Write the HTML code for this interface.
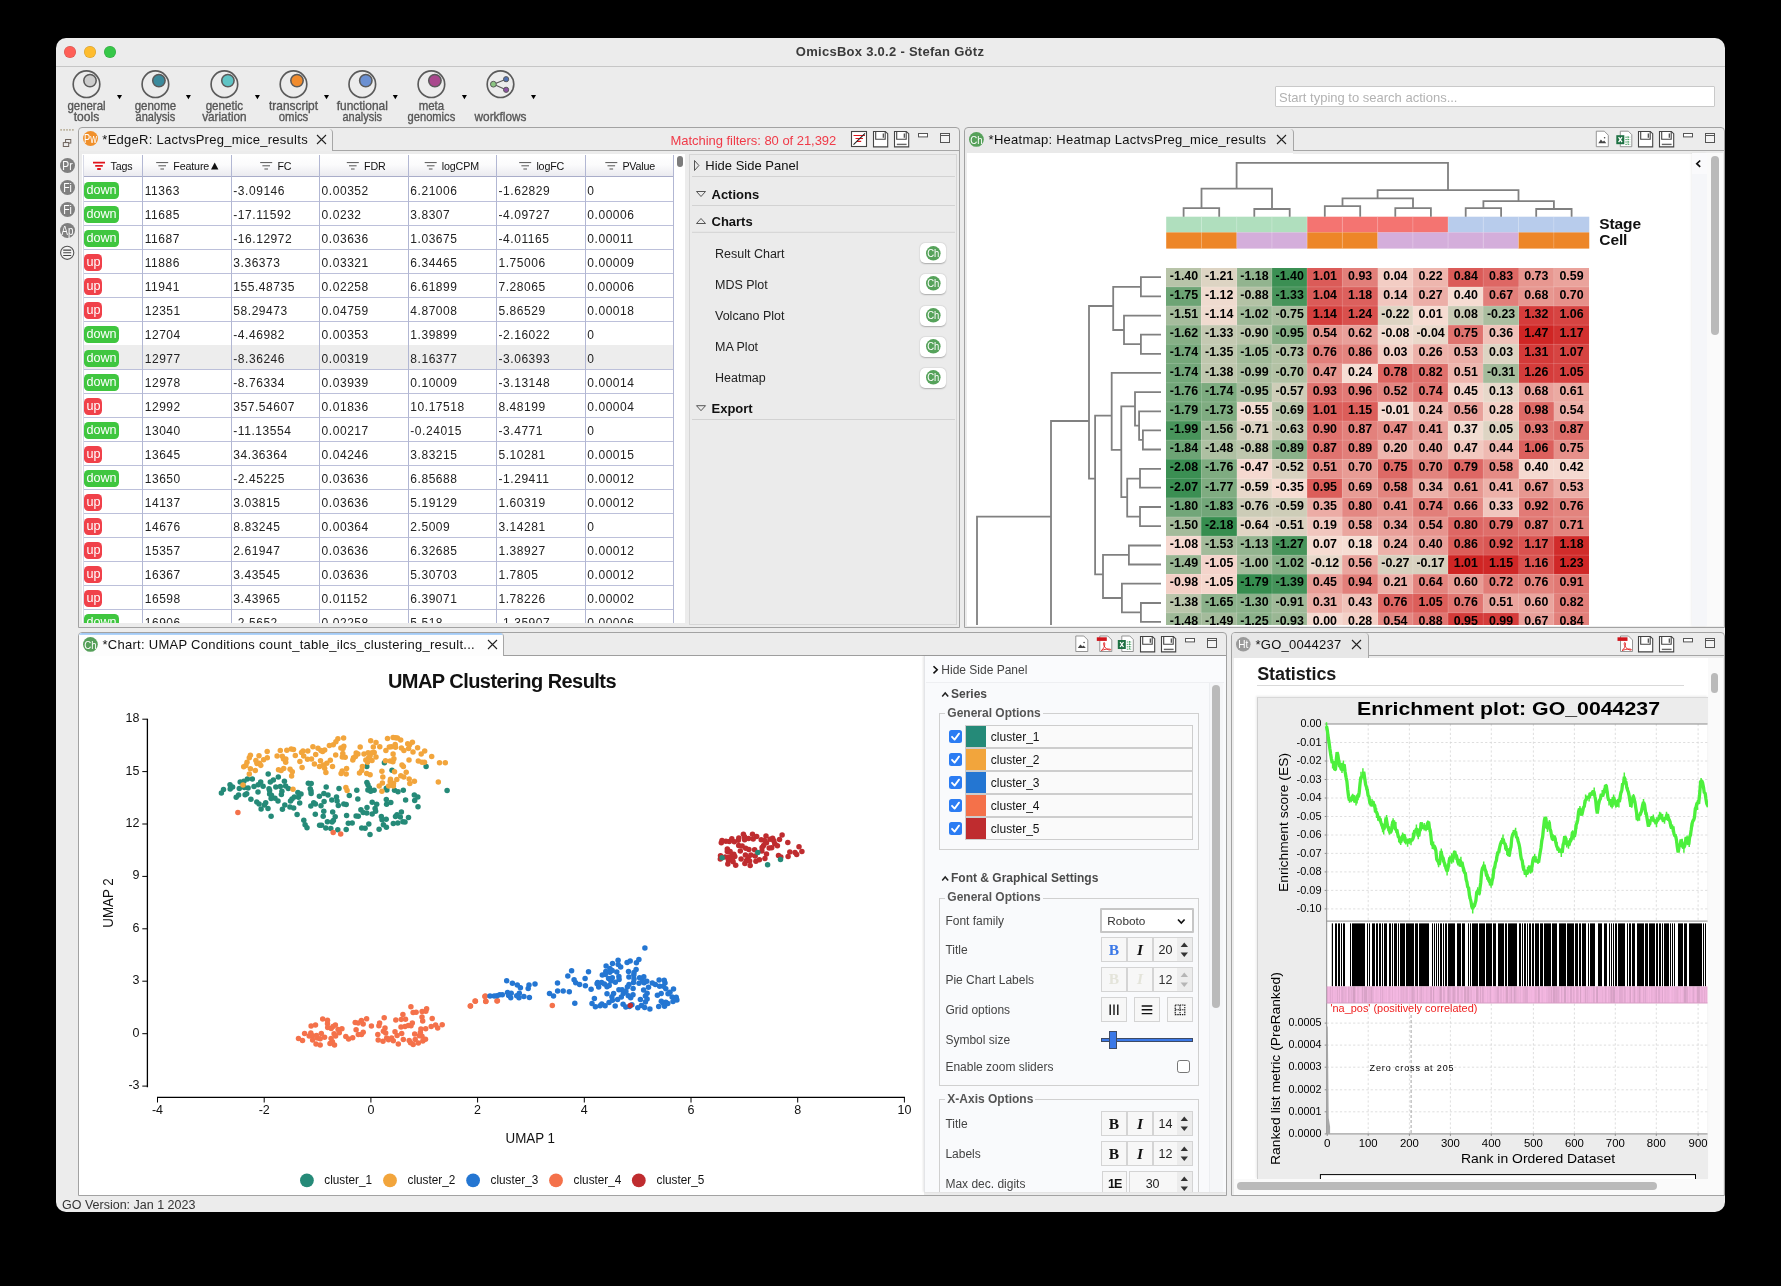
<!DOCTYPE html>
<html><head><meta charset="utf-8"><title>OmicsBox</title><style>
*{box-sizing:border-box;margin:0;padding:0}
html,body{width:1781px;height:1286px;background:#000;overflow:hidden}
body{position:relative;font-family:"Liberation Sans",sans-serif;font-size:13px;color:#111}
.a{position:absolute}
.t{position:absolute;white-space:nowrap;line-height:1}
svg{position:absolute;overflow:visible}
#win{left:56px;top:38px;width:1669px;height:1173.6px;background:#ececec;border-radius:10px;overflow:hidden}
.pnl{position:absolute;border:1px solid #a2a2a2;border-radius:4px 4px 0 0;background:#ececec}
.tabtxt{position:absolute;white-space:nowrap;font-size:13px;line-height:16px;color:#111;letter-spacing:0.27px}
.cell{position:absolute;font-size:12px;line-height:14px;color:#222;white-space:nowrap;letter-spacing:0.55px}
.hdr{position:absolute;letter-spacing:-0.15px;font-size:10.7px;line-height:14px;color:#111;white-space:nowrap}
.tag{position:absolute;height:17px;border-radius:4.5px;color:#fff;font-size:12.6px;line-height:17.4px;padding-left:2.4px;letter-spacing:-0.1px}
.hm{position:absolute;font-weight:bold;font-size:12.4px;line-height:16.6px;text-align:center;color:#000;width:35.6px;height:19.5px;letter-spacing:0}
.lbl{position:absolute;font-size:12px;line-height:14px;color:#444;white-space:nowrap}
.bl{position:absolute;font-size:12px;line-height:14px;color:#4a4a4a;font-weight:bold;white-space:nowrap}
.fs{position:absolute;border:1px solid #d0d0d0}
.btn{position:absolute;border:1px solid #d4d4d4;background:#f7f7f7}
.dj{position:absolute;white-space:nowrap;line-height:1;color:#000}
</style></head><body><div id="root" style="position:absolute;left:0;top:0;width:1781px;height:1286px;will-change:transform">
<div id="win" class="a"></div>
<div class="a" style="left:56px;top:66px;width:1669px;height:1px;background:#c6c6c6"></div>
<div class="a" style="left:63.8px;top:46px;width:12px;height:12px;border-radius:50%;background:#fe5f57;box-shadow:inset 0 0 0 0.5px rgba(0,0,0,.18)"></div>
<div class="a" style="left:83.8px;top:46px;width:12px;height:12px;border-radius:50%;background:#febc2e;box-shadow:inset 0 0 0 0.5px rgba(0,0,0,.18)"></div>
<div class="a" style="left:104.0px;top:46px;width:12px;height:12px;border-radius:50%;background:#36c748;box-shadow:inset 0 0 0 0.5px rgba(0,0,0,.18)"></div>
<div class="t" style="left:690px;width:400px;text-align:center;top:45px;font-size:13px;font-weight:bold;color:#3b3b3b;line-height:14px;letter-spacing:0.28px">OmicsBox 3.0.2 - Stefan Götz</div>
<svg class="a" style="left:0;top:0" width="1781" height="140"><circle cx="86.5" cy="84.2" r="13.3" fill="none" stroke="#5a5a5a" stroke-width="1.65"/><circle cx="90.0" cy="80.6" r="6.2" fill="#cccccc" stroke="#5a5a5a" stroke-width="1.55"/><path d="M117.0 95 h5 l-2.5 4.2 z" fill="#000"/><text x="86.5" y="109.9" text-anchor="middle" font-size="13.1" fill="#555" stroke="#555" stroke-width="0.35" textLength="38.2" lengthAdjust="spacingAndGlyphs">general</text><text x="86.5" y="121.3" text-anchor="middle" font-size="13.1" fill="#555" stroke="#555" stroke-width="0.35" textLength="25.5" lengthAdjust="spacingAndGlyphs">tools</text><circle cx="155.4" cy="84.2" r="13.3" fill="none" stroke="#5a5a5a" stroke-width="1.65"/><circle cx="158.9" cy="80.6" r="6.2" fill="#3b8a9c" stroke="#5a5a5a" stroke-width="1.55"/><path d="M185.9 95 h5 l-2.5 4.2 z" fill="#000"/><text x="155.4" y="109.9" text-anchor="middle" font-size="13.1" fill="#555" stroke="#555" stroke-width="0.35" textLength="41.5" lengthAdjust="spacingAndGlyphs">genome</text><text x="155.4" y="121.3" text-anchor="middle" font-size="13.1" fill="#555" stroke="#555" stroke-width="0.35" textLength="39.6" lengthAdjust="spacingAndGlyphs">analysis</text><circle cx="224.4" cy="84.2" r="13.3" fill="none" stroke="#5a5a5a" stroke-width="1.65"/><circle cx="227.9" cy="80.6" r="6.2" fill="#5fc4c5" stroke="#5a5a5a" stroke-width="1.55"/><path d="M254.9 95 h5 l-2.5 4.2 z" fill="#000"/><text x="224.4" y="109.9" text-anchor="middle" font-size="13.1" fill="#555" stroke="#555" stroke-width="0.35" textLength="37.5" lengthAdjust="spacingAndGlyphs">genetic</text><text x="224.4" y="121.3" text-anchor="middle" font-size="13.1" fill="#555" stroke="#555" stroke-width="0.35" textLength="44.5" lengthAdjust="spacingAndGlyphs">variation</text><circle cx="293.5" cy="84.2" r="13.3" fill="none" stroke="#5a5a5a" stroke-width="1.65"/><circle cx="297.0" cy="80.6" r="6.2" fill="#f08b2d" stroke="#5a5a5a" stroke-width="1.55"/><path d="M324.0 95 h5 l-2.5 4.2 z" fill="#000"/><text x="293.5" y="109.9" text-anchor="middle" font-size="13.1" fill="#555" stroke="#555" stroke-width="0.35" textLength="49.0" lengthAdjust="spacingAndGlyphs">transcript</text><text x="293.5" y="121.3" text-anchor="middle" font-size="13.1" fill="#555" stroke="#555" stroke-width="0.35" textLength="29.5" lengthAdjust="spacingAndGlyphs">omics</text><circle cx="362.3" cy="84.2" r="13.3" fill="none" stroke="#5a5a5a" stroke-width="1.65"/><circle cx="365.8" cy="80.6" r="6.2" fill="#6b90d2" stroke="#5a5a5a" stroke-width="1.55"/><path d="M392.8 95 h5 l-2.5 4.2 z" fill="#000"/><text x="362.3" y="109.9" text-anchor="middle" font-size="13.1" fill="#555" stroke="#555" stroke-width="0.35" textLength="51.0" lengthAdjust="spacingAndGlyphs">functional</text><text x="362.3" y="121.3" text-anchor="middle" font-size="13.1" fill="#555" stroke="#555" stroke-width="0.35" textLength="39.6" lengthAdjust="spacingAndGlyphs">analysis</text><circle cx="431.4" cy="84.2" r="13.3" fill="none" stroke="#5a5a5a" stroke-width="1.65"/><circle cx="434.9" cy="80.6" r="6.2" fill="#a9488d" stroke="#5a5a5a" stroke-width="1.55"/><path d="M461.9 95 h5 l-2.5 4.2 z" fill="#000"/><text x="431.4" y="109.9" text-anchor="middle" font-size="13.1" fill="#555" stroke="#555" stroke-width="0.35" textLength="25.4" lengthAdjust="spacingAndGlyphs">meta</text><text x="431.4" y="121.3" text-anchor="middle" font-size="13.1" fill="#555" stroke="#555" stroke-width="0.35" textLength="47.7" lengthAdjust="spacingAndGlyphs">genomics</text><circle cx="500.5" cy="84.2" r="13.3" fill="none" stroke="#5a5a5a" stroke-width="1.65"/><path d="M493.5 84.2 L506.0 79.2 M493.5 84.2 L506.0 89.8" stroke="#595959" stroke-width="1.2"/><circle cx="493.4" cy="84.2" r="2.9" fill="#8cc682" stroke="#595959" stroke-width="1"/><circle cx="506.1" cy="79.2" r="2.6" fill="#5172b3" stroke="#595959" stroke-width="1"/><circle cx="506.1" cy="89.8" r="2.6" fill="#8d52a3" stroke="#595959" stroke-width="1"/><path d="M531.0 95 h5 l-2.5 4.2 z" fill="#000"/><text x="500.5" y="121.3" text-anchor="middle" font-size="13.1" fill="#555" stroke="#555" stroke-width="0.35" textLength="51.9" lengthAdjust="spacingAndGlyphs">workflows</text></svg>
<div class="a" style="left:1275px;top:86px;width:1440px;"></div>
<div class="a" style="left:1275px;top:86px;width:440px;height:21px;background:#fff;border:1px solid #c9c9c9;border-radius:1px"></div>
<div class="t" style="left:1279px;top:91px;font-size:13px;color:#b2b2b2;line-height:14px">Start typing to search actions...</div>
<svg style="left:0;top:0" width="100" height="140"><rect x="60.4" y="129.2" width="1.4" height="1.4" fill="#a29474"/><rect x="63.4" y="129.2" width="1.4" height="1.4" fill="#a29474"/><rect x="66.3" y="129.2" width="1.4" height="1.4" fill="#a29474"/><rect x="69.2" y="129.2" width="1.4" height="1.4" fill="#a29474"/><rect x="72.2" y="129.2" width="1.4" height="1.4" fill="#a29474"/></svg>
<svg class="a" style="left:0;top:0" width="100" height="300"><rect x="65.6" y="139.5" width="5.2" height="3.6" fill="#ececec" stroke="#675c55" stroke-width="0.95"/><rect x="63.3" y="142.6" width="5.4" height="3.9" fill="#ececec" stroke="#675c55" stroke-width="0.95"/><circle cx="67.2" cy="252.8" r="6.6" fill="#f4f4f4" stroke="#555" stroke-width="1.1"/><path d="M63.2 250.1h8M63.2 252.8h8M63.2 255.5h8" stroke="#444" stroke-width="1.1"/></svg>
<svg style="left:59.7px;top:157.5px" width="15.0" height="15.0"><circle cx="7.5" cy="7.5" r="7.5" fill="#7f7f7f"/><text x="7.5" y="11.8" text-anchor="middle" font-size="12.0" fill="#fff" textLength="10.3" lengthAdjust="spacingAndGlyphs">Pr</text></svg>
<svg style="left:59.7px;top:179.6px" width="15.0" height="15.0"><circle cx="7.5" cy="7.5" r="7.5" fill="#7f7f7f"/><text x="7.5" y="11.8" text-anchor="middle" font-size="12.0" fill="#fff" textLength="8.7" lengthAdjust="spacingAndGlyphs">Fi</text></svg>
<svg style="left:59.7px;top:201.5px" width="15.0" height="15.0"><circle cx="7.5" cy="7.5" r="7.5" fill="#7f7f7f"/><text x="7.5" y="11.8" text-anchor="middle" font-size="12.0" fill="#fff" textLength="8.7" lengthAdjust="spacingAndGlyphs">Fi</text></svg>
<svg style="left:59.7px;top:223.4px" width="15.0" height="15.0"><circle cx="7.5" cy="7.5" r="7.5" fill="#7f7f7f"/><text x="7.5" y="11.8" text-anchor="middle" font-size="12.0" fill="#fff" textLength="11.8" lengthAdjust="spacingAndGlyphs">Ap</text></svg>
<div class="t" style="left:62px;top:1198px;font-size:12.5px;color:#333;line-height:14px">GO Version: Jan 1 2023</div>
<div class="pnl" style="left:78px;top:127px;width:882px;height:500.5px"></div>
<div class="a" style="left:79px;top:150px;width:880px;height:1px;background:#a6a6a6"></div>
<div class="a" style="left:79px;top:128.5px;width:254px;height:22.5px;background:#eeeeee;border-right:1px solid #a6a6a6;border-radius:3px 4px 0 0"></div>
<svg style="left:82.6px;top:131.3px" width="15.0" height="15.0"><circle cx="7.5" cy="7.5" r="7.5" fill="#f0902b"/><text x="7.5" y="11.8" text-anchor="middle" font-size="12.0" fill="#fff" textLength="12.8" lengthAdjust="spacingAndGlyphs">Pw</text></svg>
<div class="tabtxt" style="left:102.3px;top:131.5px">*EdgeR: LactvsPreg_mice_results</div>
<svg style="left:316px;top:134px" width="11" height="11"><path d="M1 1l9 9M10 1l-9 9" stroke="#222" stroke-width="1.1"/></svg>
<div class="tabtxt" style="left:670.5px;top:132.5px;color:#f03a48;letter-spacing:-0.04px">Matching filters: 80 of 21,392</div>
<svg style="left:0;top:0" width="1781" height="160"><rect x="851.5" y="131.5" width="15" height="15" fill="#fff" stroke="#444" stroke-width="1.1"/><path d="M853.5 135.5h11.5M855.5 138.5h7.5M857 141.4h4.2" stroke="#e0141c" stroke-width="1.1"/><path d="M853.5 144.6l11.5 -11.2" stroke="#222" stroke-width="1.1"/><path d="M873.5 131.5 h11.8 l2.4 2.2 v13.2 h-14.2 z" fill="#fff" stroke="#444" stroke-width="1.1"/><path d="M875.7 131.7 v7.6 h9.5 v-7.6" fill="none" stroke="#444" stroke-width="1.1"/><path d="M883.3 133.6 v4.2" stroke="#444" stroke-width="1.2"/><path d="M894.5 131.5 h11.8 l2.4 2.2 v13.2 h-14.2 z" fill="#fff" stroke="#444" stroke-width="1.1"/><path d="M896.7 131.7 v7.6 h9.5 v-7.6" fill="none" stroke="#444" stroke-width="1.1"/><path d="M904.3 133.6 v4.2" stroke="#444" stroke-width="1.2"/><path d="M896.8 144.4 h9.8" stroke="#666" stroke-width="1.4"/><rect x="918.5" y="133.5" width="9" height="3.4" fill="#fff" stroke="#555" stroke-width="1"/><rect x="940.5" y="133.5" width="9" height="9" fill="#f4f4f4" stroke="#555" stroke-width="1"/><path d="M940.5 135.5 h9" stroke="#555" stroke-width="1"/></svg>
<div class="a" style="left:82px;top:154px;width:603px;height:469px;background:#fff;overflow:hidden" id="tblwrap">
<div class="a" style="left:1.0px;top:1px;width:590.7px;height:21.5px;background:linear-gradient(#ffffff 0%,#fbfbfc 45%,#e9e9ee 100%)"></div>
<div class="a" style="left:1.0px;top:21.6px;width:590.7px;height:1.6px;background:#a9adc9"></div>
<div class="a" style="left:1.0px;top:47.0px;width:590.7px;height:1px;background:#bcc0da"></div>
<div class="tag" style="left:2.2px;top:28.4px;width:34.8px;background:#3fc63f">down</div>
<div class="cell" style="left:62.7px;top:29.8px">11363</div>
<div class="cell" style="left:151.3px;top:29.8px">-3.09146</div>
<div class="cell" style="left:239.6px;top:29.8px">0.00352</div>
<div class="cell" style="left:328.3px;top:29.8px">6.21006</div>
<div class="cell" style="left:416.5px;top:29.8px">-1.62829</div>
<div class="cell" style="left:505.3px;top:29.8px">0</div>
<div class="a" style="left:1.0px;top:71.0px;width:590.7px;height:1px;background:#bcc0da"></div>
<div class="tag" style="left:2.2px;top:52.4px;width:34.8px;background:#3fc63f">down</div>
<div class="cell" style="left:62.7px;top:53.8px">11685</div>
<div class="cell" style="left:151.3px;top:53.8px">-17.11592</div>
<div class="cell" style="left:239.6px;top:53.8px">0.0232</div>
<div class="cell" style="left:328.3px;top:53.8px">3.8307</div>
<div class="cell" style="left:416.5px;top:53.8px">-4.09727</div>
<div class="cell" style="left:505.3px;top:53.8px">0.00006</div>
<div class="a" style="left:1.0px;top:95.0px;width:590.7px;height:1px;background:#bcc0da"></div>
<div class="tag" style="left:2.2px;top:76.4px;width:34.8px;background:#3fc63f">down</div>
<div class="cell" style="left:62.7px;top:77.8px">11687</div>
<div class="cell" style="left:151.3px;top:77.8px">-16.12972</div>
<div class="cell" style="left:239.6px;top:77.8px">0.03636</div>
<div class="cell" style="left:328.3px;top:77.8px">1.03675</div>
<div class="cell" style="left:416.5px;top:77.8px">-4.01165</div>
<div class="cell" style="left:505.3px;top:77.8px">0.00011</div>
<div class="a" style="left:1.0px;top:119.0px;width:590.7px;height:1px;background:#bcc0da"></div>
<div class="tag" style="left:2.2px;top:100.4px;width:17.8px;background:#f0414a">up</div>
<div class="cell" style="left:62.7px;top:101.8px">11886</div>
<div class="cell" style="left:151.3px;top:101.8px">3.36373</div>
<div class="cell" style="left:239.6px;top:101.8px">0.03321</div>
<div class="cell" style="left:328.3px;top:101.8px">6.34465</div>
<div class="cell" style="left:416.5px;top:101.8px">1.75006</div>
<div class="cell" style="left:505.3px;top:101.8px">0.00009</div>
<div class="a" style="left:1.0px;top:143.0px;width:590.7px;height:1px;background:#bcc0da"></div>
<div class="tag" style="left:2.2px;top:124.4px;width:17.8px;background:#f0414a">up</div>
<div class="cell" style="left:62.7px;top:125.8px">11941</div>
<div class="cell" style="left:151.3px;top:125.8px">155.48735</div>
<div class="cell" style="left:239.6px;top:125.8px">0.02258</div>
<div class="cell" style="left:328.3px;top:125.8px">6.61899</div>
<div class="cell" style="left:416.5px;top:125.8px">7.28065</div>
<div class="cell" style="left:505.3px;top:125.8px">0.00006</div>
<div class="a" style="left:1.0px;top:167.0px;width:590.7px;height:1px;background:#bcc0da"></div>
<div class="tag" style="left:2.2px;top:148.4px;width:17.8px;background:#f0414a">up</div>
<div class="cell" style="left:62.7px;top:149.8px">12351</div>
<div class="cell" style="left:151.3px;top:149.8px">58.29473</div>
<div class="cell" style="left:239.6px;top:149.8px">0.04759</div>
<div class="cell" style="left:328.3px;top:149.8px">4.87008</div>
<div class="cell" style="left:416.5px;top:149.8px">5.86529</div>
<div class="cell" style="left:505.3px;top:149.8px">0.00018</div>
<div class="a" style="left:1.0px;top:191.0px;width:590.7px;height:1px;background:#bcc0da"></div>
<div class="tag" style="left:2.2px;top:172.4px;width:34.8px;background:#3fc63f">down</div>
<div class="cell" style="left:62.7px;top:173.8px">12704</div>
<div class="cell" style="left:151.3px;top:173.8px">-4.46982</div>
<div class="cell" style="left:239.6px;top:173.8px">0.00353</div>
<div class="cell" style="left:328.3px;top:173.8px">1.39899</div>
<div class="cell" style="left:416.5px;top:173.8px">-2.16022</div>
<div class="cell" style="left:505.3px;top:173.8px">0</div>
<div class="a" style="left:1.0px;top:191.0px;width:590.7px;height:24px;background:#ededed"></div>
<div class="a" style="left:1.0px;top:215.0px;width:590.7px;height:1px;background:#bcc0da"></div>
<div class="tag" style="left:2.2px;top:196.4px;width:34.8px;background:#3fc63f">down</div>
<div class="cell" style="left:62.7px;top:197.8px">12977</div>
<div class="cell" style="left:151.3px;top:197.8px">-8.36246</div>
<div class="cell" style="left:239.6px;top:197.8px">0.00319</div>
<div class="cell" style="left:328.3px;top:197.8px">8.16377</div>
<div class="cell" style="left:416.5px;top:197.8px">-3.06393</div>
<div class="cell" style="left:505.3px;top:197.8px">0</div>
<div class="a" style="left:1.0px;top:239.0px;width:590.7px;height:1px;background:#bcc0da"></div>
<div class="tag" style="left:2.2px;top:220.4px;width:34.8px;background:#3fc63f">down</div>
<div class="cell" style="left:62.7px;top:221.8px">12978</div>
<div class="cell" style="left:151.3px;top:221.8px">-8.76334</div>
<div class="cell" style="left:239.6px;top:221.8px">0.03939</div>
<div class="cell" style="left:328.3px;top:221.8px">0.10009</div>
<div class="cell" style="left:416.5px;top:221.8px">-3.13148</div>
<div class="cell" style="left:505.3px;top:221.8px">0.00014</div>
<div class="a" style="left:1.0px;top:263.0px;width:590.7px;height:1px;background:#bcc0da"></div>
<div class="tag" style="left:2.2px;top:244.4px;width:17.8px;background:#f0414a">up</div>
<div class="cell" style="left:62.7px;top:245.8px">12992</div>
<div class="cell" style="left:151.3px;top:245.8px">357.54607</div>
<div class="cell" style="left:239.6px;top:245.8px">0.01836</div>
<div class="cell" style="left:328.3px;top:245.8px">10.17518</div>
<div class="cell" style="left:416.5px;top:245.8px">8.48199</div>
<div class="cell" style="left:505.3px;top:245.8px">0.00004</div>
<div class="a" style="left:1.0px;top:287.0px;width:590.7px;height:1px;background:#bcc0da"></div>
<div class="tag" style="left:2.2px;top:268.4px;width:34.8px;background:#3fc63f">down</div>
<div class="cell" style="left:62.7px;top:269.8px">13040</div>
<div class="cell" style="left:151.3px;top:269.8px">-11.13554</div>
<div class="cell" style="left:239.6px;top:269.8px">0.00217</div>
<div class="cell" style="left:328.3px;top:269.8px">-0.24015</div>
<div class="cell" style="left:416.5px;top:269.8px">-3.4771</div>
<div class="cell" style="left:505.3px;top:269.8px">0</div>
<div class="a" style="left:1.0px;top:311.0px;width:590.7px;height:1px;background:#bcc0da"></div>
<div class="tag" style="left:2.2px;top:292.4px;width:17.8px;background:#f0414a">up</div>
<div class="cell" style="left:62.7px;top:293.8px">13645</div>
<div class="cell" style="left:151.3px;top:293.8px">34.36364</div>
<div class="cell" style="left:239.6px;top:293.8px">0.04246</div>
<div class="cell" style="left:328.3px;top:293.8px">3.83215</div>
<div class="cell" style="left:416.5px;top:293.8px">5.10281</div>
<div class="cell" style="left:505.3px;top:293.8px">0.00015</div>
<div class="a" style="left:1.0px;top:335.0px;width:590.7px;height:1px;background:#bcc0da"></div>
<div class="tag" style="left:2.2px;top:316.4px;width:34.8px;background:#3fc63f">down</div>
<div class="cell" style="left:62.7px;top:317.8px">13650</div>
<div class="cell" style="left:151.3px;top:317.8px">-2.45225</div>
<div class="cell" style="left:239.6px;top:317.8px">0.03636</div>
<div class="cell" style="left:328.3px;top:317.8px">6.85688</div>
<div class="cell" style="left:416.5px;top:317.8px">-1.29411</div>
<div class="cell" style="left:505.3px;top:317.8px">0.00012</div>
<div class="a" style="left:1.0px;top:359.0px;width:590.7px;height:1px;background:#bcc0da"></div>
<div class="tag" style="left:2.2px;top:340.4px;width:17.8px;background:#f0414a">up</div>
<div class="cell" style="left:62.7px;top:341.8px">14137</div>
<div class="cell" style="left:151.3px;top:341.8px">3.03815</div>
<div class="cell" style="left:239.6px;top:341.8px">0.03636</div>
<div class="cell" style="left:328.3px;top:341.8px">5.19129</div>
<div class="cell" style="left:416.5px;top:341.8px">1.60319</div>
<div class="cell" style="left:505.3px;top:341.8px">0.00012</div>
<div class="a" style="left:1.0px;top:383.0px;width:590.7px;height:1px;background:#bcc0da"></div>
<div class="tag" style="left:2.2px;top:364.4px;width:17.8px;background:#f0414a">up</div>
<div class="cell" style="left:62.7px;top:365.8px">14676</div>
<div class="cell" style="left:151.3px;top:365.8px">8.83245</div>
<div class="cell" style="left:239.6px;top:365.8px">0.00364</div>
<div class="cell" style="left:328.3px;top:365.8px">2.5009</div>
<div class="cell" style="left:416.5px;top:365.8px">3.14281</div>
<div class="cell" style="left:505.3px;top:365.8px">0</div>
<div class="a" style="left:1.0px;top:407.0px;width:590.7px;height:1px;background:#bcc0da"></div>
<div class="tag" style="left:2.2px;top:388.4px;width:17.8px;background:#f0414a">up</div>
<div class="cell" style="left:62.7px;top:389.8px">15357</div>
<div class="cell" style="left:151.3px;top:389.8px">2.61947</div>
<div class="cell" style="left:239.6px;top:389.8px">0.03636</div>
<div class="cell" style="left:328.3px;top:389.8px">6.32685</div>
<div class="cell" style="left:416.5px;top:389.8px">1.38927</div>
<div class="cell" style="left:505.3px;top:389.8px">0.00012</div>
<div class="a" style="left:1.0px;top:431.0px;width:590.7px;height:1px;background:#bcc0da"></div>
<div class="tag" style="left:2.2px;top:412.4px;width:17.8px;background:#f0414a">up</div>
<div class="cell" style="left:62.7px;top:413.8px">16367</div>
<div class="cell" style="left:151.3px;top:413.8px">3.43545</div>
<div class="cell" style="left:239.6px;top:413.8px">0.03636</div>
<div class="cell" style="left:328.3px;top:413.8px">5.30703</div>
<div class="cell" style="left:416.5px;top:413.8px">1.7805</div>
<div class="cell" style="left:505.3px;top:413.8px">0.00012</div>
<div class="a" style="left:1.0px;top:455.0px;width:590.7px;height:1px;background:#bcc0da"></div>
<div class="tag" style="left:2.2px;top:436.4px;width:17.8px;background:#f0414a">up</div>
<div class="cell" style="left:62.7px;top:437.8px">16598</div>
<div class="cell" style="left:151.3px;top:437.8px">3.43965</div>
<div class="cell" style="left:239.6px;top:437.8px">0.01152</div>
<div class="cell" style="left:328.3px;top:437.8px">6.39071</div>
<div class="cell" style="left:416.5px;top:437.8px">1.78226</div>
<div class="cell" style="left:505.3px;top:437.8px">0.00002</div>
<div class="a" style="left:1.0px;top:479.0px;width:590.7px;height:1px;background:#bcc0da"></div>
<div class="tag" style="left:2.2px;top:460.4px;width:34.8px;background:#3fc63f">down</div>
<div class="cell" style="left:62.7px;top:461.8px">16906</div>
<div class="cell" style="left:151.3px;top:461.8px">-2.5652</div>
<div class="cell" style="left:239.6px;top:461.8px">0.02258</div>
<div class="cell" style="left:328.3px;top:461.8px">5.518</div>
<div class="cell" style="left:416.5px;top:461.8px">-1.35907</div>
<div class="cell" style="left:505.3px;top:461.8px">0.00006</div>
<div class="a" style="left:0.5px;top:1px;width:1px;height:480px;background:#d8dae6"></div>
<div class="a" style="left:59.9px;top:1px;width:1px;height:480px;background:#b2b7d3"></div>
<div class="a" style="left:148.5px;top:1px;width:1px;height:480px;background:#b2b7d3"></div>
<div class="a" style="left:236.8px;top:1px;width:1px;height:480px;background:#b2b7d3"></div>
<div class="a" style="left:325.5px;top:1px;width:1px;height:480px;background:#b2b7d3"></div>
<div class="a" style="left:413.7px;top:1px;width:1px;height:480px;background:#b2b7d3"></div>
<div class="a" style="left:502.5px;top:1px;width:1px;height:480px;background:#b2b7d3"></div>
<div class="a" style="left:591.2px;top:1px;width:1px;height:480px;background:#b2b7d3"></div>
<div class="hdr" style="left:28.6px;top:5px">Tags</div>
<div class="hdr" style="left:91.3px;top:5px">Feature</div>
<div class="hdr" style="left:195.4px;top:5px">FC</div>
<div class="hdr" style="left:282.0px;top:5px">FDR</div>
<div class="hdr" style="left:359.8px;top:5px">logCPM</div>
<div class="hdr" style="left:454.4px;top:5px">logFC</div>
<div class="hdr" style="left:540.4px;top:5px">PValue</div>
<svg style="left:0;top:0" width="610" height="30"><path d="M11.0 8.6h12M13.2 11.8h7.6M15.2 15h3.6" stroke="#e0141c" stroke-width="1.8"/><path d="M74.2 8.6h12M76.4 11.8h7.6M78.4 15h3.6" stroke="#555" stroke-width="1"/><path d="M178.2 8.6h12M180.4 11.8h7.6M182.4 15h3.6" stroke="#555" stroke-width="1"/><path d="M264.8 8.6h12M267.0 11.8h7.6M269.0 15h3.6" stroke="#555" stroke-width="1"/><path d="M342.7 8.6h12M344.9 11.8h7.6M346.9 15h3.6" stroke="#555" stroke-width="1"/><path d="M437.2 8.6h12M439.4 11.8h7.6M441.4 15h3.6" stroke="#555" stroke-width="1"/><path d="M523.3 8.6h12M525.5 11.8h7.6M527.5 15h3.6" stroke="#555" stroke-width="1"/><path d="M129.0 15.6 l3.7 -7.2 l3.7 7.2 z" fill="#111"/></svg>
<div class="a" style="left:595.3px;top:2px;width:5.6px;height:11px;border-radius:3px;background:#7c7c7c"></div>
</div>
<div class="a" style="left:689px;top:154px;width:268px;height:471px;border:1px solid #d6d6d6;background:#ebebeb"></div>
<svg style="left:0;top:0" width="1000" height="640"><path d="M694.5 160.5v10l4.4 -5z" fill="none" stroke="#444" stroke-width="0.9"/><path d="M692 176.5h263" stroke="#d2d2d2" stroke-width="1"/><path d="M692 205.5h263" stroke="#d2d2d2" stroke-width="1"/><path d="M692 232.3h263" stroke="#d2d2d2" stroke-width="1"/><path d="M692 419.5h263" stroke="#d2d2d2" stroke-width="1"/><path d="M696.5 191.5h9l-4.5 5z" fill="none" stroke="#444" stroke-width="0.9"/><path d="M696.5 223.5h9l-4.5 -5z" fill="none" stroke="#444" stroke-width="0.9"/><path d="M696.5 405.7h9l-4.5 5z" fill="none" stroke="#444" stroke-width="0.9"/></svg>
<div class="t" style="left:705.3px;top:159px;font-size:13px;line-height:14px;color:#111">Hide Side Panel</div>
<div class="t" style="left:711.5px;top:188.1px;font-size:13px;font-weight:bold;line-height:14px;color:#111">Actions</div>
<div class="t" style="left:711.5px;top:215.0px;font-size:13px;font-weight:bold;line-height:14px;color:#111">Charts</div>
<div class="t" style="left:711.5px;top:402.2px;font-size:13px;font-weight:bold;line-height:14px;color:#111">Export</div>
<div class="t" style="left:715px;top:247.1px;font-size:12.5px;line-height:14px;color:#222">Result Chart</div>
<div class="a" style="left:920px;top:243.4px;width:26px;height:20px;border-radius:5px;background:#fff;box-shadow:0 0.5px 1.5px rgba(0,0,0,.28)"></div>
<svg style="left:925.6px;top:245.5px" width="14.6" height="14.6"><circle cx="7.3" cy="7.3" r="7.3" fill="#55a25a"/><text x="7.3" y="11.4" text-anchor="middle" font-size="11.6" fill="#fff" textLength="12.1" lengthAdjust="spacingAndGlyphs">Ch</text></svg>
<div class="t" style="left:715px;top:278.0px;font-size:12.5px;line-height:14px;color:#222">MDS Plot</div>
<div class="a" style="left:920px;top:274.3px;width:26px;height:20px;border-radius:5px;background:#fff;box-shadow:0 0.5px 1.5px rgba(0,0,0,.28)"></div>
<svg style="left:925.6px;top:276.4px" width="14.6" height="14.6"><circle cx="7.3" cy="7.3" r="7.3" fill="#55a25a"/><text x="7.3" y="11.4" text-anchor="middle" font-size="11.6" fill="#fff" textLength="12.1" lengthAdjust="spacingAndGlyphs">Ch</text></svg>
<div class="t" style="left:715px;top:309.2px;font-size:12.5px;line-height:14px;color:#222">Volcano Plot</div>
<div class="a" style="left:920px;top:305.5px;width:26px;height:20px;border-radius:5px;background:#fff;box-shadow:0 0.5px 1.5px rgba(0,0,0,.28)"></div>
<svg style="left:925.6px;top:307.6px" width="14.6" height="14.6"><circle cx="7.3" cy="7.3" r="7.3" fill="#55a25a"/><text x="7.3" y="11.4" text-anchor="middle" font-size="11.6" fill="#fff" textLength="12.1" lengthAdjust="spacingAndGlyphs">Ch</text></svg>
<div class="t" style="left:715px;top:340.3px;font-size:12.5px;line-height:14px;color:#222">MA Plot</div>
<div class="a" style="left:920px;top:336.6px;width:26px;height:20px;border-radius:5px;background:#fff;box-shadow:0 0.5px 1.5px rgba(0,0,0,.28)"></div>
<svg style="left:925.6px;top:338.7px" width="14.6" height="14.6"><circle cx="7.3" cy="7.3" r="7.3" fill="#55a25a"/><text x="7.3" y="11.4" text-anchor="middle" font-size="11.6" fill="#fff" textLength="12.1" lengthAdjust="spacingAndGlyphs">Ch</text></svg>
<div class="t" style="left:715px;top:371.2px;font-size:12.5px;line-height:14px;color:#222">Heatmap</div>
<div class="a" style="left:920px;top:367.5px;width:26px;height:20px;border-radius:5px;background:#fff;box-shadow:0 0.5px 1.5px rgba(0,0,0,.28)"></div>
<svg style="left:925.6px;top:369.6px" width="14.6" height="14.6"><circle cx="7.3" cy="7.3" r="7.3" fill="#55a25a"/><text x="7.3" y="11.4" text-anchor="middle" font-size="11.6" fill="#fff" textLength="12.1" lengthAdjust="spacingAndGlyphs">Ch</text></svg>
<div class="pnl" style="left:964px;top:127px;width:761px;height:500.5px"></div>
<div class="a" style="left:1293px;top:150px;width:431px;height:1px;background:#a6a6a6"></div>
<div class="a" style="left:965px;top:128.5px;width:329px;height:24px;background:#e9e9e9;border-right:1px solid #a6a6a6;border-radius:3px 4px 0 0"></div>
<div class="a" style="left:967px;top:152.5px;width:756px;height:473.5px;background:#fff"></div>
<div class="a" style="left:1293px;top:151px;width:430px;height:3px;background:#ececec"></div>
<svg style="left:968.6px;top:131.9px" width="14.8" height="14.8"><circle cx="7.4" cy="7.4" r="7.4" fill="#56a05a"/><text x="7.4" y="11.6" text-anchor="middle" font-size="11.8" fill="#fff" textLength="12.3" lengthAdjust="spacingAndGlyphs">Ch</text></svg>
<div class="tabtxt" style="left:988.6px;top:131.5px">*Heatmap: Heatmap LactvsPreg_mice_results</div>
<svg style="left:1276px;top:134px" width="11" height="11"><path d="M1 1l9 9M10 1l-9 9" stroke="#222" stroke-width="1.1"/></svg>
<svg style="left:0;top:0" width="1781" height="160"><path d="M1596.3 131.2 h8 l4 4 v11.5 h-12 z" fill="#fff" stroke="#8a8a8a" stroke-width="0.9"/><path d="M1598.3 143.2 l2.6 -3.6 l2 2.2 l1.2 -1.2 l2.2 2.6 z" fill="#444"/><circle cx="1604.6" cy="137.7" r="0.8" fill="#444"/><path d="M1620.3 131.2 h8 l3.5 3.5 v12 h-11.5 z" fill="#fff" stroke="#8a8a8a" stroke-width="0.9"/><path d="M1625.3 137.2 h5 M1625.3 139.6 h5 M1625.3 142.0 h5 M1625.3 144.4 h5 M1628.0 136.2 v8" stroke="#3c9a5a" stroke-width="0.9" stroke-dasharray="1.6 0.8"/><rect x="1616.3" y="135.2" width="8" height="9" fill="#1f7244"/><path d="M1618.6 137.2 l3.4 5 M1622.0 137.2 l-3.4 5" stroke="#fff" stroke-width="1.3"/><path d="M1638.5 131.5 h11.8 l2.4 2.2 v13.2 h-14.2 z" fill="#fff" stroke="#444" stroke-width="1.1"/><path d="M1640.7 131.7 v7.6 h9.5 v-7.6" fill="none" stroke="#444" stroke-width="1.1"/><path d="M1648.3 133.6 v4.2" stroke="#444" stroke-width="1.2"/><path d="M1659.5 131.5 h11.8 l2.4 2.2 v13.2 h-14.2 z" fill="#fff" stroke="#444" stroke-width="1.1"/><path d="M1661.7 131.7 v7.6 h9.5 v-7.6" fill="none" stroke="#444" stroke-width="1.1"/><path d="M1669.3 133.6 v4.2" stroke="#444" stroke-width="1.2"/><path d="M1661.8 144.4 h9.8" stroke="#666" stroke-width="1.4"/><rect x="1683.5" y="133.5" width="9" height="3.4" fill="#fff" stroke="#555" stroke-width="1"/><rect x="1705.5" y="133.5" width="9" height="9" fill="#f4f4f4" stroke="#555" stroke-width="1"/><path d="M1705.5 135.5 h9" stroke="#555" stroke-width="1"/></svg>
<div class="a" style="left:1692px;top:153px;width:15px;height:473px;background:#f5f6f9;box-shadow:-1px 0 2px rgba(0,0,0,.06)"></div>
<div class="a" style="left:1692px;top:153px;width:15px;height:21px;background:#fafafc"></div>
<svg style="left:1694px;top:159px" width="10" height="10"><path d="M6.2 1.5L2.8 4.7L6.2 7.9" fill="none" stroke="#111" stroke-width="1.7"/></svg>
<div class="a" style="left:1707px;top:153px;width:16px;height:473px;background:#fafafa"></div>
<div class="a" style="left:1711.3px;top:156px;width:7.3px;height:179px;border-radius:4px;background:#bababa"></div>
<div class="a" style="left:967px;top:153px;width:725px;height:472px;overflow:hidden">
<div class="hm" style="left:199.20px;top:114.70px;background:#b8c4a9">-1.40</div>
<div class="hm" style="left:234.43px;top:114.70px;background:#ddd4c3">-1.21</div>
<div class="hm" style="left:269.66px;top:114.70px;background:#92b48f">-1.18</div>
<div class="hm" style="left:304.89px;top:114.70px;background:#3b8f53">-1.40</div>
<div class="hm" style="left:340.12px;top:114.70px;background:#db5b58">1.01</div>
<div class="hm" style="left:375.35px;top:114.70px;background:#e27f7a">0.93</div>
<div class="hm" style="left:410.58px;top:114.70px;background:#f3cdc4">0.04</div>
<div class="hm" style="left:445.81px;top:114.70px;background:#eeb6ae">0.22</div>
<div class="hm" style="left:481.04px;top:114.70px;background:#db5b58">0.84</div>
<div class="hm" style="left:516.27px;top:114.70px;background:#de6764">0.83</div>
<div class="hm" style="left:551.50px;top:114.70px;background:#e79790">0.73</div>
<div class="hm" style="left:586.73px;top:114.70px;background:#eaa39c">0.59</div>
<div class="hm" style="left:199.20px;top:133.87px;background:#6da475">-1.75</div>
<div class="hm" style="left:234.43px;top:133.87px;background:#efdbcf">-1.12</div>
<div class="hm" style="left:269.66px;top:133.87px;background:#b3c2a5">-0.88</div>
<div class="hm" style="left:304.89px;top:133.87px;background:#48945b">-1.33</div>
<div class="hm" style="left:340.12px;top:133.87px;background:#db5b58">1.04</div>
<div class="hm" style="left:375.35px;top:133.87px;background:#dc605d">1.18</div>
<div class="hm" style="left:410.58px;top:133.87px;background:#f1c6be">0.14</div>
<div class="hm" style="left:445.81px;top:133.87px;background:#ecaea7">0.27</div>
<div class="hm" style="left:481.04px;top:133.87px;background:#f6dcd2">0.40</div>
<div class="hm" style="left:516.27px;top:133.87px;background:#e27f7a">0.67</div>
<div class="hm" style="left:551.50px;top:133.87px;background:#e79790">0.68</div>
<div class="hm" style="left:586.73px;top:133.87px;background:#e6908a">0.70</div>
<div class="hm" style="left:199.20px;top:153.04px;background:#a6bc9d">-1.51</div>
<div class="hm" style="left:234.43px;top:153.04px;background:#efdbcf">-1.14</div>
<div class="hm" style="left:269.66px;top:153.04px;background:#9fb998">-1.02</div>
<div class="hm" style="left:304.89px;top:153.04px;background:#abbea0">-0.75</div>
<div class="hm" style="left:340.12px;top:153.04px;background:#d53f3d">1.14</div>
<div class="hm" style="left:375.35px;top:153.04px;background:#d9504d">1.24</div>
<div class="hm" style="left:410.58px;top:153.04px;background:#ddd4c3">-0.22</div>
<div class="hm" style="left:445.81px;top:153.04px;background:#f6dcd2">0.01</div>
<div class="hm" style="left:481.04px;top:153.04px;background:#c9cbb5">0.08</div>
<div class="hm" style="left:516.27px;top:153.04px;background:#abbea0">-0.23</div>
<div class="hm" style="left:551.50px;top:153.04px;background:#d53c3b">1.32</div>
<div class="hm" style="left:586.73px;top:153.04px;background:#d64442">1.06</div>
<div class="hm" style="left:199.20px;top:172.21px;background:#86af86">-1.62</div>
<div class="hm" style="left:234.43px;top:172.21px;background:#c4c9b2">-1.33</div>
<div class="hm" style="left:269.66px;top:172.21px;background:#b8c4a9">-0.90</div>
<div class="hm" style="left:304.89px;top:172.21px;background:#86af86">-0.95</div>
<div class="hm" style="left:340.12px;top:172.21px;background:#e79790">0.54</div>
<div class="hm" style="left:375.35px;top:172.21px;background:#e9a09a">0.62</div>
<div class="hm" style="left:410.58px;top:172.21px;background:#f1dcd1">-0.08</div>
<div class="hm" style="left:445.81px;top:172.21px;background:#ead9cb">-0.04</div>
<div class="hm" style="left:481.04px;top:172.21px;background:#e0736f">0.75</div>
<div class="hm" style="left:516.27px;top:172.21px;background:#f0c2b9">0.36</div>
<div class="hm" style="left:551.50px;top:172.21px;background:#d02524">1.47</div>
<div class="hm" style="left:586.73px;top:172.21px;background:#d23130">1.17</div>
<div class="hm" style="left:199.20px;top:191.38px;background:#75a77a">-1.74</div>
<div class="hm" style="left:234.43px;top:191.38px;background:#bfc7ae">-1.35</div>
<div class="hm" style="left:269.66px;top:191.38px;background:#a1ba99">-1.05</div>
<div class="hm" style="left:304.89px;top:191.38px;background:#b3c2a5">-0.73</div>
<div class="hm" style="left:340.12px;top:191.38px;background:#e27f7a">0.76</div>
<div class="hm" style="left:375.35px;top:191.38px;background:#e3847e">0.86</div>
<div class="hm" style="left:410.58px;top:191.38px;background:#f3d0c6">0.03</div>
<div class="hm" style="left:445.81px;top:191.38px;background:#edb1a9">0.26</div>
<div class="hm" style="left:481.04px;top:191.38px;background:#ecaea7">0.53</div>
<div class="hm" style="left:516.27px;top:191.38px;background:#ddd4c3">0.03</div>
<div class="hm" style="left:551.50px;top:191.38px;background:#d43a39">1.31</div>
<div class="hm" style="left:586.73px;top:191.38px;background:#d64442">1.07</div>
<div class="hm" style="left:199.20px;top:210.55px;background:#72a679">-1.74</div>
<div class="hm" style="left:234.43px;top:210.55px;background:#bfc7ae">-1.38</div>
<div class="hm" style="left:269.66px;top:210.55px;background:#a9bd9f">-0.99</div>
<div class="hm" style="left:304.89px;top:210.55px;background:#b3c2a5">-0.70</div>
<div class="hm" style="left:340.12px;top:210.55px;background:#e79790">0.47</div>
<div class="hm" style="left:375.35px;top:210.55px;background:#f6ded4">0.24</div>
<div class="hm" style="left:410.58px;top:210.55px;background:#dd6561">0.78</div>
<div class="hm" style="left:445.81px;top:210.55px;background:#e0716d">0.82</div>
<div class="hm" style="left:481.04px;top:210.55px;background:#eeb6ae">0.51</div>
<div class="hm" style="left:516.27px;top:210.55px;background:#a4bb9b">-0.31</div>
<div class="hm" style="left:551.50px;top:210.55px;background:#d53c3b">1.26</div>
<div class="hm" style="left:586.73px;top:210.55px;background:#d64140">1.05</div>
<div class="hm" style="left:199.20px;top:229.72px;background:#72a679">-1.76</div>
<div class="hm" style="left:234.43px;top:229.72px;background:#7cab7f">-1.74</div>
<div class="hm" style="left:269.66px;top:229.72px;background:#a6bc9d">-0.95</div>
<div class="hm" style="left:304.89px;top:229.72px;background:#cecdb8">-0.57</div>
<div class="hm" style="left:340.12px;top:229.72px;background:#e0736f">0.93</div>
<div class="hm" style="left:375.35px;top:229.72px;background:#e27a76">0.96</div>
<div class="hm" style="left:410.58px;top:229.72px;background:#e48681">0.52</div>
<div class="hm" style="left:445.81px;top:229.72px;background:#e17571">0.74</div>
<div class="hm" style="left:481.04px;top:229.72px;background:#f4d4cb">0.45</div>
<div class="hm" style="left:516.27px;top:229.72px;background:#e7d8ca">0.13</div>
<div class="hm" style="left:551.50px;top:229.72px;background:#e9a09a">0.68</div>
<div class="hm" style="left:586.73px;top:229.72px;background:#ebaaa2">0.61</div>
<div class="hm" style="left:199.20px;top:248.89px;background:#6da475">-1.79</div>
<div class="hm" style="left:234.43px;top:248.89px;background:#7fac81">-1.73</div>
<div class="hm" style="left:269.66px;top:248.89px;background:#f1dcd1">-0.55</div>
<div class="hm" style="left:304.89px;top:248.89px;background:#bac5ab">-0.69</div>
<div class="hm" style="left:340.12px;top:248.89px;background:#dc5e5a">1.01</div>
<div class="hm" style="left:375.35px;top:248.89px;background:#dc5e5a">1.15</div>
<div class="hm" style="left:410.58px;top:248.89px;background:#f5d9d0">-0.01</div>
<div class="hm" style="left:445.81px;top:248.89px;background:#efbab2">0.24</div>
<div class="hm" style="left:481.04px;top:248.89px;background:#e9a09a">0.56</div>
<div class="hm" style="left:516.27px;top:248.89px;background:#f3d0c6">0.28</div>
<div class="hm" style="left:551.50px;top:248.89px;background:#de6a66">0.98</div>
<div class="hm" style="left:586.73px;top:248.89px;background:#ecaea7">0.54</div>
<div class="hm" style="left:199.20px;top:268.06px;background:#48945b">-1.99</div>
<div class="hm" style="left:234.43px;top:268.06px;background:#9fb998">-1.56</div>
<div class="hm" style="left:269.66px;top:268.06px;background:#dbd2c1">-0.71</div>
<div class="hm" style="left:304.89px;top:268.06px;background:#c4c9b2">-0.63</div>
<div class="hm" style="left:340.12px;top:268.06px;background:#e0736f">0.90</div>
<div class="hm" style="left:375.35px;top:268.06px;background:#e3817c">0.87</div>
<div class="hm" style="left:410.58px;top:268.06px;background:#e58b85">0.47</div>
<div class="hm" style="left:445.81px;top:268.06px;background:#e9a09a">0.41</div>
<div class="hm" style="left:481.04px;top:268.06px;background:#f1dcd1">0.37</div>
<div class="hm" style="left:516.27px;top:268.06px;background:#ddd4c3">0.05</div>
<div class="hm" style="left:551.50px;top:268.06px;background:#e17873">0.93</div>
<div class="hm" style="left:586.73px;top:268.06px;background:#df6e6a">0.87</div>
<div class="hm" style="left:199.20px;top:287.23px;background:#6da475">-1.84</div>
<div class="hm" style="left:234.43px;top:287.23px;background:#aec0a2">-1.48</div>
<div class="hm" style="left:269.66px;top:287.23px;background:#bfc7ae">-0.88</div>
<div class="hm" style="left:304.89px;top:287.23px;background:#8bb18a">-0.89</div>
<div class="hm" style="left:340.12px;top:287.23px;background:#e0736f">0.87</div>
<div class="hm" style="left:375.35px;top:287.23px;background:#e27f7a">0.89</div>
<div class="hm" style="left:410.58px;top:287.23px;background:#eeb6ae">0.20</div>
<div class="hm" style="left:445.81px;top:287.23px;background:#eba7a0">0.40</div>
<div class="hm" style="left:481.04px;top:287.23px;background:#f2c9c0">0.47</div>
<div class="hm" style="left:516.27px;top:287.23px;background:#efbab2">0.44</div>
<div class="hm" style="left:551.50px;top:287.23px;background:#dc605d">1.06</div>
<div class="hm" style="left:586.73px;top:287.23px;background:#e6908a">0.75</div>
<div class="hm" style="left:199.20px;top:306.40px;background:#3b8f53">-2.08</div>
<div class="hm" style="left:234.43px;top:306.40px;background:#7fac81">-1.76</div>
<div class="hm" style="left:269.66px;top:306.40px;background:#f5d9d0">-0.47</div>
<div class="hm" style="left:304.89px;top:306.40px;background:#d8d1bf">-0.52</div>
<div class="hm" style="left:340.12px;top:306.40px;background:#e6908a">0.51</div>
<div class="hm" style="left:375.35px;top:306.40px;background:#e89c95">0.70</div>
<div class="hm" style="left:410.58px;top:306.40px;background:#de6a66">0.75</div>
<div class="hm" style="left:445.81px;top:306.40px;background:#e3847e">0.70</div>
<div class="hm" style="left:481.04px;top:306.40px;background:#de6764">0.79</div>
<div class="hm" style="left:516.27px;top:306.40px;background:#e58b85">0.58</div>
<div class="hm" style="left:551.50px;top:306.40px;background:#f5d9d0">0.40</div>
<div class="hm" style="left:586.73px;top:306.40px;background:#f5d9d0">0.42</div>
<div class="hm" style="left:199.20px;top:325.57px;background:#3b8f53">-2.07</div>
<div class="hm" style="left:234.43px;top:325.57px;background:#7fac81">-1.77</div>
<div class="hm" style="left:269.66px;top:325.57px;background:#e7d8ca">-0.59</div>
<div class="hm" style="left:304.89px;top:325.57px;background:#f6dcd2">-0.35</div>
<div class="hm" style="left:340.12px;top:325.57px;background:#dc5e5a">0.95</div>
<div class="hm" style="left:375.35px;top:325.57px;background:#e89c95">0.69</div>
<div class="hm" style="left:410.58px;top:325.57px;background:#e3847e">0.58</div>
<div class="hm" style="left:445.81px;top:325.57px;background:#edb1a9">0.34</div>
<div class="hm" style="left:481.04px;top:325.57px;background:#e79790">0.61</div>
<div class="hm" style="left:516.27px;top:325.57px;background:#edb1a9">0.41</div>
<div class="hm" style="left:551.50px;top:325.57px;background:#e79790">0.67</div>
<div class="hm" style="left:586.73px;top:325.57px;background:#ecaca5">0.53</div>
<div class="hm" style="left:199.20px;top:344.74px;background:#72a679">-1.80</div>
<div class="hm" style="left:234.43px;top:344.74px;background:#72a679">-1.83</div>
<div class="hm" style="left:269.66px;top:344.74px;background:#ccccb7">-0.76</div>
<div class="hm" style="left:304.89px;top:344.74px;background:#cecdb8">-0.59</div>
<div class="hm" style="left:340.12px;top:344.74px;background:#ecaca5">0.35</div>
<div class="hm" style="left:375.35px;top:344.74px;background:#e48883">0.80</div>
<div class="hm" style="left:410.58px;top:344.74px;background:#e79790">0.41</div>
<div class="hm" style="left:445.81px;top:344.74px;background:#e27f7a">0.74</div>
<div class="hm" style="left:481.04px;top:344.74px;background:#e58b85">0.66</div>
<div class="hm" style="left:516.27px;top:344.74px;background:#f1c6be">0.33</div>
<div class="hm" style="left:551.50px;top:344.74px;background:#e27a76">0.92</div>
<div class="hm" style="left:586.73px;top:344.74px;background:#e3847e">0.76</div>
<div class="hm" style="left:199.20px;top:363.91px;background:#a4bb9b">-1.50</div>
<div class="hm" style="left:234.43px;top:363.91px;background:#368d4f">-2.18</div>
<div class="hm" style="left:269.66px;top:363.91px;background:#e0d5c4">-0.64</div>
<div class="hm" style="left:304.89px;top:363.91px;background:#dbd2c1">-0.51</div>
<div class="hm" style="left:340.12px;top:363.91px;background:#f1c6be">0.19</div>
<div class="hm" style="left:375.35px;top:363.91px;background:#eaa59e">0.58</div>
<div class="hm" style="left:410.58px;top:363.91px;background:#e9a09a">0.34</div>
<div class="hm" style="left:445.81px;top:363.91px;background:#e7948e">0.54</div>
<div class="hm" style="left:481.04px;top:363.91px;background:#de6764">0.80</div>
<div class="hm" style="left:516.27px;top:363.91px;background:#df6e6a">0.79</div>
<div class="hm" style="left:551.50px;top:363.91px;background:#e17873">0.87</div>
<div class="hm" style="left:586.73px;top:363.91px;background:#e3847e">0.71</div>
<div class="hm" style="left:199.20px;top:383.08px;background:#f5d9d0">-1.08</div>
<div class="hm" style="left:234.43px;top:383.08px;background:#a4bb9b">-1.53</div>
<div class="hm" style="left:269.66px;top:383.08px;background:#95b591">-1.13</div>
<div class="hm" style="left:304.89px;top:383.08px;background:#48945b">-1.27</div>
<div class="hm" style="left:340.12px;top:383.08px;background:#f6dcd2">0.07</div>
<div class="hm" style="left:375.35px;top:383.08px;background:#f6ded4">0.18</div>
<div class="hm" style="left:410.58px;top:383.08px;background:#edb1a9">0.24</div>
<div class="hm" style="left:445.81px;top:383.08px;background:#e9a09a">0.40</div>
<div class="hm" style="left:481.04px;top:383.08px;background:#dc5e5a">0.86</div>
<div class="hm" style="left:516.27px;top:383.08px;background:#da5754">0.92</div>
<div class="hm" style="left:551.50px;top:383.08px;background:#d9524f">1.17</div>
<div class="hm" style="left:586.73px;top:383.08px;background:#d12c2b">1.18</div>
<div class="hm" style="left:199.20px;top:402.25px;background:#9ab794">-1.49</div>
<div class="hm" style="left:234.43px;top:402.25px;background:#f4d4cb">-1.05</div>
<div class="hm" style="left:269.66px;top:402.25px;background:#a6bc9d">-1.00</div>
<div class="hm" style="left:304.89px;top:402.25px;background:#86af86">-1.02</div>
<div class="hm" style="left:340.12px;top:402.25px;background:#e7d8ca">-0.12</div>
<div class="hm" style="left:375.35px;top:402.25px;background:#eaa59e">0.56</div>
<div class="hm" style="left:410.58px;top:402.25px;background:#d8d1bf">-0.27</div>
<div class="hm" style="left:445.81px;top:402.25px;background:#d8d1bf">-0.17</div>
<div class="hm" style="left:481.04px;top:402.25px;background:#d02524">1.01</div>
<div class="hm" style="left:516.27px;top:402.25px;background:#d02727">1.15</div>
<div class="hm" style="left:551.50px;top:402.25px;background:#d9524f">1.16</div>
<div class="hm" style="left:586.73px;top:402.25px;background:#d02727">1.23</div>
<div class="hm" style="left:199.20px;top:421.42px;background:#f3d0c6">-0.98</div>
<div class="hm" style="left:234.43px;top:421.42px;background:#f5d7cd">-1.05</div>
<div class="hm" style="left:269.66px;top:421.42px;background:#368d4f">-1.79</div>
<div class="hm" style="left:304.89px;top:421.42px;background:#45935a">-1.39</div>
<div class="hm" style="left:340.12px;top:421.42px;background:#e99e97">0.45</div>
<div class="hm" style="left:375.35px;top:421.42px;background:#e27f7a">0.94</div>
<div class="hm" style="left:410.58px;top:421.42px;background:#edb1a9">0.21</div>
<div class="hm" style="left:445.81px;top:421.42px;background:#e3847e">0.64</div>
<div class="hm" style="left:481.04px;top:421.42px;background:#e89c95">0.60</div>
<div class="hm" style="left:516.27px;top:421.42px;background:#e27d78">0.72</div>
<div class="hm" style="left:551.50px;top:421.42px;background:#e3847e">0.76</div>
<div class="hm" style="left:586.73px;top:421.42px;background:#e17873">0.91</div>
<div class="hm" style="left:199.20px;top:440.59px;background:#bac5ab">-1.38</div>
<div class="hm" style="left:234.43px;top:440.59px;background:#8bb18a">-1.65</div>
<div class="hm" style="left:269.66px;top:440.59px;background:#8bb18a">-1.30</div>
<div class="hm" style="left:304.89px;top:440.59px;background:#9fb998">-0.91</div>
<div class="hm" style="left:340.12px;top:440.59px;background:#edb1a9">0.31</div>
<div class="hm" style="left:375.35px;top:440.59px;background:#f0c2b9">0.43</div>
<div class="hm" style="left:410.58px;top:440.59px;background:#de6764">0.76</div>
<div class="hm" style="left:445.81px;top:440.59px;background:#dc5e5a">1.05</div>
<div class="hm" style="left:481.04px;top:440.59px;background:#e17571">0.76</div>
<div class="hm" style="left:516.27px;top:440.59px;background:#eaa59e">0.51</div>
<div class="hm" style="left:551.50px;top:440.59px;background:#eaa59e">0.60</div>
<div class="hm" style="left:586.73px;top:440.59px;background:#e27f7a">0.82</div>
<div class="hm" style="left:199.20px;top:459.76px;background:#9fb998">-1.48</div>
<div class="hm" style="left:234.43px;top:459.76px;background:#a4bb9b">-1.49</div>
<div class="hm" style="left:269.66px;top:459.76px;background:#8bb18a">-1.25</div>
<div class="hm" style="left:304.89px;top:459.76px;background:#9ab794">-0.93</div>
<div class="hm" style="left:340.12px;top:459.76px;background:#f5d9d0">0.00</div>
<div class="hm" style="left:375.35px;top:459.76px;background:#f3d0c6">0.28</div>
<div class="hm" style="left:410.58px;top:459.76px;background:#e48883">0.54</div>
<div class="hm" style="left:445.81px;top:459.76px;background:#e17571">0.88</div>
<div class="hm" style="left:481.04px;top:459.76px;background:#d43a39">0.95</div>
<div class="hm" style="left:516.27px;top:459.76px;background:#d53c3b">0.99</div>
<div class="hm" style="left:551.50px;top:459.76px;background:#e9a09a">0.67</div>
<div class="hm" style="left:586.73px;top:459.76px;background:#e27f7a">0.84</div>
<svg style="left:0;top:0" width="725" height="480"><path d="M234.43 114.7V480" stroke="rgba(255,255,255,.22)" stroke-width="0.8"/><path d="M269.66 114.7V480" stroke="rgba(255,255,255,.22)" stroke-width="0.8"/><path d="M304.89 114.7V480" stroke="rgba(255,255,255,.22)" stroke-width="0.8"/><path d="M340.12 114.7V480" stroke="rgba(255,255,255,.22)" stroke-width="0.8"/><path d="M375.35 114.7V480" stroke="rgba(255,255,255,.22)" stroke-width="0.8"/><path d="M410.58 114.7V480" stroke="rgba(255,255,255,.22)" stroke-width="0.8"/><path d="M445.81 114.7V480" stroke="rgba(255,255,255,.22)" stroke-width="0.8"/><path d="M481.04 114.7V480" stroke="rgba(255,255,255,.22)" stroke-width="0.8"/><path d="M516.27 114.7V480" stroke="rgba(255,255,255,.22)" stroke-width="0.8"/><path d="M551.50 114.7V480" stroke="rgba(255,255,255,.22)" stroke-width="0.8"/><path d="M586.73 114.7V480" stroke="rgba(255,255,255,.22)" stroke-width="0.8"/><path d="M199.20 133.87H621.96" stroke="rgba(255,255,255,.22)" stroke-width="0.8"/><path d="M199.20 153.04H621.96" stroke="rgba(255,255,255,.22)" stroke-width="0.8"/><path d="M199.20 172.21H621.96" stroke="rgba(255,255,255,.22)" stroke-width="0.8"/><path d="M199.20 191.38H621.96" stroke="rgba(255,255,255,.22)" stroke-width="0.8"/><path d="M199.20 210.55H621.96" stroke="rgba(255,255,255,.22)" stroke-width="0.8"/><path d="M199.20 229.72H621.96" stroke="rgba(255,255,255,.22)" stroke-width="0.8"/><path d="M199.20 248.89H621.96" stroke="rgba(255,255,255,.22)" stroke-width="0.8"/><path d="M199.20 268.06H621.96" stroke="rgba(255,255,255,.22)" stroke-width="0.8"/><path d="M199.20 287.23H621.96" stroke="rgba(255,255,255,.22)" stroke-width="0.8"/><path d="M199.20 306.40H621.96" stroke="rgba(255,255,255,.22)" stroke-width="0.8"/><path d="M199.20 325.57H621.96" stroke="rgba(255,255,255,.22)" stroke-width="0.8"/><path d="M199.20 344.74H621.96" stroke="rgba(255,255,255,.22)" stroke-width="0.8"/><path d="M199.20 363.91H621.96" stroke="rgba(255,255,255,.22)" stroke-width="0.8"/><path d="M199.20 383.08H621.96" stroke="rgba(255,255,255,.22)" stroke-width="0.8"/><path d="M199.20 402.25H621.96" stroke="rgba(255,255,255,.22)" stroke-width="0.8"/><path d="M199.20 421.42H621.96" stroke="rgba(255,255,255,.22)" stroke-width="0.8"/><path d="M199.20 440.59H621.96" stroke="rgba(255,255,255,.22)" stroke-width="0.8"/><path d="M199.20 459.76H621.96" stroke="rgba(255,255,255,.22)" stroke-width="0.8"/><rect x="199.20" y="63.7" width="35.53" height="15.8" fill="#b0dfbe"/><rect x="199.20" y="79.4" width="35.53" height="16.2" fill="#ed8628"/><rect x="234.43" y="63.7" width="35.53" height="15.8" fill="#b0dfbe"/><rect x="234.43" y="79.4" width="35.53" height="16.2" fill="#ed8628"/><rect x="269.66" y="63.7" width="35.53" height="15.8" fill="#b0dfbe"/><rect x="269.66" y="79.4" width="35.53" height="16.2" fill="#d4aedb"/><rect x="304.89" y="63.7" width="35.53" height="15.8" fill="#b0dfbe"/><rect x="304.89" y="79.4" width="35.53" height="16.2" fill="#d4aedb"/><rect x="340.12" y="63.7" width="35.53" height="15.8" fill="#f47471"/><rect x="340.12" y="79.4" width="35.53" height="16.2" fill="#ed8628"/><rect x="375.35" y="63.7" width="35.53" height="15.8" fill="#f47471"/><rect x="375.35" y="79.4" width="35.53" height="16.2" fill="#ed8628"/><rect x="410.58" y="63.7" width="35.53" height="15.8" fill="#f47471"/><rect x="410.58" y="79.4" width="35.53" height="16.2" fill="#d4aedb"/><rect x="445.81" y="63.7" width="35.53" height="15.8" fill="#f47471"/><rect x="445.81" y="79.4" width="35.53" height="16.2" fill="#d4aedb"/><rect x="481.04" y="63.7" width="35.53" height="15.8" fill="#b8ccec"/><rect x="481.04" y="79.4" width="35.53" height="16.2" fill="#d4aedb"/><rect x="516.27" y="63.7" width="35.53" height="15.8" fill="#b8ccec"/><rect x="516.27" y="79.4" width="35.53" height="16.2" fill="#d4aedb"/><rect x="551.50" y="63.7" width="35.53" height="15.8" fill="#b8ccec"/><rect x="551.50" y="79.4" width="35.53" height="16.2" fill="#ed8628"/><rect x="586.73" y="63.7" width="35.53" height="15.8" fill="#b8ccec"/><rect x="586.73" y="79.4" width="35.53" height="16.2" fill="#ed8628"/><path d="M234.43 63.7V95.6" stroke="rgba(255,255,255,.3)" stroke-width="0.8"/><path d="M269.66 63.7V95.6" stroke="rgba(255,255,255,.3)" stroke-width="0.8"/><path d="M304.89 63.7V95.6" stroke="rgba(255,255,255,.3)" stroke-width="0.8"/><path d="M340.12 63.7V95.6" stroke="rgba(255,255,255,.3)" stroke-width="0.8"/><path d="M375.35 63.7V95.6" stroke="rgba(255,255,255,.3)" stroke-width="0.8"/><path d="M410.58 63.7V95.6" stroke="rgba(255,255,255,.3)" stroke-width="0.8"/><path d="M445.81 63.7V95.6" stroke="rgba(255,255,255,.3)" stroke-width="0.8"/><path d="M481.04 63.7V95.6" stroke="rgba(255,255,255,.3)" stroke-width="0.8"/><path d="M516.27 63.7V95.6" stroke="rgba(255,255,255,.3)" stroke-width="0.8"/><path d="M551.50 63.7V95.6" stroke="rgba(255,255,255,.3)" stroke-width="0.8"/><path d="M586.73 63.7V95.6" stroke="rgba(255,255,255,.3)" stroke-width="0.8"/><path d="M216.6 63.7V55.1H252.2V63.7" fill="none" stroke="#808080" stroke-width="1.8" stroke-linejoin="miter"/><path d="M287.3 63.7V56.0H322.7V63.7" fill="none" stroke="#808080" stroke-width="1.8" stroke-linejoin="miter"/><path d="M234.5 55.1V35.7H305.0V56.0" fill="none" stroke="#808080" stroke-width="1.8" stroke-linejoin="miter"/><path d="M357.8 63.7V53.1H393.2V63.7" fill="none" stroke="#808080" stroke-width="1.8" stroke-linejoin="miter"/><path d="M428.3 63.7V55.1H463.9V63.7" fill="none" stroke="#808080" stroke-width="1.8" stroke-linejoin="miter"/><path d="M375.5 53.1V45.3H446.0V55.1" fill="none" stroke="#808080" stroke-width="1.8" stroke-linejoin="miter"/><path d="M498.7 63.7V55.1H534.1V63.7" fill="none" stroke="#808080" stroke-width="1.8" stroke-linejoin="miter"/><path d="M569.2 63.7V56.0H604.6V63.7" fill="none" stroke="#808080" stroke-width="1.8" stroke-linejoin="miter"/><path d="M516.4 55.1V48.1H586.9V56.0" fill="none" stroke="#808080" stroke-width="1.8" stroke-linejoin="miter"/><path d="M410.6 45.3V37.1H551.5V48.1" fill="none" stroke="#808080" stroke-width="1.8" stroke-linejoin="miter"/><path d="M269.6 35.7V9.9H481.0V37.1" fill="none" stroke="#808080" stroke-width="1.8" stroke-linejoin="miter"/><path d="M194.0 124.2H173.9V143.4H194.0" fill="none" stroke="#808080" stroke-width="1.8" stroke-linejoin="miter"/><path d="M194.0 181.6H173.9V200.9H194.0" fill="none" stroke="#808080" stroke-width="1.8" stroke-linejoin="miter"/><path d="M194.0 162.7H157.0V191.2H173.9" fill="none" stroke="#808080" stroke-width="1.8" stroke-linejoin="miter"/><path d="M173.9 133.8H146.2V177.0H157.0" fill="none" stroke="#808080" stroke-width="1.8" stroke-linejoin="miter"/><path d="M194.0 277.3H175.9V296.5H194.0" fill="none" stroke="#808080" stroke-width="1.8" stroke-linejoin="miter"/><path d="M194.0 258.3H172.1V286.9H175.9" fill="none" stroke="#808080" stroke-width="1.8" stroke-linejoin="miter"/><path d="M194.0 239.1H168.0V272.6H172.1" fill="none" stroke="#808080" stroke-width="1.8" stroke-linejoin="miter"/><path d="M194.0 315.8H173.0V334.7H194.0" fill="none" stroke="#808080" stroke-width="1.8" stroke-linejoin="miter"/><path d="M194.0 354.0H173.0V373.2H194.0" fill="none" stroke="#808080" stroke-width="1.8" stroke-linejoin="miter"/><path d="M173.0 325.7H160.2V363.6H173.0" fill="none" stroke="#808080" stroke-width="1.8" stroke-linejoin="miter"/><path d="M168.0 253.4H154.3V344.1H160.2" fill="none" stroke="#808080" stroke-width="1.8" stroke-linejoin="miter"/><path d="M194.0 219.8H144.7V296.8H154.3" fill="none" stroke="#808080" stroke-width="1.8" stroke-linejoin="miter"/><path d="M194.0 392.5H161.9V411.5H194.0" fill="none" stroke="#808080" stroke-width="1.8" stroke-linejoin="miter"/><path d="M194.0 450.0H173.9V468.9H194.0" fill="none" stroke="#808080" stroke-width="1.8" stroke-linejoin="miter"/><path d="M194.0 430.7H154.9V459.3H173.9" fill="none" stroke="#808080" stroke-width="1.8" stroke-linejoin="miter"/><path d="M161.9 401.8H136.0V445.0H154.9" fill="none" stroke="#808080" stroke-width="1.8" stroke-linejoin="miter"/><path d="M144.7 262.7H128.1V421.4H136.0" fill="none" stroke="#808080" stroke-width="1.8" stroke-linejoin="miter"/><path d="M146.2 153.0H122.0V325.7H128.1" fill="none" stroke="#808080" stroke-width="1.8" stroke-linejoin="miter"/><path d="M122.0 268.0H84.0V481.2" fill="none" stroke="#808080" stroke-width="1.8" stroke-linejoin="miter"/><path d="M84.0 363.6H10.0V481.2" fill="none" stroke="#808080" stroke-width="1.8" stroke-linejoin="miter"/></svg>
<div class="t" style="left:632.3px;top:63.0px;font-size:15.5px;font-weight:bold;line-height:16px;color:#111;letter-spacing:-0.1px">Stage</div>
<div class="t" style="left:632.3px;top:78.5px;font-size:15.5px;font-weight:bold;line-height:16px;color:#111;letter-spacing:-0.1px">Cell</div>
</div>
<div class="pnl" style="left:78px;top:632px;width:1149px;height:564px"></div>
<div class="a" style="left:79px;top:655px;width:1147px;height:1px;background:#9e9e9e"></div>
<div class="a" style="left:79px;top:656px;width:845px;height:539px;background:#fff"></div>
<div class="a" style="left:79px;top:633px;width:425px;height:23px;background:#fdfdfd;border-right:1px solid #a6a6a6;border-radius:3px 4px 0 0;overflow:hidden"><div class="a" style="left:0;top:0;width:100%;height:2.3px;background:linear-gradient(#9cc6f5,#b4d6fa)"></div></div>
<svg style="left:82.8px;top:636.6px" width="14.8" height="14.8"><circle cx="7.4" cy="7.4" r="7.4" fill="#56a05a"/><text x="7.4" y="11.6" text-anchor="middle" font-size="11.8" fill="#fff" textLength="12.3" lengthAdjust="spacingAndGlyphs">Ch</text></svg>
<div class="tabtxt" style="left:102.5px;top:636.5px">*Chart: UMAP Conditions count_table_ilcs_clustering_result...</div>
<svg style="left:487px;top:639px" width="11" height="11"><path d="M1 1l9 9M10 1l-9 9" stroke="#222" stroke-width="1.1"/></svg>
<svg style="left:0;top:0" width="1781" height="700"><path d="M1075.8 636.0 h8 l4 4 v11.5 h-12 z" fill="#fff" stroke="#8a8a8a" stroke-width="0.9"/><path d="M1077.8 648.0 l2.6 -3.6 l2 2.2 l1.2 -1.2 l2.2 2.6 z" fill="#444"/><circle cx="1084.1" cy="642.5" r="0.8" fill="#444"/><path d="M1099.8 636.0 h8 l4 4 v11.5 h-12 z" fill="#fff" stroke="#8a8a8a" stroke-width="0.9"/><rect x="1096.8" y="637.3" width="10" height="3.6" fill="#d0141c"/><path d="M1101.3 650.5 c2 -1 4 -5 3.4 -7.4 c-0.6 -1.6 -1.8 0 -0.8 2.4 c1.2 2.6 3.6 4.6 6.4 4.6 c1.6 -0.6 -1 -1.4 -3.6 -1 c-2.2 0.4 -4.4 1 -5.4 1.4 z" fill="none" stroke="#e02020" stroke-width="0.9"/><path d="M1121.8 636.0 h8 l3.5 3.5 v12 h-11.5 z" fill="#fff" stroke="#8a8a8a" stroke-width="0.9"/><path d="M1126.8 642.0 h5 M1126.8 644.4 h5 M1126.8 646.8 h5 M1126.8 649.2 h5 M1129.5 641.0 v8" stroke="#3c9a5a" stroke-width="0.9" stroke-dasharray="1.6 0.8"/><rect x="1117.8" y="640.0" width="8" height="9" fill="#1f7244"/><path d="M1120.1 642.0 l3.4 5 M1123.5 642.0 l-3.4 5" stroke="#fff" stroke-width="1.3"/><path d="M1140.5 636.5 h11.8 l2.4 2.2 v13.2 h-14.2 z" fill="#fff" stroke="#444" stroke-width="1.1"/><path d="M1142.7 636.7 v7.6 h9.5 v-7.6" fill="none" stroke="#444" stroke-width="1.1"/><path d="M1150.3 638.6 v4.2" stroke="#444" stroke-width="1.2"/><path d="M1161.5 636.5 h11.8 l2.4 2.2 v13.2 h-14.2 z" fill="#fff" stroke="#444" stroke-width="1.1"/><path d="M1163.7 636.7 v7.6 h9.5 v-7.6" fill="none" stroke="#444" stroke-width="1.1"/><path d="M1171.3 638.6 v4.2" stroke="#444" stroke-width="1.2"/><path d="M1163.8 649.4 h9.8" stroke="#666" stroke-width="1.4"/><rect x="1185.5" y="638.5" width="9" height="3.4" fill="#fff" stroke="#555" stroke-width="1"/><rect x="1207.5" y="638.5" width="9" height="9" fill="#f4f4f4" stroke="#555" stroke-width="1"/><path d="M1207.5 640.5 h9" stroke="#555" stroke-width="1"/></svg>
<div class="t" style="left:202px;width:600px;text-align:center;top:669.5px;font-size:20px;font-weight:bold;line-height:22px;color:#111;letter-spacing:-0.55px">UMAP Clustering Results</div>
<svg style="left:0;top:0" width="960" height="1200"><path d="M147.4 718.7V1087.3" stroke="#000" stroke-width="1.3"/><path d="M142.3 719.2H147.4" stroke="#000" stroke-width="1"/><text x="139.5" y="722.2" text-anchor="end" font-size="12.5" fill="#111">18</text><path d="M142.3 771.6H147.4" stroke="#000" stroke-width="1"/><text x="139.5" y="774.6" text-anchor="end" font-size="12.5" fill="#111">15</text><path d="M142.3 824.0H147.4" stroke="#000" stroke-width="1"/><text x="139.5" y="827.0" text-anchor="end" font-size="12.5" fill="#111">12</text><path d="M142.3 876.4H147.4" stroke="#000" stroke-width="1"/><text x="139.5" y="879.4" text-anchor="end" font-size="12.5" fill="#111">9</text><path d="M142.3 928.8H147.4" stroke="#000" stroke-width="1"/><text x="139.5" y="931.8" text-anchor="end" font-size="12.5" fill="#111">6</text><path d="M142.3 981.2H147.4" stroke="#000" stroke-width="1"/><text x="139.5" y="984.2" text-anchor="end" font-size="12.5" fill="#111">3</text><path d="M142.3 1033.7H147.4" stroke="#000" stroke-width="1"/><text x="139.5" y="1036.7" text-anchor="end" font-size="12.5" fill="#111">0</text><path d="M142.3 1086.1H147.4" stroke="#000" stroke-width="1"/><text x="139.5" y="1089.1" text-anchor="end" font-size="12.5" fill="#111">-3</text><path d="M157 1097.3H904.9" stroke="#000" stroke-width="1.3"/><path d="M157.5 1097.3V1102.5" stroke="#000" stroke-width="1"/><text x="157.5" y="1113.8" text-anchor="middle" font-size="12.5" fill="#111">-4</text><path d="M264.2 1097.3V1102.5" stroke="#000" stroke-width="1"/><text x="264.2" y="1113.8" text-anchor="middle" font-size="12.5" fill="#111">-2</text><path d="M370.9 1097.3V1102.5" stroke="#000" stroke-width="1"/><text x="370.9" y="1113.8" text-anchor="middle" font-size="12.5" fill="#111">0</text><path d="M477.6 1097.3V1102.5" stroke="#000" stroke-width="1"/><text x="477.6" y="1113.8" text-anchor="middle" font-size="12.5" fill="#111">2</text><path d="M584.3 1097.3V1102.5" stroke="#000" stroke-width="1"/><text x="584.3" y="1113.8" text-anchor="middle" font-size="12.5" fill="#111">4</text><path d="M691.0 1097.3V1102.5" stroke="#000" stroke-width="1"/><text x="691.0" y="1113.8" text-anchor="middle" font-size="12.5" fill="#111">6</text><path d="M797.7 1097.3V1102.5" stroke="#000" stroke-width="1"/><text x="797.7" y="1113.8" text-anchor="middle" font-size="12.5" fill="#111">8</text><path d="M904.4 1097.3V1102.5" stroke="#000" stroke-width="1"/><text x="904.4" y="1113.8" text-anchor="middle" font-size="12.5" fill="#111">10</text><text x="530.3" y="1143" text-anchor="middle" font-size="14" fill="#111" textLength="49.5" lengthAdjust="spacingAndGlyphs">UMAP 1</text><text transform="translate(113.2,903) rotate(-90)" text-anchor="middle" font-size="14" fill="#111" textLength="49.5" lengthAdjust="spacingAndGlyphs">UMAP 2</text><circle cx="284.4" cy="781.3" r="2.75" fill="#258a78"/><circle cx="328.0" cy="795.1" r="2.75" fill="#258a78"/><circle cx="305.1" cy="824.8" r="2.75" fill="#258a78"/><circle cx="243.2" cy="785.9" r="2.75" fill="#258a78"/><circle cx="336.5" cy="797.1" r="2.75" fill="#258a78"/><circle cx="394.5" cy="790.2" r="2.75" fill="#258a78"/><circle cx="247.4" cy="779.1" r="2.75" fill="#258a78"/><circle cx="349.3" cy="795.5" r="2.75" fill="#258a78"/><circle cx="230.0" cy="784.8" r="2.75" fill="#258a78"/><circle cx="357.8" cy="799.1" r="2.75" fill="#258a78"/><circle cx="282.4" cy="809.3" r="2.75" fill="#258a78"/><circle cx="311.0" cy="790.9" r="2.75" fill="#258a78"/><circle cx="381.3" cy="816.6" r="2.75" fill="#258a78"/><circle cx="268.0" cy="808.5" r="2.75" fill="#258a78"/><circle cx="325.8" cy="827.9" r="2.75" fill="#258a78"/><circle cx="367.9" cy="790.1" r="2.75" fill="#258a78"/><circle cx="303.8" cy="820.3" r="2.75" fill="#258a78"/><circle cx="375.1" cy="808.5" r="2.75" fill="#258a78"/><circle cx="398.0" cy="791.8" r="2.75" fill="#258a78"/><circle cx="360.9" cy="809.8" r="2.75" fill="#258a78"/><circle cx="337.1" cy="800.9" r="2.75" fill="#258a78"/><circle cx="315.3" cy="814.3" r="2.75" fill="#258a78"/><circle cx="386.9" cy="789.9" r="2.75" fill="#258a78"/><circle cx="297.1" cy="814.6" r="2.75" fill="#258a78"/><circle cx="252.3" cy="779.1" r="2.75" fill="#258a78"/><circle cx="244.3" cy="787.5" r="2.75" fill="#258a78"/><circle cx="330.8" cy="828.5" r="2.75" fill="#258a78"/><circle cx="386.4" cy="827.2" r="2.75" fill="#258a78"/><circle cx="275.0" cy="798.3" r="2.75" fill="#258a78"/><circle cx="254.0" cy="786.5" r="2.75" fill="#258a78"/><circle cx="265.7" cy="802.8" r="2.75" fill="#258a78"/><circle cx="339.0" cy="788.5" r="2.75" fill="#258a78"/><circle cx="293.7" cy="808.0" r="2.75" fill="#258a78"/><circle cx="323.8" cy="811.3" r="2.75" fill="#258a78"/><circle cx="402.9" cy="821.8" r="2.75" fill="#258a78"/><circle cx="397.8" cy="822.9" r="2.75" fill="#258a78"/><circle cx="298.5" cy="797.2" r="2.75" fill="#258a78"/><circle cx="260.7" cy="782.0" r="2.75" fill="#258a78"/><circle cx="238.6" cy="795.0" r="2.75" fill="#258a78"/><circle cx="269.6" cy="793.9" r="2.75" fill="#258a78"/><circle cx="313.7" cy="802.7" r="2.75" fill="#258a78"/><circle cx="288.3" cy="788.6" r="2.75" fill="#258a78"/><circle cx="395.5" cy="816.4" r="2.75" fill="#258a78"/><circle cx="271.5" cy="795.2" r="2.75" fill="#258a78"/><circle cx="327.4" cy="821.7" r="2.75" fill="#258a78"/><circle cx="285.6" cy="785.9" r="2.75" fill="#258a78"/><circle cx="393.3" cy="823.5" r="2.75" fill="#258a78"/><circle cx="386.2" cy="819.2" r="2.75" fill="#258a78"/><circle cx="264.4" cy="804.9" r="2.75" fill="#258a78"/><circle cx="223.5" cy="789.5" r="2.75" fill="#258a78"/><circle cx="271.1" cy="816.2" r="2.75" fill="#258a78"/><circle cx="414.7" cy="800.4" r="2.75" fill="#258a78"/><circle cx="414.3" cy="795.0" r="2.75" fill="#258a78"/><circle cx="263.1" cy="786.2" r="2.75" fill="#258a78"/><circle cx="258.2" cy="784.7" r="2.75" fill="#258a78"/><circle cx="346.2" cy="829.5" r="2.75" fill="#258a78"/><circle cx="390.8" cy="802.4" r="2.75" fill="#258a78"/><circle cx="352.2" cy="823.1" r="2.75" fill="#258a78"/><circle cx="405.0" cy="821.9" r="2.75" fill="#258a78"/><circle cx="372.2" cy="802.3" r="2.75" fill="#258a78"/><circle cx="417.8" cy="797.0" r="2.75" fill="#258a78"/><circle cx="366.9" cy="782.5" r="2.75" fill="#258a78"/><circle cx="243.9" cy="781.3" r="2.75" fill="#258a78"/><circle cx="289.9" cy="806.9" r="2.75" fill="#258a78"/><circle cx="307.0" cy="827.7" r="2.75" fill="#258a78"/><circle cx="269.6" cy="790.4" r="2.75" fill="#258a78"/><circle cx="271.1" cy="798.5" r="2.75" fill="#258a78"/><circle cx="290.5" cy="801.1" r="2.75" fill="#258a78"/><circle cx="337.8" cy="829.8" r="2.75" fill="#258a78"/><circle cx="321.0" cy="805.8" r="2.75" fill="#258a78"/><circle cx="308.3" cy="783.3" r="2.75" fill="#258a78"/><circle cx="367.0" cy="807.4" r="2.75" fill="#258a78"/><circle cx="284.8" cy="804.9" r="2.75" fill="#258a78"/><circle cx="332.1" cy="822.1" r="2.75" fill="#258a78"/><circle cx="376.7" cy="804.2" r="2.75" fill="#258a78"/><circle cx="333.4" cy="820.5" r="2.75" fill="#258a78"/><circle cx="405.6" cy="800.1" r="2.75" fill="#258a78"/><circle cx="343.8" cy="804.1" r="2.75" fill="#258a78"/><circle cx="323.2" cy="816.2" r="2.75" fill="#258a78"/><circle cx="310.8" cy="805.9" r="2.75" fill="#258a78"/><circle cx="361.7" cy="828.0" r="2.75" fill="#258a78"/><circle cx="232.6" cy="787.0" r="2.75" fill="#258a78"/><circle cx="379.1" cy="829.3" r="2.75" fill="#258a78"/><circle cx="299.7" cy="802.9" r="2.75" fill="#258a78"/><circle cx="250.9" cy="799.3" r="2.75" fill="#258a78"/><circle cx="323.9" cy="793.4" r="2.75" fill="#258a78"/><circle cx="258.0" cy="792.1" r="2.75" fill="#258a78"/><circle cx="331.8" cy="799.9" r="2.75" fill="#258a78"/><circle cx="221.4" cy="792.9" r="2.75" fill="#258a78"/><circle cx="346.2" cy="804.5" r="2.75" fill="#258a78"/><circle cx="239.3" cy="788.6" r="2.75" fill="#258a78"/><circle cx="273.4" cy="779.9" r="2.75" fill="#258a78"/><circle cx="386.3" cy="788.2" r="2.75" fill="#258a78"/><circle cx="335.2" cy="816.7" r="2.75" fill="#258a78"/><circle cx="348.3" cy="823.2" r="2.75" fill="#258a78"/><circle cx="311.1" cy="793.4" r="2.75" fill="#258a78"/><circle cx="326.2" cy="786.9" r="2.75" fill="#258a78"/><circle cx="240.2" cy="781.9" r="2.75" fill="#258a78"/><circle cx="281.9" cy="791.2" r="2.75" fill="#258a78"/><circle cx="374.1" cy="790.2" r="2.75" fill="#258a78"/><circle cx="256.7" cy="802.1" r="2.75" fill="#258a78"/><circle cx="386.3" cy="799.4" r="2.75" fill="#258a78"/><circle cx="319.6" cy="825.3" r="2.75" fill="#258a78"/><circle cx="363.2" cy="812.5" r="2.75" fill="#258a78"/><circle cx="301.0" cy="793.9" r="2.75" fill="#258a78"/><circle cx="270.3" cy="782.1" r="2.75" fill="#258a78"/><circle cx="397.0" cy="814.7" r="2.75" fill="#258a78"/><circle cx="275.8" cy="787.1" r="2.75" fill="#258a78"/><circle cx="278.0" cy="801.1" r="2.75" fill="#258a78"/><circle cx="418.0" cy="806.8" r="2.75" fill="#258a78"/><circle cx="281.4" cy="794.5" r="2.75" fill="#258a78"/><circle cx="315.4" cy="803.9" r="2.75" fill="#258a78"/><circle cx="259.1" cy="804.1" r="2.75" fill="#258a78"/><circle cx="236.2" cy="797.3" r="2.75" fill="#258a78"/><circle cx="280.3" cy="786.5" r="2.75" fill="#258a78"/><circle cx="338.3" cy="805.6" r="2.75" fill="#258a78"/><circle cx="372.2" cy="813.9" r="2.75" fill="#258a78"/><circle cx="365.1" cy="828.2" r="2.75" fill="#258a78"/><circle cx="297.9" cy="792.6" r="2.75" fill="#258a78"/><circle cx="366.8" cy="813.0" r="2.75" fill="#258a78"/><circle cx="401.4" cy="812.0" r="2.75" fill="#258a78"/><circle cx="368.8" cy="823.9" r="2.75" fill="#258a78"/><circle cx="321.6" cy="825.3" r="2.75" fill="#258a78"/><circle cx="383.4" cy="824.8" r="2.75" fill="#258a78"/><circle cx="358.3" cy="816.2" r="2.75" fill="#258a78"/><circle cx="245.1" cy="794.8" r="2.75" fill="#258a78"/><circle cx="332.7" cy="812.0" r="2.75" fill="#258a78"/><circle cx="346.6" cy="815.4" r="2.75" fill="#258a78"/><circle cx="382.0" cy="819.7" r="2.75" fill="#258a78"/><circle cx="369.4" cy="787.8" r="2.75" fill="#258a78"/><circle cx="367.9" cy="784.8" r="2.75" fill="#258a78"/><circle cx="370.0" cy="834.4" r="2.75" fill="#258a78"/><circle cx="319.4" cy="796.2" r="2.75" fill="#258a78"/><circle cx="375.6" cy="811.3" r="2.75" fill="#258a78"/><circle cx="248.1" cy="787.9" r="2.75" fill="#258a78"/><circle cx="370.7" cy="791.2" r="2.75" fill="#258a78"/><circle cx="230.2" cy="788.9" r="2.75" fill="#258a78"/><circle cx="356.1" cy="816.1" r="2.75" fill="#258a78"/><circle cx="356.8" cy="790.3" r="2.75" fill="#258a78"/><circle cx="324.1" cy="801.5" r="2.75" fill="#258a78"/><circle cx="310.2" cy="788.8" r="2.75" fill="#258a78"/><circle cx="261.1" cy="809.0" r="2.75" fill="#258a78"/><circle cx="386.6" cy="804.3" r="2.75" fill="#258a78"/><circle cx="400.3" cy="816.9" r="2.75" fill="#258a78"/><circle cx="246.7" cy="793.7" r="2.75" fill="#258a78"/><circle cx="408.5" cy="817.5" r="2.75" fill="#258a78"/><circle cx="403.3" cy="790.2" r="2.75" fill="#258a78"/><circle cx="294.3" cy="796.9" r="2.75" fill="#258a78"/><circle cx="292.0" cy="799.1" r="2.75" fill="#258a78"/><circle cx="269.0" cy="788.7" r="2.75" fill="#258a78"/><circle cx="366.8" cy="766.5" r="2.75" fill="#258a78"/><circle cx="384.4" cy="762.7" r="2.75" fill="#258a78"/><circle cx="392.0" cy="770.3" r="2.75" fill="#258a78"/><circle cx="426.1" cy="766.5" r="2.75" fill="#258a78"/><circle cx="447.1" cy="790.5" r="2.75" fill="#258a78"/><circle cx="311.2" cy="783.4" r="2.75" fill="#258a78"/><circle cx="278.3" cy="777.1" r="2.75" fill="#258a78"/><circle cx="268.2" cy="774.1" r="2.75" fill="#258a78"/><circle cx="343.8" cy="746.3" r="2.75" fill="#f2a53c"/><circle cx="387.5" cy="738.4" r="2.75" fill="#f2a53c"/><circle cx="390.2" cy="761.0" r="2.75" fill="#f2a53c"/><circle cx="394.5" cy="771.8" r="2.75" fill="#f2a53c"/><circle cx="335.7" cy="754.9" r="2.75" fill="#f2a53c"/><circle cx="374.2" cy="752.5" r="2.75" fill="#f2a53c"/><circle cx="353.5" cy="757.8" r="2.75" fill="#f2a53c"/><circle cx="340.9" cy="748.0" r="2.75" fill="#f2a53c"/><circle cx="286.8" cy="750.2" r="2.75" fill="#f2a53c"/><circle cx="393.9" cy="758.8" r="2.75" fill="#f2a53c"/><circle cx="323.4" cy="765.1" r="2.75" fill="#f2a53c"/><circle cx="315.7" cy="754.6" r="2.75" fill="#f2a53c"/><circle cx="342.2" cy="771.0" r="2.75" fill="#f2a53c"/><circle cx="417.6" cy="747.8" r="2.75" fill="#f2a53c"/><circle cx="293.5" cy="749.6" r="2.75" fill="#f2a53c"/><circle cx="320.5" cy="760.7" r="2.75" fill="#f2a53c"/><circle cx="424.5" cy="762.2" r="2.75" fill="#f2a53c"/><circle cx="409.8" cy="783.6" r="2.75" fill="#f2a53c"/><circle cx="346.2" cy="773.9" r="2.75" fill="#f2a53c"/><circle cx="332.5" cy="766.6" r="2.75" fill="#f2a53c"/><circle cx="372.0" cy="752.7" r="2.75" fill="#f2a53c"/><circle cx="370.1" cy="774.8" r="2.75" fill="#f2a53c"/><circle cx="346.6" cy="768.4" r="2.75" fill="#f2a53c"/><circle cx="318.0" cy="748.2" r="2.75" fill="#f2a53c"/><circle cx="299.9" cy="761.5" r="2.75" fill="#f2a53c"/><circle cx="422.0" cy="762.3" r="2.75" fill="#f2a53c"/><circle cx="341.1" cy="773.5" r="2.75" fill="#f2a53c"/><circle cx="324.7" cy="750.1" r="2.75" fill="#f2a53c"/><circle cx="307.5" cy="759.3" r="2.75" fill="#f2a53c"/><circle cx="379.8" cy="746.8" r="2.75" fill="#f2a53c"/><circle cx="403.8" cy="777.1" r="2.75" fill="#f2a53c"/><circle cx="408.6" cy="748.6" r="2.75" fill="#f2a53c"/><circle cx="283.5" cy="759.1" r="2.75" fill="#f2a53c"/><circle cx="267.3" cy="757.7" r="2.75" fill="#f2a53c"/><circle cx="249.3" cy="757.7" r="2.75" fill="#f2a53c"/><circle cx="393.1" cy="737.5" r="2.75" fill="#f2a53c"/><circle cx="376.0" cy="756.9" r="2.75" fill="#f2a53c"/><circle cx="295.3" cy="755.4" r="2.75" fill="#f2a53c"/><circle cx="409.0" cy="759.9" r="2.75" fill="#f2a53c"/><circle cx="247.0" cy="762.2" r="2.75" fill="#f2a53c"/><circle cx="277.1" cy="756.1" r="2.75" fill="#f2a53c"/><circle cx="397.4" cy="737.9" r="2.75" fill="#f2a53c"/><circle cx="393.4" cy="786.1" r="2.75" fill="#f2a53c"/><circle cx="307.8" cy="750.9" r="2.75" fill="#f2a53c"/><circle cx="291.6" cy="775.9" r="2.75" fill="#f2a53c"/><circle cx="303.0" cy="751.1" r="2.75" fill="#f2a53c"/><circle cx="285.7" cy="762.3" r="2.75" fill="#f2a53c"/><circle cx="326.8" cy="763.3" r="2.75" fill="#f2a53c"/><circle cx="409.2" cy="779.0" r="2.75" fill="#f2a53c"/><circle cx="364.0" cy="754.0" r="2.75" fill="#f2a53c"/><circle cx="303.7" cy="756.0" r="2.75" fill="#f2a53c"/><circle cx="400.7" cy="740.1" r="2.75" fill="#f2a53c"/><circle cx="243.7" cy="766.7" r="2.75" fill="#f2a53c"/><circle cx="256.9" cy="763.6" r="2.75" fill="#f2a53c"/><circle cx="385.5" cy="760.7" r="2.75" fill="#f2a53c"/><circle cx="285.8" cy="759.0" r="2.75" fill="#f2a53c"/><circle cx="366.7" cy="773.5" r="2.75" fill="#f2a53c"/><circle cx="393.5" cy="783.2" r="2.75" fill="#f2a53c"/><circle cx="376.0" cy="742.5" r="2.75" fill="#f2a53c"/><circle cx="413.0" cy="752.1" r="2.75" fill="#f2a53c"/><circle cx="355.5" cy="756.6" r="2.75" fill="#f2a53c"/><circle cx="391.4" cy="746.8" r="2.75" fill="#f2a53c"/><circle cx="357.9" cy="754.0" r="2.75" fill="#f2a53c"/><circle cx="343.0" cy="748.6" r="2.75" fill="#f2a53c"/><circle cx="406.2" cy="772.3" r="2.75" fill="#f2a53c"/><circle cx="431.7" cy="756.5" r="2.75" fill="#f2a53c"/><circle cx="418.3" cy="760.9" r="2.75" fill="#f2a53c"/><circle cx="361.7" cy="770.4" r="2.75" fill="#f2a53c"/><circle cx="282.3" cy="756.3" r="2.75" fill="#f2a53c"/><circle cx="290.1" cy="769.3" r="2.75" fill="#f2a53c"/><circle cx="373.3" cy="747.1" r="2.75" fill="#f2a53c"/><circle cx="403.4" cy="766.4" r="2.75" fill="#f2a53c"/><circle cx="319.5" cy="766.5" r="2.75" fill="#f2a53c"/><circle cx="370.7" cy="740.8" r="2.75" fill="#f2a53c"/><circle cx="322.6" cy="751.6" r="2.75" fill="#f2a53c"/><circle cx="302.1" cy="767.4" r="2.75" fill="#f2a53c"/><circle cx="311.5" cy="759.0" r="2.75" fill="#f2a53c"/><circle cx="312.9" cy="746.7" r="2.75" fill="#f2a53c"/><circle cx="389.3" cy="747.1" r="2.75" fill="#f2a53c"/><circle cx="333.3" cy="744.8" r="2.75" fill="#f2a53c"/><circle cx="255.3" cy="770.6" r="2.75" fill="#f2a53c"/><circle cx="314.4" cy="764.0" r="2.75" fill="#f2a53c"/><circle cx="267.2" cy="751.6" r="2.75" fill="#f2a53c"/><circle cx="345.9" cy="787.6" r="2.75" fill="#f2a53c"/><circle cx="259.5" cy="763.2" r="2.75" fill="#f2a53c"/><circle cx="337.9" cy="738.7" r="2.75" fill="#f2a53c"/><circle cx="409.6" cy="744.7" r="2.75" fill="#f2a53c"/><circle cx="401.4" cy="748.1" r="2.75" fill="#f2a53c"/><circle cx="345.2" cy="757.2" r="2.75" fill="#f2a53c"/><circle cx="388.7" cy="786.0" r="2.75" fill="#f2a53c"/><circle cx="395.5" cy="737.8" r="2.75" fill="#f2a53c"/><circle cx="412.4" cy="742.3" r="2.75" fill="#f2a53c"/><circle cx="362.4" cy="766.5" r="2.75" fill="#f2a53c"/><circle cx="368.1" cy="752.8" r="2.75" fill="#f2a53c"/><circle cx="324.7" cy="768.3" r="2.75" fill="#f2a53c"/><circle cx="325.9" cy="772.6" r="2.75" fill="#f2a53c"/><circle cx="330.3" cy="760.2" r="2.75" fill="#f2a53c"/><circle cx="396.8" cy="779.4" r="2.75" fill="#f2a53c"/><circle cx="335.9" cy="741.7" r="2.75" fill="#f2a53c"/><circle cx="263.6" cy="759.8" r="2.75" fill="#f2a53c"/><circle cx="255.9" cy="760.5" r="2.75" fill="#f2a53c"/><circle cx="343.6" cy="737.9" r="2.75" fill="#f2a53c"/><circle cx="390.5" cy="779.3" r="2.75" fill="#f2a53c"/><circle cx="342.3" cy="756.9" r="2.75" fill="#f2a53c"/><circle cx="390.2" cy="781.4" r="2.75" fill="#f2a53c"/><circle cx="250.4" cy="755.3" r="2.75" fill="#f2a53c"/><circle cx="395.2" cy="744.6" r="2.75" fill="#f2a53c"/><circle cx="424.7" cy="751.1" r="2.75" fill="#f2a53c"/><circle cx="407.7" cy="743.7" r="2.75" fill="#f2a53c"/><circle cx="280.3" cy="750.4" r="2.75" fill="#f2a53c"/><circle cx="342.8" cy="753.6" r="2.75" fill="#f2a53c"/><circle cx="379.2" cy="785.9" r="2.75" fill="#f2a53c"/><circle cx="260.8" cy="765.4" r="2.75" fill="#f2a53c"/><circle cx="370.1" cy="755.8" r="2.75" fill="#f2a53c"/><circle cx="368.7" cy="757.8" r="2.75" fill="#f2a53c"/><circle cx="403.9" cy="750.5" r="2.75" fill="#f2a53c"/><circle cx="329.4" cy="745.6" r="2.75" fill="#f2a53c"/><circle cx="359.5" cy="772.9" r="2.75" fill="#f2a53c"/><circle cx="365.8" cy="759.9" r="2.75" fill="#f2a53c"/><circle cx="259.0" cy="755.7" r="2.75" fill="#f2a53c"/><circle cx="283.7" cy="768.4" r="2.75" fill="#f2a53c"/><circle cx="360.2" cy="747.1" r="2.75" fill="#f2a53c"/><circle cx="367.5" cy="762.3" r="2.75" fill="#f2a53c"/><circle cx="320.9" cy="750.5" r="2.75" fill="#f2a53c"/><circle cx="372.0" cy="760.6" r="2.75" fill="#f2a53c"/><circle cx="245.9" cy="765.5" r="2.75" fill="#f2a53c"/><circle cx="278.5" cy="769.8" r="2.75" fill="#f2a53c"/><circle cx="301.5" cy="752.5" r="2.75" fill="#f2a53c"/><circle cx="400.8" cy="775.8" r="2.75" fill="#f2a53c"/><circle cx="392.9" cy="761.8" r="2.75" fill="#f2a53c"/><circle cx="382.4" cy="783.1" r="2.75" fill="#f2a53c"/><circle cx="385.9" cy="750.6" r="2.75" fill="#f2a53c"/><circle cx="352.8" cy="760.1" r="2.75" fill="#f2a53c"/><circle cx="402.0" cy="765.0" r="2.75" fill="#f2a53c"/><circle cx="292.3" cy="771.7" r="2.75" fill="#f2a53c"/><circle cx="291.2" cy="748.9" r="2.75" fill="#f2a53c"/><circle cx="393.1" cy="754.0" r="2.75" fill="#f2a53c"/><circle cx="421.2" cy="754.1" r="2.75" fill="#f2a53c"/><circle cx="356.2" cy="752.9" r="2.75" fill="#f2a53c"/><circle cx="281.1" cy="770.6" r="2.75" fill="#f2a53c"/><circle cx="381.9" cy="771.2" r="2.75" fill="#f2a53c"/><circle cx="382.8" cy="777.0" r="2.75" fill="#f2a53c"/><circle cx="250.4" cy="768.8" r="2.75" fill="#f2a53c"/><circle cx="414.4" cy="781.2" r="2.75" fill="#f2a53c"/><circle cx="395.5" cy="747.2" r="2.75" fill="#f2a53c"/><circle cx="439.5" cy="762.7" r="2.75" fill="#f2a53c"/><circle cx="445.3" cy="762.7" r="2.75" fill="#f2a53c"/><circle cx="438.3" cy="781.9" r="2.75" fill="#f2a53c"/><circle cx="381.9" cy="791.2" r="2.75" fill="#f2a53c"/><circle cx="347.1" cy="790.5" r="2.75" fill="#f2a53c"/><circle cx="293.0" cy="789.2" r="2.75" fill="#f2a53c"/><circle cx="243.0" cy="784.9" r="2.75" fill="#f2a53c"/><circle cx="249.3" cy="774.1" r="2.75" fill="#f2a53c"/><circle cx="237.9" cy="812.5" r="2.75" fill="#f4714a"/><circle cx="333.2" cy="832.4" r="2.75" fill="#f4714a"/><circle cx="340.7" cy="833.9" r="2.75" fill="#f4714a"/><circle cx="311.1" cy="1026.1" r="2.75" fill="#f4714a"/><circle cx="309.2" cy="1036.1" r="2.75" fill="#f4714a"/><circle cx="339.3" cy="1032.7" r="2.75" fill="#f4714a"/><circle cx="317.3" cy="1038.0" r="2.75" fill="#f4714a"/><circle cx="312.6" cy="1035.7" r="2.75" fill="#f4714a"/><circle cx="322.7" cy="1019.0" r="2.75" fill="#f4714a"/><circle cx="334.5" cy="1045.0" r="2.75" fill="#f4714a"/><circle cx="320.2" cy="1038.8" r="2.75" fill="#f4714a"/><circle cx="312.6" cy="1040.0" r="2.75" fill="#f4714a"/><circle cx="331.2" cy="1028.6" r="2.75" fill="#f4714a"/><circle cx="298.5" cy="1038.5" r="2.75" fill="#f4714a"/><circle cx="331.1" cy="1038.5" r="2.75" fill="#f4714a"/><circle cx="327.5" cy="1023.8" r="2.75" fill="#f4714a"/><circle cx="315.5" cy="1025.1" r="2.75" fill="#f4714a"/><circle cx="341.9" cy="1028.7" r="2.75" fill="#f4714a"/><circle cx="334.1" cy="1033.7" r="2.75" fill="#f4714a"/><circle cx="302.5" cy="1040.4" r="2.75" fill="#f4714a"/><circle cx="345.8" cy="1036.5" r="2.75" fill="#f4714a"/><circle cx="333.0" cy="1026.5" r="2.75" fill="#f4714a"/><circle cx="304.6" cy="1033.4" r="2.75" fill="#f4714a"/><circle cx="327.7" cy="1027.5" r="2.75" fill="#f4714a"/><circle cx="324.6" cy="1037.2" r="2.75" fill="#f4714a"/><circle cx="332.4" cy="1041.7" r="2.75" fill="#f4714a"/><circle cx="310.8" cy="1033.1" r="2.75" fill="#f4714a"/><circle cx="335.6" cy="1036.0" r="2.75" fill="#f4714a"/><circle cx="327.5" cy="1020.2" r="2.75" fill="#f4714a"/><circle cx="330.0" cy="1043.4" r="2.75" fill="#f4714a"/><circle cx="335.4" cy="1024.9" r="2.75" fill="#f4714a"/><circle cx="320.2" cy="1044.9" r="2.75" fill="#f4714a"/><circle cx="321.3" cy="1033.5" r="2.75" fill="#f4714a"/><circle cx="338.1" cy="1029.4" r="2.75" fill="#f4714a"/><circle cx="316.0" cy="1044.0" r="2.75" fill="#f4714a"/><circle cx="316.5" cy="1035.5" r="2.75" fill="#f4714a"/><circle cx="358.2" cy="1023.1" r="2.75" fill="#f4714a"/><circle cx="352.7" cy="1037.8" r="2.75" fill="#f4714a"/><circle cx="383.4" cy="1031.2" r="2.75" fill="#f4714a"/><circle cx="348.6" cy="1038.9" r="2.75" fill="#f4714a"/><circle cx="377.8" cy="1034.5" r="2.75" fill="#f4714a"/><circle cx="363.2" cy="1032.2" r="2.75" fill="#f4714a"/><circle cx="358.3" cy="1034.6" r="2.75" fill="#f4714a"/><circle cx="378.2" cy="1040.1" r="2.75" fill="#f4714a"/><circle cx="363.2" cy="1024.0" r="2.75" fill="#f4714a"/><circle cx="366.6" cy="1018.8" r="2.75" fill="#f4714a"/><circle cx="378.9" cy="1025.8" r="2.75" fill="#f4714a"/><circle cx="379.6" cy="1023.1" r="2.75" fill="#f4714a"/><circle cx="361.4" cy="1020.6" r="2.75" fill="#f4714a"/><circle cx="355.2" cy="1022.4" r="2.75" fill="#f4714a"/><circle cx="356.1" cy="1029.7" r="2.75" fill="#f4714a"/><circle cx="361.5" cy="1034.6" r="2.75" fill="#f4714a"/><circle cx="371.4" cy="1026.1" r="2.75" fill="#f4714a"/><circle cx="383.0" cy="1041.3" r="2.75" fill="#f4714a"/><circle cx="386.7" cy="1037.9" r="2.75" fill="#f4714a"/><circle cx="391.6" cy="1038.1" r="2.75" fill="#f4714a"/><circle cx="422.1" cy="1011.5" r="2.75" fill="#f4714a"/><circle cx="397.1" cy="1035.5" r="2.75" fill="#f4714a"/><circle cx="393.3" cy="1040.8" r="2.75" fill="#f4714a"/><circle cx="419.3" cy="1035.8" r="2.75" fill="#f4714a"/><circle cx="422.8" cy="1040.9" r="2.75" fill="#f4714a"/><circle cx="395.0" cy="1031.7" r="2.75" fill="#f4714a"/><circle cx="414.7" cy="1034.0" r="2.75" fill="#f4714a"/><circle cx="409.2" cy="1040.4" r="2.75" fill="#f4714a"/><circle cx="416.1" cy="1012.2" r="2.75" fill="#f4714a"/><circle cx="410.9" cy="1006.7" r="2.75" fill="#f4714a"/><circle cx="412.3" cy="1022.9" r="2.75" fill="#f4714a"/><circle cx="415.2" cy="1039.5" r="2.75" fill="#f4714a"/><circle cx="411.0" cy="1025.8" r="2.75" fill="#f4714a"/><circle cx="405.5" cy="1019.2" r="2.75" fill="#f4714a"/><circle cx="420.9" cy="1029.1" r="2.75" fill="#f4714a"/><circle cx="385.0" cy="1027.9" r="2.75" fill="#f4714a"/><circle cx="425.7" cy="1028.7" r="2.75" fill="#f4714a"/><circle cx="403.3" cy="1039.4" r="2.75" fill="#f4714a"/><circle cx="395.8" cy="1020.0" r="2.75" fill="#f4714a"/><circle cx="408.3" cy="1025.4" r="2.75" fill="#f4714a"/><circle cx="432.2" cy="1018.5" r="2.75" fill="#f4714a"/><circle cx="413.1" cy="1012.5" r="2.75" fill="#f4714a"/><circle cx="413.2" cy="1044.6" r="2.75" fill="#f4714a"/><circle cx="422.0" cy="1036.3" r="2.75" fill="#f4714a"/><circle cx="402.9" cy="1014.6" r="2.75" fill="#f4714a"/><circle cx="401.0" cy="1026.9" r="2.75" fill="#f4714a"/><circle cx="385.7" cy="1033.1" r="2.75" fill="#f4714a"/><circle cx="435.6" cy="1025.0" r="2.75" fill="#f4714a"/><circle cx="437.7" cy="1027.9" r="2.75" fill="#f4714a"/><circle cx="422.7" cy="1021.0" r="2.75" fill="#f4714a"/><circle cx="422.0" cy="1017.0" r="2.75" fill="#f4714a"/><circle cx="401.2" cy="1019.4" r="2.75" fill="#f4714a"/><circle cx="431.2" cy="1026.4" r="2.75" fill="#f4714a"/><circle cx="384.2" cy="1017.8" r="2.75" fill="#f4714a"/><circle cx="418.3" cy="1042.9" r="2.75" fill="#f4714a"/><circle cx="388.5" cy="1039.8" r="2.75" fill="#f4714a"/><circle cx="425.8" cy="1011.2" r="2.75" fill="#f4714a"/><circle cx="426.6" cy="1008.7" r="2.75" fill="#f4714a"/><circle cx="425.5" cy="1039.2" r="2.75" fill="#f4714a"/><circle cx="420.4" cy="1032.5" r="2.75" fill="#f4714a"/><circle cx="410.5" cy="1042.7" r="2.75" fill="#f4714a"/><circle cx="398.3" cy="1044.1" r="2.75" fill="#f4714a"/><circle cx="401.7" cy="1033.4" r="2.75" fill="#f4714a"/><circle cx="405.0" cy="1026.4" r="2.75" fill="#f4714a"/><circle cx="470.5" cy="1006.0" r="2.75" fill="#f4714a"/><circle cx="475.4" cy="1001.2" r="2.75" fill="#f4714a"/><circle cx="485.3" cy="996.1" r="2.75" fill="#f4714a"/><circle cx="485.8" cy="1001.2" r="2.75" fill="#f4714a"/><circle cx="497.4" cy="1000.7" r="2.75" fill="#f4714a"/><circle cx="442.2" cy="1024.7" r="2.75" fill="#f4714a"/><circle cx="470.3" cy="1005.9" r="2.75" fill="#f4714a"/><circle cx="475.1" cy="1001.1" r="2.75" fill="#f4714a"/><circle cx="484.9" cy="996.4" r="2.75" fill="#f4714a"/><circle cx="485.8" cy="1001.4" r="2.75" fill="#f4714a"/><circle cx="497.0" cy="1000.9" r="2.75" fill="#f4714a"/><circle cx="552.3" cy="1005.6" r="2.75" fill="#f4714a"/><circle cx="511.2" cy="993.2" r="2.75" fill="#2476d2"/><circle cx="497.0" cy="995.7" r="2.75" fill="#2476d2"/><circle cx="507.5" cy="992.5" r="2.75" fill="#2476d2"/><circle cx="520.4" cy="987.8" r="2.75" fill="#2476d2"/><circle cx="508.6" cy="995.5" r="2.75" fill="#2476d2"/><circle cx="517.3" cy="985.1" r="2.75" fill="#2476d2"/><circle cx="523.9" cy="996.4" r="2.75" fill="#2476d2"/><circle cx="510.7" cy="997.7" r="2.75" fill="#2476d2"/><circle cx="519.0" cy="997.8" r="2.75" fill="#2476d2"/><circle cx="529.0" cy="984.9" r="2.75" fill="#2476d2"/><circle cx="529.4" cy="997.6" r="2.75" fill="#2476d2"/><circle cx="506.7" cy="980.7" r="2.75" fill="#2476d2"/><circle cx="516.7" cy="995.7" r="2.75" fill="#2476d2"/><circle cx="499.7" cy="994.8" r="2.75" fill="#2476d2"/><circle cx="535.0" cy="983.9" r="2.75" fill="#2476d2"/><circle cx="519.3" cy="993.2" r="2.75" fill="#2476d2"/><circle cx="512.4" cy="983.3" r="2.75" fill="#2476d2"/><circle cx="502.3" cy="994.8" r="2.75" fill="#2476d2"/><circle cx="528.2" cy="988.6" r="2.75" fill="#2476d2"/><circle cx="494.2" cy="995.9" r="2.75" fill="#2476d2"/><circle cx="585.1" cy="978.6" r="2.75" fill="#2476d2"/><circle cx="574.8" cy="1003.2" r="2.75" fill="#2476d2"/><circle cx="591.1" cy="989.3" r="2.75" fill="#2476d2"/><circle cx="569.3" cy="991.8" r="2.75" fill="#2476d2"/><circle cx="553.5" cy="996.0" r="2.75" fill="#2476d2"/><circle cx="563.2" cy="990.9" r="2.75" fill="#2476d2"/><circle cx="597.1" cy="983.8" r="2.75" fill="#2476d2"/><circle cx="549.5" cy="993.4" r="2.75" fill="#2476d2"/><circle cx="575.7" cy="982.8" r="2.75" fill="#2476d2"/><circle cx="571.6" cy="970.7" r="2.75" fill="#2476d2"/><circle cx="574.1" cy="979.7" r="2.75" fill="#2476d2"/><circle cx="585.4" cy="985.8" r="2.75" fill="#2476d2"/><circle cx="594.4" cy="998.4" r="2.75" fill="#2476d2"/><circle cx="557.6" cy="990.9" r="2.75" fill="#2476d2"/><circle cx="579.6" cy="984.5" r="2.75" fill="#2476d2"/><circle cx="567.8" cy="975.9" r="2.75" fill="#2476d2"/><circle cx="595.4" cy="1006.7" r="2.75" fill="#2476d2"/><circle cx="557.5" cy="983.0" r="2.75" fill="#2476d2"/><circle cx="592.0" cy="1003.5" r="2.75" fill="#2476d2"/><circle cx="588.5" cy="971.7" r="2.75" fill="#2476d2"/><circle cx="661.2" cy="993.4" r="2.75" fill="#2476d2"/><circle cx="649.9" cy="1009.0" r="2.75" fill="#2476d2"/><circle cx="658.7" cy="1006.4" r="2.75" fill="#2476d2"/><circle cx="645.4" cy="996.1" r="2.75" fill="#2476d2"/><circle cx="605.8" cy="971.5" r="2.75" fill="#2476d2"/><circle cx="618.1" cy="960.2" r="2.75" fill="#2476d2"/><circle cx="636.4" cy="962.7" r="2.75" fill="#2476d2"/><circle cx="600.1" cy="1005.7" r="2.75" fill="#2476d2"/><circle cx="615.2" cy="1006.1" r="2.75" fill="#2476d2"/><circle cx="667.8" cy="1003.5" r="2.75" fill="#2476d2"/><circle cx="608.6" cy="978.5" r="2.75" fill="#2476d2"/><circle cx="605.1" cy="1005.8" r="2.75" fill="#2476d2"/><circle cx="665.8" cy="988.8" r="2.75" fill="#2476d2"/><circle cx="634.0" cy="972.4" r="2.75" fill="#2476d2"/><circle cx="664.2" cy="980.2" r="2.75" fill="#2476d2"/><circle cx="655.3" cy="984.5" r="2.75" fill="#2476d2"/><circle cx="609.0" cy="1002.5" r="2.75" fill="#2476d2"/><circle cx="618.9" cy="976.5" r="2.75" fill="#2476d2"/><circle cx="609.9" cy="968.5" r="2.75" fill="#2476d2"/><circle cx="610.9" cy="981.0" r="2.75" fill="#2476d2"/><circle cx="623.1" cy="1004.3" r="2.75" fill="#2476d2"/><circle cx="601.8" cy="1003.9" r="2.75" fill="#2476d2"/><circle cx="636.1" cy="969.4" r="2.75" fill="#2476d2"/><circle cx="618.2" cy="964.6" r="2.75" fill="#2476d2"/><circle cx="665.0" cy="983.0" r="2.75" fill="#2476d2"/><circle cx="612.3" cy="977.8" r="2.75" fill="#2476d2"/><circle cx="611.9" cy="996.8" r="2.75" fill="#2476d2"/><circle cx="646.8" cy="981.2" r="2.75" fill="#2476d2"/><circle cx="647.1" cy="993.3" r="2.75" fill="#2476d2"/><circle cx="663.3" cy="986.2" r="2.75" fill="#2476d2"/><circle cx="665.8" cy="1002.2" r="2.75" fill="#2476d2"/><circle cx="612.4" cy="1000.3" r="2.75" fill="#2476d2"/><circle cx="627.1" cy="962.4" r="2.75" fill="#2476d2"/><circle cx="627.4" cy="986.9" r="2.75" fill="#2476d2"/><circle cx="597.6" cy="982.6" r="2.75" fill="#2476d2"/><circle cx="633.5" cy="982.4" r="2.75" fill="#2476d2"/><circle cx="607.0" cy="993.7" r="2.75" fill="#2476d2"/><circle cx="623.3" cy="993.5" r="2.75" fill="#2476d2"/><circle cx="628.3" cy="995.7" r="2.75" fill="#2476d2"/><circle cx="639.0" cy="983.2" r="2.75" fill="#2476d2"/><circle cx="617.6" cy="999.5" r="2.75" fill="#2476d2"/><circle cx="598.7" cy="987.1" r="2.75" fill="#2476d2"/><circle cx="644.1" cy="982.8" r="2.75" fill="#2476d2"/><circle cx="668.0" cy="993.8" r="2.75" fill="#2476d2"/><circle cx="630.2" cy="960.9" r="2.75" fill="#2476d2"/><circle cx="645.4" cy="1002.0" r="2.75" fill="#2476d2"/><circle cx="609.2" cy="985.6" r="2.75" fill="#2476d2"/><circle cx="664.5" cy="1006.3" r="2.75" fill="#2476d2"/><circle cx="628.9" cy="977.0" r="2.75" fill="#2476d2"/><circle cx="629.4" cy="1006.5" r="2.75" fill="#2476d2"/><circle cx="616.8" cy="972.1" r="2.75" fill="#2476d2"/><circle cx="601.6" cy="982.5" r="2.75" fill="#2476d2"/><circle cx="676.2" cy="997.2" r="2.75" fill="#2476d2"/><circle cx="673.5" cy="989.0" r="2.75" fill="#2476d2"/><circle cx="663.1" cy="1003.3" r="2.75" fill="#2476d2"/><circle cx="641.4" cy="1005.5" r="2.75" fill="#2476d2"/><circle cx="639.6" cy="977.7" r="2.75" fill="#2476d2"/><circle cx="622.1" cy="989.8" r="2.75" fill="#2476d2"/><circle cx="607.0" cy="986.8" r="2.75" fill="#2476d2"/><circle cx="619.1" cy="979.6" r="2.75" fill="#2476d2"/><circle cx="620.7" cy="966.9" r="2.75" fill="#2476d2"/><circle cx="604.4" cy="984.1" r="2.75" fill="#2476d2"/><circle cx="643.6" cy="990.0" r="2.75" fill="#2476d2"/><circle cx="613.6" cy="993.4" r="2.75" fill="#2476d2"/><circle cx="615.3" cy="982.2" r="2.75" fill="#2476d2"/><circle cx="642.5" cy="981.0" r="2.75" fill="#2476d2"/><circle cx="621.3" cy="996.9" r="2.75" fill="#2476d2"/><circle cx="602.3" cy="975.1" r="2.75" fill="#2476d2"/><circle cx="633.0" cy="994.8" r="2.75" fill="#2476d2"/><circle cx="606.1" cy="965.9" r="2.75" fill="#2476d2"/><circle cx="609.8" cy="972.2" r="2.75" fill="#2476d2"/><circle cx="625.9" cy="991.4" r="2.75" fill="#2476d2"/><circle cx="657.4" cy="995.3" r="2.75" fill="#2476d2"/><circle cx="659.1" cy="980.1" r="2.75" fill="#2476d2"/><circle cx="659.6" cy="986.3" r="2.75" fill="#2476d2"/><circle cx="637.8" cy="1007.7" r="2.75" fill="#2476d2"/><circle cx="643.8" cy="976.8" r="2.75" fill="#2476d2"/><circle cx="634.0" cy="979.1" r="2.75" fill="#2476d2"/><circle cx="629.0" cy="984.6" r="2.75" fill="#2476d2"/><circle cx="628.5" cy="971.4" r="2.75" fill="#2476d2"/><circle cx="661.3" cy="1001.3" r="2.75" fill="#2476d2"/><circle cx="612.2" cy="970.4" r="2.75" fill="#2476d2"/><circle cx="631.9" cy="1004.8" r="2.75" fill="#2476d2"/><circle cx="672.1" cy="997.0" r="2.75" fill="#2476d2"/><circle cx="625.8" cy="1006.9" r="2.75" fill="#2476d2"/><circle cx="652.3" cy="982.9" r="2.75" fill="#2476d2"/><circle cx="605.3" cy="974.4" r="2.75" fill="#2476d2"/><circle cx="633.1" cy="988.5" r="2.75" fill="#2476d2"/><circle cx="640.4" cy="999.4" r="2.75" fill="#2476d2"/><circle cx="676.9" cy="1000.0" r="2.75" fill="#2476d2"/><circle cx="638.9" cy="959.4" r="2.75" fill="#2476d2"/><circle cx="670.0" cy="992.3" r="2.75" fill="#2476d2"/><circle cx="612.5" cy="963.5" r="2.75" fill="#2476d2"/><circle cx="648.5" cy="987.3" r="2.75" fill="#2476d2"/><circle cx="630.7" cy="997.8" r="2.75" fill="#2476d2"/><circle cx="618.9" cy="989.8" r="2.75" fill="#2476d2"/><circle cx="647.1" cy="998.9" r="2.75" fill="#2476d2"/><circle cx="633.8" cy="975.0" r="2.75" fill="#2476d2"/><circle cx="644.7" cy="1007.5" r="2.75" fill="#2476d2"/><circle cx="673.0" cy="1001.6" r="2.75" fill="#2476d2"/><circle cx="644.9" cy="948.1" r="2.75" fill="#2476d2"/><circle cx="490.0" cy="996.1" r="2.75" fill="#2476d2"/><circle cx="630.3" cy="1005.6" r="2.75" fill="#bf2c2f"/><circle cx="744.9" cy="863.4" r="2.75" fill="#bf2c2f"/><circle cx="787.8" cy="842.5" r="2.75" fill="#bf2c2f"/><circle cx="738.7" cy="845.5" r="2.75" fill="#bf2c2f"/><circle cx="779.5" cy="839.6" r="2.75" fill="#bf2c2f"/><circle cx="759.4" cy="859.7" r="2.75" fill="#bf2c2f"/><circle cx="738.8" cy="838.0" r="2.75" fill="#bf2c2f"/><circle cx="748.6" cy="838.4" r="2.75" fill="#bf2c2f"/><circle cx="766.0" cy="835.9" r="2.75" fill="#bf2c2f"/><circle cx="763.6" cy="845.4" r="2.75" fill="#bf2c2f"/><circle cx="752.5" cy="834.2" r="2.75" fill="#bf2c2f"/><circle cx="728.5" cy="860.8" r="2.75" fill="#bf2c2f"/><circle cx="734.3" cy="841.8" r="2.75" fill="#bf2c2f"/><circle cx="774.8" cy="843.8" r="2.75" fill="#bf2c2f"/><circle cx="731.3" cy="856.6" r="2.75" fill="#bf2c2f"/><circle cx="725.9" cy="841.3" r="2.75" fill="#bf2c2f"/><circle cx="755.9" cy="861.2" r="2.75" fill="#bf2c2f"/><circle cx="748.2" cy="857.2" r="2.75" fill="#bf2c2f"/><circle cx="750.2" cy="865.5" r="2.75" fill="#bf2c2f"/><circle cx="735.7" cy="865.2" r="2.75" fill="#bf2c2f"/><circle cx="761.2" cy="839.8" r="2.75" fill="#bf2c2f"/><circle cx="756.7" cy="836.5" r="2.75" fill="#bf2c2f"/><circle cx="795.0" cy="852.5" r="2.75" fill="#bf2c2f"/><circle cx="770.0" cy="839.3" r="2.75" fill="#bf2c2f"/><circle cx="761.9" cy="850.9" r="2.75" fill="#bf2c2f"/><circle cx="741.1" cy="858.9" r="2.75" fill="#bf2c2f"/><circle cx="750.9" cy="854.9" r="2.75" fill="#bf2c2f"/><circle cx="766.5" cy="842.8" r="2.75" fill="#bf2c2f"/><circle cx="733.1" cy="861.7" r="2.75" fill="#bf2c2f"/><circle cx="745.4" cy="855.1" r="2.75" fill="#bf2c2f"/><circle cx="727.3" cy="851.6" r="2.75" fill="#bf2c2f"/><circle cx="748.9" cy="849.4" r="2.75" fill="#bf2c2f"/><circle cx="743.4" cy="834.2" r="2.75" fill="#bf2c2f"/><circle cx="744.6" cy="839.8" r="2.75" fill="#bf2c2f"/><circle cx="728.7" cy="857.0" r="2.75" fill="#bf2c2f"/><circle cx="742.1" cy="846.0" r="2.75" fill="#bf2c2f"/><circle cx="729.3" cy="841.6" r="2.75" fill="#bf2c2f"/><circle cx="720.5" cy="855.7" r="2.75" fill="#bf2c2f"/><circle cx="727.8" cy="863.9" r="2.75" fill="#bf2c2f"/><circle cx="780.8" cy="856.9" r="2.75" fill="#bf2c2f"/><circle cx="731.8" cy="838.8" r="2.75" fill="#bf2c2f"/><circle cx="721.3" cy="842.8" r="2.75" fill="#bf2c2f"/><circle cx="772.6" cy="838.2" r="2.75" fill="#bf2c2f"/><circle cx="789.8" cy="851.9" r="2.75" fill="#bf2c2f"/><circle cx="755.2" cy="855.9" r="2.75" fill="#bf2c2f"/><circle cx="722.0" cy="840.4" r="2.75" fill="#bf2c2f"/><circle cx="782.1" cy="834.9" r="2.75" fill="#bf2c2f"/><circle cx="777.4" cy="845.7" r="2.75" fill="#bf2c2f"/><circle cx="799.0" cy="846.7" r="2.75" fill="#bf2c2f"/><circle cx="771.7" cy="847.8" r="2.75" fill="#bf2c2f"/><circle cx="754.6" cy="849.8" r="2.75" fill="#bf2c2f"/><circle cx="740.3" cy="851.0" r="2.75" fill="#bf2c2f"/><circle cx="764.5" cy="840.6" r="2.75" fill="#bf2c2f"/><circle cx="753.2" cy="838.9" r="2.75" fill="#bf2c2f"/><circle cx="744.5" cy="836.7" r="2.75" fill="#bf2c2f"/><circle cx="778.5" cy="855.4" r="2.75" fill="#bf2c2f"/><circle cx="738.3" cy="840.3" r="2.75" fill="#bf2c2f"/><circle cx="762.1" cy="847.5" r="2.75" fill="#bf2c2f"/><circle cx="730.1" cy="851.6" r="2.75" fill="#bf2c2f"/><circle cx="746.5" cy="860.5" r="2.75" fill="#bf2c2f"/><circle cx="764.9" cy="858.6" r="2.75" fill="#bf2c2f"/><circle cx="769.2" cy="848.1" r="2.75" fill="#bf2c2f"/><circle cx="734.8" cy="856.5" r="2.75" fill="#bf2c2f"/><circle cx="745.7" cy="848.3" r="2.75" fill="#bf2c2f"/><circle cx="725.1" cy="857.0" r="2.75" fill="#bf2c2f"/><circle cx="801.9" cy="851.6" r="2.75" fill="#bf2c2f"/><circle cx="727.3" cy="849.0" r="2.75" fill="#bf2c2f"/><circle cx="796.7" cy="854.5" r="2.75" fill="#bf2c2f"/><circle cx="773.8" cy="840.7" r="2.75" fill="#bf2c2f"/><circle cx="720.3" cy="859.0" r="2.75" fill="#bf2c2f"/><circle cx="733.8" cy="854.3" r="2.75" fill="#bf2c2f"/><circle cx="732.4" cy="859.4" r="2.75" fill="#bf2c2f"/><circle cx="749.6" cy="861.0" r="2.75" fill="#bf2c2f"/><circle cx="766.5" cy="853.9" r="2.75" fill="#bf2c2f"/><circle cx="788.1" cy="856.6" r="2.75" fill="#bf2c2f"/><circle cx="722.1" cy="857.7" r="2.75" fill="#258a78"/><circle cx="757.8" cy="852.4" r="2.75" fill="#258a78"/><circle cx="767.6" cy="864.7" r="2.75" fill="#258a78"/><circle cx="780.5" cy="859.4" r="2.75" fill="#258a78"/><circle cx="306.9" cy="1180.4" r="6.9" fill="#258a78"/><text x="324.3" y="1183.7" font-size="12.4" fill="#111" textLength="47.8" lengthAdjust="spacingAndGlyphs">cluster_1</text><circle cx="390.0" cy="1180.4" r="6.9" fill="#f2a53c"/><text x="407.5" y="1183.7" font-size="12.4" fill="#111" textLength="47.8" lengthAdjust="spacingAndGlyphs">cluster_2</text><circle cx="473.1" cy="1180.4" r="6.9" fill="#2476d2"/><text x="490.5" y="1183.7" font-size="12.4" fill="#111" textLength="47.8" lengthAdjust="spacingAndGlyphs">cluster_3</text><circle cx="556.0" cy="1180.4" r="6.9" fill="#f4714a"/><text x="573.6" y="1183.7" font-size="12.4" fill="#111" textLength="47.8" lengthAdjust="spacingAndGlyphs">cluster_4</text><circle cx="638.8" cy="1180.4" r="6.9" fill="#bf2c2f"/><text x="656.5" y="1183.7" font-size="12.4" fill="#111" textLength="47.8" lengthAdjust="spacingAndGlyphs">cluster_5</text></svg>
<div class="a" style="left:924px;top:656px;width:302px;height:536.3px;background:#f9fafc;box-shadow:-1px 0 2px rgba(0,0,0,.10);overflow:hidden">
<div class="a" style="left:0;top:0;width:302px;height:26px;background:#fafbfd"></div>
<div class="a" style="left:2px;top:26px;width:298px;height:1px;background:#eeeff2"></div>
<svg style="left:7.5px;top:9.0px" width="8" height="10"><path d="M1.5 1.2L5.2 4.8L1.5 8.4" fill="none" stroke="#111" stroke-width="1.6"/></svg>
<div class="lbl" style="left:17.3px;top:7.0px;font-size:12px;color:#444">Hide Side Panel</div>
<div class="a" style="left:284.6px;top:27px;width:14px;height:512px;background:#f5f6f8;border-left:1px solid #eceef1"></div>
<div class="a" style="left:288.3px;top:29.0px;width:7.5px;height:323px;border-radius:4px;background:#bababa"></div>
<svg style="left:16.6px;top:34.5px" width="9" height="7"><path d="M1.2 5.4L4.2 2L7.2 5.4" fill="none" stroke="#222" stroke-width="1.5"/></svg>
<div class="bl" style="left:27.0px;top:31.0px;">Series</div>
<svg style="left:16.6px;top:218.5px" width="9" height="7"><path d="M1.2 5.4L4.2 2L7.2 5.4" fill="none" stroke="#222" stroke-width="1.5"/></svg>
<div class="bl" style="left:27.0px;top:215.0px;">Font &amp; Graphical Settings</div>
<div class="fs" style="left:15.2px;top:57.4px;width:259.5px;height:137.0px"></div>
<div class="a" style="left:20.5px;top:56.4px;width:98.0px;height:3px;background:#f9fafc"></div>
<div class="bl" style="left:23.3px;top:50.2px;color:#555">General Options</div>
<div class="fs" style="left:15.2px;top:241.6px;width:259.5px;height:188.6px"></div>
<div class="a" style="left:20.5px;top:240.6px;width:98.0px;height:3px;background:#f9fafc"></div>
<div class="bl" style="left:23.3px;top:234.4px;color:#555">General Options</div>
<div class="fs" style="left:15.2px;top:443.3px;width:259.5px;height:200.7px"></div>
<div class="a" style="left:20.5px;top:442.3px;width:90.0px;height:3px;background:#f9fafc"></div>
<div class="bl" style="left:23.3px;top:436.1px;color:#555">X-Axis Options</div>
<div class="a" style="left:41.3px;top:69.4px;width:227.6px;height:22.2px;border:1px solid #cdcdcd;background:#fafafa"></div>
<div class="a" style="left:42.0px;top:69.9px;width:20.2px;height:21.2px;background:#258a78"></div>
<div class="lbl" style="left:66.8px;top:73.6px;color:#111;font-size:12px">cluster_1</div>
<div class="a" style="left:24.8px;top:73.9px;width:13.2px;height:13.2px;border-radius:2.5px;background:#2b7cf3"></div>
<svg style="left:24.8px;top:73.9px" width="13" height="13"><path d="M3 6.8L5.6 9.6L10 3.6" fill="none" stroke="#fff" stroke-width="1.8" stroke-linecap="round" stroke-linejoin="round"/></svg>
<div class="a" style="left:41.3px;top:92.4px;width:227.6px;height:22.2px;border:1px solid #cdcdcd;background:#fafafa"></div>
<div class="a" style="left:42.0px;top:92.9px;width:20.2px;height:21.2px;background:#f2a53c"></div>
<div class="lbl" style="left:66.8px;top:96.6px;color:#111;font-size:12px">cluster_2</div>
<div class="a" style="left:24.8px;top:96.9px;width:13.2px;height:13.2px;border-radius:2.5px;background:#2b7cf3"></div>
<svg style="left:24.8px;top:96.9px" width="13" height="13"><path d="M3 6.8L5.6 9.6L10 3.6" fill="none" stroke="#fff" stroke-width="1.8" stroke-linecap="round" stroke-linejoin="round"/></svg>
<div class="a" style="left:41.3px;top:115.4px;width:227.6px;height:22.2px;border:1px solid #cdcdcd;background:#fafafa"></div>
<div class="a" style="left:42.0px;top:115.9px;width:20.2px;height:21.2px;background:#2476d2"></div>
<div class="lbl" style="left:66.8px;top:119.6px;color:#111;font-size:12px">cluster_3</div>
<div class="a" style="left:24.8px;top:119.9px;width:13.2px;height:13.2px;border-radius:2.5px;background:#2b7cf3"></div>
<svg style="left:24.8px;top:119.9px" width="13" height="13"><path d="M3 6.8L5.6 9.6L10 3.6" fill="none" stroke="#fff" stroke-width="1.8" stroke-linecap="round" stroke-linejoin="round"/></svg>
<div class="a" style="left:41.3px;top:138.4px;width:227.6px;height:22.2px;border:1px solid #cdcdcd;background:#fafafa"></div>
<div class="a" style="left:42.0px;top:138.9px;width:20.2px;height:21.2px;background:#f4714a"></div>
<div class="lbl" style="left:66.8px;top:142.6px;color:#111;font-size:12px">cluster_4</div>
<div class="a" style="left:24.8px;top:142.9px;width:13.2px;height:13.2px;border-radius:2.5px;background:#2b7cf3"></div>
<svg style="left:24.8px;top:142.9px" width="13" height="13"><path d="M3 6.8L5.6 9.6L10 3.6" fill="none" stroke="#fff" stroke-width="1.8" stroke-linecap="round" stroke-linejoin="round"/></svg>
<div class="a" style="left:41.3px;top:161.4px;width:227.6px;height:22.2px;border:1px solid #cdcdcd;background:#fafafa"></div>
<div class="a" style="left:42.0px;top:161.9px;width:20.2px;height:21.2px;background:#bf2c2f"></div>
<div class="lbl" style="left:66.8px;top:165.6px;color:#111;font-size:12px">cluster_5</div>
<div class="a" style="left:24.8px;top:165.9px;width:13.2px;height:13.2px;border-radius:2.5px;background:#2b7cf3"></div>
<svg style="left:24.8px;top:165.9px" width="13" height="13"><path d="M3 6.8L5.6 9.6L10 3.6" fill="none" stroke="#fff" stroke-width="1.8" stroke-linecap="round" stroke-linejoin="round"/></svg>
<div class="lbl" style="left:21.4px;top:257.9px;">Font family</div>
<div class="lbl" style="left:21.4px;top:286.9px;">Title</div>
<div class="lbl" style="left:21.4px;top:316.7px;">Pie Chart Labels</div>
<div class="lbl" style="left:21.4px;top:347.0px;">Grid options</div>
<div class="lbl" style="left:21.4px;top:377.0px;">Symbol size</div>
<div class="lbl" style="left:21.4px;top:403.9px;">Enable zoom sliders</div>
<div class="lbl" style="left:21.4px;top:460.7px;">Title</div>
<div class="lbl" style="left:21.4px;top:490.7px;">Labels</div>
<div class="lbl" style="left:21.4px;top:520.8px;">Max dec. digits</div>
<div class="a" style="left:176.3px;top:252.3px;width:93.4px;height:24.4px;border:2px solid #c6c6c6;background:#fff;border-radius:1px"></div>
<div class="lbl" style="left:183.3px;top:258.0px;color:#333;font-size:11.8px">Roboto</div>
<svg style="left:252.5px;top:261.5px" width="9" height="7"><path d="M1 1.5L4.3 5L7.6 1.5" fill="none" stroke="#111" stroke-width="1.7"/></svg>
<div class="btn" style="left:177.2px;top:281.3px;width:25.4px;height:24.4px"></div>
<div class="btn" style="left:203.4px;top:281.3px;width:25.4px;height:24.4px"></div>
<div class="btn" style="left:229.4px;top:281.3px;width:39.6px;height:24.4px"></div>
<div class="a" style="left:253.2px;top:282.3px;width:15px;height:22.4px;background:#ececec"></div>
<div class="t" style="left:177.2px;top:285.5px;width:25.4px;text-align:center;font-family:'Liberation Serif',serif;font-weight:bold;font-size:15.5px;line-height:16px;color:#3b78e7">B</div>
<div class="t" style="left:203.4px;top:285.5px;width:25.4px;text-align:center;font-family:'Liberation Serif',serif;font-weight:bold;font-style:italic;font-size:15.5px;line-height:16px;color:#111">I</div>
<div class="t" style="left:229.4px;top:286.8px;width:24px;text-align:center;font-size:12.5px;line-height:14px;color:#222">20</div>
<svg style="left:256.2px;top:284.7px" width="9" height="18"><path d="M0.6 6L4.3 1.6L8 6z" fill="#333"/><path d="M0.6 11.6L4.3 16L8 11.6z" fill="#333"/></svg>
<div class="btn" style="left:177.2px;top:311.2px;width:25.4px;height:24.4px"></div>
<div class="btn" style="left:203.4px;top:311.2px;width:25.4px;height:24.4px"></div>
<div class="btn" style="left:229.4px;top:311.2px;width:39.6px;height:24.4px"></div>
<div class="a" style="left:253.2px;top:312.2px;width:15px;height:22.4px;background:#ececec"></div>
<div class="t" style="left:177.2px;top:315.4px;width:25.4px;text-align:center;font-family:'Liberation Serif',serif;font-weight:bold;font-size:15.5px;line-height:16px;color:#e4e4da">B</div>
<div class="t" style="left:203.4px;top:315.4px;width:25.4px;text-align:center;font-family:'Liberation Serif',serif;font-weight:bold;font-style:italic;font-size:15.5px;line-height:16px;color:#e4e4da">I</div>
<div class="t" style="left:229.4px;top:316.7px;width:24px;text-align:center;font-size:12.5px;line-height:14px;color:#333">12</div>
<svg style="left:256.2px;top:314.6px" width="9" height="18"><path d="M0.6 6L4.3 1.6L8 6z" fill="#b5b5b5"/><path d="M0.6 11.6L4.3 16L8 11.6z" fill="#b5b5b5"/></svg>
<div class="btn" style="left:177.2px;top:455.4px;width:25.4px;height:24.4px"></div>
<div class="btn" style="left:203.4px;top:455.4px;width:25.4px;height:24.4px"></div>
<div class="btn" style="left:229.4px;top:455.4px;width:39.6px;height:24.4px"></div>
<div class="a" style="left:253.2px;top:456.4px;width:15px;height:22.4px;background:#ececec"></div>
<div class="t" style="left:177.2px;top:459.6px;width:25.4px;text-align:center;font-family:'Liberation Serif',serif;font-weight:bold;font-size:15.5px;line-height:16px;color:#111">B</div>
<div class="t" style="left:203.4px;top:459.6px;width:25.4px;text-align:center;font-family:'Liberation Serif',serif;font-weight:bold;font-style:italic;font-size:15.5px;line-height:16px;color:#111">I</div>
<div class="t" style="left:229.4px;top:460.9px;width:24px;text-align:center;font-size:12.5px;line-height:14px;color:#222">14</div>
<svg style="left:256.2px;top:458.8px" width="9" height="18"><path d="M0.6 6L4.3 1.6L8 6z" fill="#333"/><path d="M0.6 11.6L4.3 16L8 11.6z" fill="#333"/></svg>
<div class="btn" style="left:177.2px;top:485.4px;width:25.4px;height:24.4px"></div>
<div class="btn" style="left:203.4px;top:485.4px;width:25.4px;height:24.4px"></div>
<div class="btn" style="left:229.4px;top:485.4px;width:39.6px;height:24.4px"></div>
<div class="a" style="left:253.2px;top:486.4px;width:15px;height:22.4px;background:#ececec"></div>
<div class="t" style="left:177.2px;top:489.6px;width:25.4px;text-align:center;font-family:'Liberation Serif',serif;font-weight:bold;font-size:15.5px;line-height:16px;color:#111">B</div>
<div class="t" style="left:203.4px;top:489.6px;width:25.4px;text-align:center;font-family:'Liberation Serif',serif;font-weight:bold;font-style:italic;font-size:15.5px;line-height:16px;color:#111">I</div>
<div class="t" style="left:229.4px;top:490.9px;width:24px;text-align:center;font-size:12.5px;line-height:14px;color:#222">12</div>
<svg style="left:256.2px;top:488.8px" width="9" height="18"><path d="M0.6 6L4.3 1.6L8 6z" fill="#333"/><path d="M0.6 11.6L4.3 16L8 11.6z" fill="#333"/></svg>
<div class="btn" style="left:177.3px;top:341.3px;width:25.4px;height:25.2px"></div>
<div class="btn" style="left:210.3px;top:341.3px;width:25.4px;height:25.2px"></div>
<div class="btn" style="left:243.3px;top:341.3px;width:25.4px;height:25.2px"></div>
<svg style="left:177.3px;top:341.3px" width="100" height="26"><path d="M9.2 7.5v10.5M13 7.5v10.5M16.8 7.5v10.5" stroke="#111" stroke-width="1.4"/><path d="M40.7 9h10.6M40.7 12.8h10.6M40.7 16.6h10.6" stroke="#111" stroke-width="1.4"/><rect x="74.2" y="8" width="9.6" height="9.6" fill="none" stroke="#111" stroke-width="1.1" stroke-dasharray="1.4 0.9"/><path d="M79 8v9.6M74.2 12.8h9.6" stroke="#111" stroke-width="1.1" stroke-dasharray="1.4 0.9"/></svg>
<div class="a" style="left:177.3px;top:382.0px;width:91.6px;height:4px;background:#3b78e7;border:0.8px solid #3d4a66"></div>
<div class="a" style="left:185.1px;top:375.4px;width:7.6px;height:17.4px;background:#3b78e7;border:0.8px solid #3d4a66"></div>
<div class="a" style="left:253.2px;top:403.7px;width:12.8px;height:13.2px;border:1.1px solid #767676;border-radius:2.8px;background:#fff"></div>
<div class="btn" style="left:178.2px;top:515.3px;width:25.2px;height:24.4px"></div>
<div class="btn" style="left:204.6px;top:515.3px;width:64.2px;height:24.4px"></div>
<div class="a" style="left:253.2px;top:516.3px;width:15px;height:22.4px;background:#ececec"></div>
<div class="t" style="left:178.2px;top:520.9px;width:25.2px;text-align:center;font-size:12.5px;font-weight:bold;line-height:14px;color:#111;letter-spacing:-0.8px">1E</div>
<div class="t" style="left:204.6px;top:520.9px;width:48px;text-align:center;font-size:12.5px;line-height:14px;color:#222">30</div>
<svg style="left:256.2px;top:518.7px" width="9" height="18"><path d="M0.6 6L4.3 1.6L8 6z" fill="#333"/><path d="M0.6 11.6L4.3 16L8 11.6z" fill="#333"/></svg>
</div>
<div class="a" style="left:924px;top:656px;width:1px;height:536px;background:#e4e5e8"></div>
<div class="pnl" style="left:1231px;top:632px;width:494px;height:564px"></div>
<div class="a" style="left:1368px;top:655px;width:356px;height:1px;background:#a6a6a6"></div>
<div class="a" style="left:1232px;top:633px;width:137px;height:25px;background:#e7e7e7;border-right:1px solid #a6a6a6;border-radius:3px 4px 0 0"></div>
<div class="a" style="left:1368.5px;top:656px;width:355px;height:3px;background:#ececec"></div>
<div class="a" style="left:1234px;top:658px;width:489px;height:537px;background:#fff"></div>
<svg style="left:1235.6px;top:636.5px" width="14.6" height="14.6"><circle cx="7.3" cy="7.3" r="7.3" fill="#9a9a9a"/><text x="7.3" y="11.4" text-anchor="middle" font-size="11.6" fill="#fff" textLength="10.1" lengthAdjust="spacingAndGlyphs">Ht</text></svg>
<div class="tabtxt" style="left:1255.5px;top:636.5px">*GO_0044237</div>
<svg style="left:1351px;top:639px" width="11" height="11"><path d="M1 1l9 9M10 1l-9 9" stroke="#222" stroke-width="1.1"/></svg>
<svg style="left:0;top:0" width="1781" height="700"><path d="M1620.5 636.0 h8 l4 4 v11.5 h-12 z" fill="#fff" stroke="#8a8a8a" stroke-width="0.9"/><rect x="1617.5" y="637.3" width="10" height="3.6" fill="#d0141c"/><path d="M1622.0 650.5 c2 -1 4 -5 3.4 -7.4 c-0.6 -1.6 -1.8 0 -0.8 2.4 c1.2 2.6 3.6 4.6 6.4 4.6 c1.6 -0.6 -1 -1.4 -3.6 -1 c-2.2 0.4 -4.4 1 -5.4 1.4 z" fill="none" stroke="#e02020" stroke-width="0.9"/><path d="M1638.5 636.5 h11.8 l2.4 2.2 v13.2 h-14.2 z" fill="#fff" stroke="#444" stroke-width="1.1"/><path d="M1640.7 636.7 v7.6 h9.5 v-7.6" fill="none" stroke="#444" stroke-width="1.1"/><path d="M1648.3 638.6 v4.2" stroke="#444" stroke-width="1.2"/><path d="M1659.5 636.5 h11.8 l2.4 2.2 v13.2 h-14.2 z" fill="#fff" stroke="#444" stroke-width="1.1"/><path d="M1661.7 636.7 v7.6 h9.5 v-7.6" fill="none" stroke="#444" stroke-width="1.1"/><path d="M1669.3 638.6 v4.2" stroke="#444" stroke-width="1.2"/><path d="M1661.8 649.4 h9.8" stroke="#666" stroke-width="1.4"/><rect x="1683.5" y="638.5" width="9" height="3.4" fill="#fff" stroke="#555" stroke-width="1"/><rect x="1705.5" y="638.5" width="9" height="9" fill="#f4f4f4" stroke="#555" stroke-width="1"/><path d="M1705.5 640.5 h9" stroke="#555" stroke-width="1"/></svg>
<div class="t" style="left:1257.2px;top:664px;font-size:18px;font-weight:bold;line-height:20px;color:#1a1a1a;letter-spacing:-0.1px">Statistics</div>
<div class="a" style="left:1257px;top:685px;width:427px;height:1px;background:#d9d9d9"></div>
<div class="a" style="left:1708px;top:658px;width:15px;height:522px;background:#fafafa"></div>
<div class="a" style="left:1711px;top:673px;width:7.3px;height:19.5px;border-radius:4px;background:#bababa"></div>
<div class="a" style="left:1234px;top:1179px;width:489px;height:16px;background:#fafafa"></div>
<div class="a" style="left:1237px;top:1182px;width:420px;height:7.6px;border-radius:4px;background:#bababa"></div>
<div class="a" style="left:1257px;top:696.5px;width:450.5px;height:482px;background:#ececec;border-left:1px solid #d0d0d0;border-top:1px solid #d8d8d8;overflow:hidden;box-shadow:-1px -1px 2px rgba(0,0,0,.08)">
<svg style="left:0;top:0" width="450" height="482"><rect x="68.7" y="26.0" width="380.8" height="197.1" fill="#fff"/><rect x="68.7" y="223.1" width="380.8" height="212.8" fill="#fff"/><path d="M110.2 26.0V223.1" stroke="#d6d6d6" stroke-width="0.8" stroke-dasharray="2.2 2.2"/><path d="M110.2 305.6V435.9" stroke="#d6d6d6" stroke-width="0.8" stroke-dasharray="2.2 2.2"/><path d="M151.4 26.0V223.1" stroke="#d6d6d6" stroke-width="0.8" stroke-dasharray="2.2 2.2"/><path d="M151.4 305.6V435.9" stroke="#d6d6d6" stroke-width="0.8" stroke-dasharray="2.2 2.2"/><path d="M192.4 26.0V223.1" stroke="#d6d6d6" stroke-width="0.8" stroke-dasharray="2.2 2.2"/><path d="M192.4 305.6V435.9" stroke="#d6d6d6" stroke-width="0.8" stroke-dasharray="2.2 2.2"/><path d="M233.3 26.0V223.1" stroke="#d6d6d6" stroke-width="0.8" stroke-dasharray="2.2 2.2"/><path d="M233.3 305.6V435.9" stroke="#d6d6d6" stroke-width="0.8" stroke-dasharray="2.2 2.2"/><path d="M275.4 26.0V223.1" stroke="#d6d6d6" stroke-width="0.8" stroke-dasharray="2.2 2.2"/><path d="M275.4 305.6V435.9" stroke="#d6d6d6" stroke-width="0.8" stroke-dasharray="2.2 2.2"/><path d="M316.4 26.0V223.1" stroke="#d6d6d6" stroke-width="0.8" stroke-dasharray="2.2 2.2"/><path d="M316.4 305.6V435.9" stroke="#d6d6d6" stroke-width="0.8" stroke-dasharray="2.2 2.2"/><path d="M357.3 26.0V223.1" stroke="#d6d6d6" stroke-width="0.8" stroke-dasharray="2.2 2.2"/><path d="M357.3 305.6V435.9" stroke="#d6d6d6" stroke-width="0.8" stroke-dasharray="2.2 2.2"/><path d="M398.3 26.0V223.1" stroke="#d6d6d6" stroke-width="0.8" stroke-dasharray="2.2 2.2"/><path d="M398.3 305.6V435.9" stroke="#d6d6d6" stroke-width="0.8" stroke-dasharray="2.2 2.2"/><path d="M440.1 26.0V223.1" stroke="#d6d6d6" stroke-width="0.8" stroke-dasharray="2.2 2.2"/><path d="M440.1 305.6V435.9" stroke="#d6d6d6" stroke-width="0.8" stroke-dasharray="2.2 2.2"/><path d="M68.7 44.5H449.5" stroke="#d6d6d6" stroke-width="0.8" stroke-dasharray="2.2 2.2"/><path d="M68.7 63.0H449.5" stroke="#d6d6d6" stroke-width="0.8" stroke-dasharray="2.2 2.2"/><path d="M68.7 81.5H449.5" stroke="#d6d6d6" stroke-width="0.8" stroke-dasharray="2.2 2.2"/><path d="M68.7 100.0H449.5" stroke="#d6d6d6" stroke-width="0.8" stroke-dasharray="2.2 2.2"/><path d="M68.7 118.5H449.5" stroke="#d6d6d6" stroke-width="0.8" stroke-dasharray="2.2 2.2"/><path d="M68.7 137.0H449.5" stroke="#d6d6d6" stroke-width="0.8" stroke-dasharray="2.2 2.2"/><path d="M68.7 155.4H449.5" stroke="#d6d6d6" stroke-width="0.8" stroke-dasharray="2.2 2.2"/><path d="M68.7 173.9H449.5" stroke="#d6d6d6" stroke-width="0.8" stroke-dasharray="2.2 2.2"/><path d="M68.7 192.4H449.5" stroke="#d6d6d6" stroke-width="0.8" stroke-dasharray="2.2 2.2"/><path d="M68.7 210.9H449.5" stroke="#d6d6d6" stroke-width="0.8" stroke-dasharray="2.2 2.2"/><path d="M68.7 325.1H449.5" stroke="#d6d6d6" stroke-width="0.8" stroke-dasharray="2.2 2.2"/><path d="M68.7 347.1H449.5" stroke="#d6d6d6" stroke-width="0.8" stroke-dasharray="2.2 2.2"/><path d="M68.7 369.2H449.5" stroke="#d6d6d6" stroke-width="0.8" stroke-dasharray="2.2 2.2"/><path d="M68.7 391.8H449.5" stroke="#d6d6d6" stroke-width="0.8" stroke-dasharray="2.2 2.2"/><path d="M68.7 413.8H449.5" stroke="#d6d6d6" stroke-width="0.8" stroke-dasharray="2.2 2.2"/><path d="M68.7 26.0H449.5" stroke="#8c8c8c" stroke-width="1"/><path d="M68.7 26.0V435.9" stroke="#8c8c8c" stroke-width="1"/><path d="M68.7 223.1H449.5" stroke="#8c8c8c" stroke-width="1"/><path d="M68.7 435.9H449.5" stroke="#8c8c8c" stroke-width="1"/><text x="250.5" y="16.7" text-anchor="middle" font-size="18" font-weight="bold" fill="#000" textLength="303" lengthAdjust="spacingAndGlyphs">Enrichment plot: GO_0044237</text><text x="63.5" y="29.2" text-anchor="end" font-size="10.5" fill="#000" textLength="21" lengthAdjust="spacingAndGlyphs">0.00</text><path d="M68.7 26.0h-2" stroke="#8c8c8c" stroke-width="1"/><text x="63.5" y="47.7" text-anchor="end" font-size="10.5" fill="#000" textLength="25" lengthAdjust="spacingAndGlyphs">-0.01</text><path d="M68.7 44.5h-2" stroke="#8c8c8c" stroke-width="1"/><text x="63.5" y="66.2" text-anchor="end" font-size="10.5" fill="#000" textLength="25" lengthAdjust="spacingAndGlyphs">-0.02</text><path d="M68.7 63.0h-2" stroke="#8c8c8c" stroke-width="1"/><text x="63.5" y="84.7" text-anchor="end" font-size="10.5" fill="#000" textLength="25" lengthAdjust="spacingAndGlyphs">-0.03</text><path d="M68.7 81.5h-2" stroke="#8c8c8c" stroke-width="1"/><text x="63.5" y="103.2" text-anchor="end" font-size="10.5" fill="#000" textLength="25" lengthAdjust="spacingAndGlyphs">-0.04</text><path d="M68.7 100.0h-2" stroke="#8c8c8c" stroke-width="1"/><text x="63.5" y="121.7" text-anchor="end" font-size="10.5" fill="#000" textLength="25" lengthAdjust="spacingAndGlyphs">-0.05</text><path d="M68.7 118.5h-2" stroke="#8c8c8c" stroke-width="1"/><text x="63.5" y="140.2" text-anchor="end" font-size="10.5" fill="#000" textLength="25" lengthAdjust="spacingAndGlyphs">-0.06</text><path d="M68.7 137.0h-2" stroke="#8c8c8c" stroke-width="1"/><text x="63.5" y="158.6" text-anchor="end" font-size="10.5" fill="#000" textLength="25" lengthAdjust="spacingAndGlyphs">-0.07</text><path d="M68.7 155.4h-2" stroke="#8c8c8c" stroke-width="1"/><text x="63.5" y="177.1" text-anchor="end" font-size="10.5" fill="#000" textLength="25" lengthAdjust="spacingAndGlyphs">-0.08</text><path d="M68.7 173.9h-2" stroke="#8c8c8c" stroke-width="1"/><text x="63.5" y="195.6" text-anchor="end" font-size="10.5" fill="#000" textLength="25" lengthAdjust="spacingAndGlyphs">-0.09</text><path d="M68.7 192.4h-2" stroke="#8c8c8c" stroke-width="1"/><text x="63.5" y="214.1" text-anchor="end" font-size="10.5" fill="#000" textLength="25" lengthAdjust="spacingAndGlyphs">-0.10</text><path d="M68.7 210.9h-2" stroke="#8c8c8c" stroke-width="1"/><text transform="translate(30.3,124.5) rotate(-90)" text-anchor="middle" font-size="13" fill="#000" textLength="139" lengthAdjust="spacingAndGlyphs">Enrichment score (ES)</text><polyline points="68.5,28.1 69.3,32.1 70.2,39.4 71.0,43.9 71.8,50.2 72.6,55.7 73.4,60.7 74.2,64.9 75.0,64.0 75.9,65.3 76.7,71.7 77.5,71.4 78.3,61.4 79.1,54.2 79.9,57.2 80.8,63.2 81.6,68.8 82.4,68.5 83.2,71.4 84.2,71.7 85.2,68.0 86.2,66.5 87.1,73.8 88.1,79.5 88.9,83.3 89.7,91.7 90.6,98.8 91.4,102.4 92.2,101.5 93.0,101.7 93.8,100.3 94.6,98.3 95.5,97.5 96.3,103.1 97.1,103.2 97.9,102.7 98.7,100.0 99.5,97.5 100.4,99.1 101.2,94.7 102.0,85.9 102.8,79.5 103.8,78.9 104.8,77.9 105.7,73.8 106.7,80.2 107.6,86.6 108.5,89.3 109.3,92.0 110.1,97.6 111.0,98.8 111.8,104.9 112.6,105.7 113.4,108.0 114.2,103.8 115.0,104.2 115.9,106.5 116.7,107.3 117.5,114.0 118.3,113.8 119.1,115.4 119.9,118.4 120.8,118.4 121.6,121.5 122.4,122.7 123.2,125.3 124.0,126.6 124.8,130.1 125.7,131.8 126.5,128.2 127.3,125.9 128.1,119.5 128.9,124.1 129.7,129.1 130.6,130.2 131.4,133.3 132.2,135.1 133.0,133.4 133.8,130.9 134.6,124.4 135.5,122.8 136.3,127.1 137.1,130.0 137.9,131.9 138.7,131.8 139.5,135.2 140.4,139.1 141.2,139.3 142.0,144.0 142.8,144.3 143.6,141.2 144.4,137.9 145.3,137.5 146.1,136.4 146.9,142.4 147.7,144.6 148.5,143.2 149.3,141.0 150.1,145.3 151.0,143.2 151.8,141.9 152.6,144.0 153.4,141.0 154.2,141.9 155.0,140.7 155.9,136.7 156.7,132.2 157.5,133.5 158.3,131.0 159.1,130.8 159.9,137.1 160.8,138.3 161.6,133.0 162.4,131.8 163.2,125.3 164.0,128.8 164.8,126.9 165.7,130.6 166.5,128.5 167.5,129.1 168.4,131.8 169.5,125.3 170.6,123.6 171.4,129.9 172.2,132.4 173.0,139.0 173.8,146.5 174.6,146.5 175.5,148.2 176.3,148.1 177.1,149.8 177.9,152.8 178.7,161.2 179.5,162.8 180.4,163.8 181.2,166.9 182.1,162.6 183.1,153.0 184.1,159.1 185.1,159.9 186.1,164.4 186.9,166.5 187.7,169.0 188.5,172.0 189.3,173.4 190.1,169.3 191.0,164.5 191.8,159.5 192.6,160.6 193.4,162.9 194.2,160.8 195.0,161.2 195.9,156.7 196.7,153.0 197.5,157.1 198.3,157.2 199.1,160.4 199.9,164.4 200.8,166.6 201.6,163.5 202.4,162.8 203.2,165.1 204.0,164.1 204.8,168.4 205.7,171.0 206.5,174.7 207.3,174.8 208.1,181.4 208.9,184.0 209.7,188.9 210.6,189.7 211.4,197.0 212.2,200.4 213.0,203.7 213.8,208.5 214.6,211.0 215.5,208.2 216.3,208.3 217.1,205.3 217.9,202.5 218.7,194.4 219.5,193.0 220.3,192.1 221.2,196.3 222.0,189.9 222.8,184.2 223.6,174.2 224.4,170.4 225.2,169.1 226.1,166.9 226.9,171.0 227.7,172.9 228.5,177.5 229.3,178.4 230.1,179.7 231.0,181.6 231.8,184.6 232.6,184.5 233.4,187.3 234.2,182.0 235.0,179.7 235.9,170.9 236.7,169.4 237.5,164.4 238.3,162.8 239.1,157.5 239.9,154.0 240.8,154.4 241.6,149.7 242.5,146.0 243.4,143.5 244.3,142.6 245.2,140.8 246.1,145.4 247.1,145.6 248.1,151.4 248.9,151.8 249.7,153.3 250.6,157.6 251.4,157.1 252.2,151.6 253.0,148.9 253.8,139.9 254.6,136.7 255.6,134.7 256.6,135.4 257.6,133.4 258.4,138.9 259.3,139.7 260.2,143.2 261.0,146.1 261.8,150.0 262.6,156.9 263.4,161.2 264.2,162.5 265.1,169.1 265.9,172.4 266.7,171.8 267.5,176.7 268.3,174.1 269.1,175.7 270.0,172.6 270.8,171.0 271.6,167.7 272.4,172.7 273.2,174.2 274.0,168.5 274.9,162.3 275.7,159.5 276.5,159.4 277.3,163.4 278.1,162.8 278.9,162.0 279.7,163.0 280.6,164.4 281.4,159.1 282.2,154.2 283.0,149.7 283.8,142.7 284.6,139.1 285.5,130.2 286.3,122.9 287.1,119.5 287.9,120.2 288.7,129.2 289.5,130.2 290.4,129.1 291.2,123.6 292.0,131.3 292.8,133.0 293.6,138.3 294.4,141.3 295.3,141.6 296.1,138.0 296.9,139.9 297.7,144.2 298.5,147.6 299.3,149.5 300.2,151.4 301.0,152.1 301.8,151.5 302.6,152.4 303.4,152.4 304.2,154.6 305.1,146.7 305.9,144.3 306.7,138.3 307.5,139.8 308.3,145.5 309.1,146.5 310.0,143.3 310.8,147.7 311.6,144.8 312.4,143.1 313.2,141.6 314.0,138.5 314.8,133.4 315.7,138.2 316.5,138.3 317.3,134.4 318.1,126.8 318.9,125.3 319.7,121.8 320.6,113.6 321.4,110.6 322.2,111.6 323.0,115.8 323.8,117.1 324.6,113.6 325.5,109.3 326.3,108.6 327.1,102.4 327.9,102.2 328.7,99.9 329.5,98.5 330.4,99.1 331.2,100.1 332.0,96.8 332.8,95.9 333.6,97.1 334.4,94.2 335.3,92.9 336.1,94.2 336.9,98.5 337.7,102.4 338.5,110.7 339.3,115.5 340.4,107.0 341.5,102.4 342.4,100.8 343.4,95.9 344.2,97.7 345.1,96.5 345.9,94.2 346.7,93.9 347.5,87.1 348.3,87.7 349.1,93.3 349.9,99.6 350.8,102.4 351.6,101.5 352.4,104.4 353.2,106.0 354.0,108.9 354.6,104.2 355.2,99.1 356.2,101.4 357.1,104.4 358.1,107.3 358.9,108.1 359.7,102.8 360.6,102.3 361.4,104.0 362.2,98.1 363.0,94.3 363.8,92.6 364.6,85.5 365.5,86.1 366.3,78.7 367.1,84.3 367.9,83.4 368.7,89.3 369.5,91.8 370.4,94.2 371.2,98.1 372.0,103.0 372.8,108.9 373.6,104.3 374.4,102.2 375.3,97.5 376.1,101.3 376.9,104.0 377.7,109.2 378.5,114.2 379.3,122.0 380.2,119.4 381.0,116.6 381.8,117.4 382.6,115.5 383.6,112.9 384.6,107.2 385.5,104.0 386.5,106.5 387.5,113.8 388.5,116.9 389.5,122.9 390.4,128.5 391.4,125.9 392.4,122.0 393.2,122.8 394.0,119.7 394.8,119.5 395.7,122.7 396.5,123.1 397.3,123.4 398.1,125.3 398.9,122.9 399.7,122.0 400.6,120.4 401.4,120.2 402.2,117.2 403.0,116.3 403.8,119.8 404.6,121.0 405.5,123.6 406.3,120.5 407.1,120.6 407.9,119.8 408.7,117.1 409.5,116.3 410.4,119.9 411.2,122.0 412.0,123.5 412.8,128.1 413.6,130.4 414.4,129.1 415.3,131.8 416.1,136.2 416.9,137.8 417.7,138.3 418.5,142.4 419.3,149.0 420.2,154.6 421.1,148.1 422.1,147.7 423.1,141.6 424.0,145.2 424.9,149.2 425.9,149.7 426.7,147.9 427.5,143.6 428.3,139.1 429.1,142.9 429.9,144.4 430.8,146.5 431.6,139.3 432.4,137.2 433.2,131.8 434.0,125.7 434.8,123.2 435.7,122.0 436.5,119.2 437.3,110.7 438.1,108.9 438.9,105.5 439.7,104.5 440.6,105.7 441.6,96.4 442.7,82.8 443.6,83.1 444.5,84.4 445.5,89.3 446.3,95.1 447.1,94.8 447.9,100.8 448.7,105.5 449.5,107.2 450.4,108.9" fill="none" stroke="#4cf03c" stroke-width="3.3" stroke-linejoin="bevel"/><path d="M68.5 24.2V32.5M70.4 35.9V45.5M72.5 52.9V57.7M74.6 61.5V70.6M75.7 64.6V70.3M77.4 67.4V72.6M78.7 56.7V64.4M80.5 59.9V66.6M81.7 62.5V68.4M82.8 64.9V72.1M84.0 64.7V75.0M85.4 62.5V71.4M87.2 71.0V78.5M89.0 80.3V90.6M90.3 92.3V97.2M91.5 100.5V104.8M93.2 98.6V104.2M94.6 95.7V103.0M96.2 98.8V104.8M98.0 100.4V107.4M99.1 96.3V105.5M100.1 94.8V102.3M101.8 86.0V89.1M103.0 73.8V81.3M104.9 70.3V80.6M106.3 74.3V80.7M108.2 85.9V92.2M110.2 91.0V97.5M112.2 102.4V107.0M114.0 100.9V108.8M116.0 103.3V109.6M117.4 109.0V112.8M118.6 110.3V119.9M119.8 115.7V122.7M121.4 118.1V123.5M123.1 120.3V128.3M124.6 127.4V134.2M125.7 128.2V136.4M126.9 121.3V130.9M128.6 117.1V123.6M130.1 126.3V133.1M131.5 128.2V136.8M133.5 126.0V134.6M135.1 120.2V127.9M136.4 122.4V127.4M137.9 124.0V134.7M139.6 131.6V137.8M140.7 136.8V143.9M142.7 139.7V147.1M144.6 134.6V142.9M146.5 136.8V143.9M147.8 138.7V146.6M149.6 140.8V148.7M151.4 140.0V145.3M153.0 140.6V147.2M154.6 134.8V143.6M156.5 132.3V139.2M158.4 126.4V134.0M160.3 132.1V141.2M162.5 124.0V132.8M164.1 124.0V130.9M166.2 124.9V132.4M168.0 126.7V133.2M169.9 122.4V130.3M171.4 125.6V134.1M173.1 137.4V143.3M174.3 143.6V150.9M175.6 143.5V151.6M176.7 146.7V152.4M177.8 153.0V157.7M179.0 158.3V162.1M180.6 162.5V169.3M182.3 156.7V164.1M183.3 150.6V156.2M184.8 157.6V164.2M186.2 163.3V168.8M187.4 164.4V170.8M189.1 167.4V177.4M190.6 161.8V170.5M192.0 157.6V163.5M193.7 155.2V165.8M195.4 156.7V164.6M196.4 152.5V158.1M198.1 156.1V162.0M200.1 161.4V167.5M201.4 160.8V168.8M202.9 158.7V169.1M204.6 165.8V173.6M206.2 169.9V175.7M208.3 178.1V184.1M209.9 186.8V192.6M211.4 193.7V200.9M213.3 203.9V208.9M214.7 205.7V215.4M216.0 205.3V209.9M218.1 197.5V204.0M219.7 189.3V197.1M221.5 191.0V197.4M222.9 177.1V183.4M224.3 168.7V175.6M225.7 163.6V171.8M226.8 167.5V173.2M228.8 173.1V181.7M229.9 175.7V183.4M231.5 179.3V187.5M233.1 181.6V189.7M234.6 175.9V182.9M235.9 168.3V174.8M237.9 158.7V166.1M239.3 153.5V163.1M240.5 150.4V157.4M242.0 145.8V150.6M243.7 139.7V146.1M245.0 136.4V145.8M246.8 145.1V150.9M248.9 147.4V157.0M250.0 149.9V157.0M251.7 149.5V159.0M252.9 144.7V152.5M254.1 136.0V142.9M255.3 132.0V137.5M256.5 131.7V136.3M257.6 129.7V137.9M259.6 139.1V144.3M261.0 143.9V151.1M263.1 156.2V160.8M264.9 164.6V170.6M266.5 167.6V176.4M268.2 173.1V179.2M269.5 168.9V176.9M270.7 168.0V173.3M272.5 169.4V175.8M274.3 166.0V171.9M275.4 159.0V164.8M276.7 156.0V164.3M278.1 158.2V164.4M280.0 162.4V166.1M282.1 151.3V157.8M283.2 142.8V152.2M285.2 130.5V136.5M286.6 120.4V125.6M288.3 122.0V127.8M289.5 125.2V134.0M291.4 121.9V129.9M293.0 130.9V138.5M294.9 135.9V140.8M296.0 137.2V141.1M298.0 140.4V148.2M299.0 144.1V152.4M300.7 148.7V155.1M301.9 150.7V154.8M303.3 150.9V158.9M304.5 150.3V155.3M305.7 142.1V147.0M307.3 138.8V145.5M308.7 140.0V149.4M310.5 142.2V150.8M311.7 140.3V147.1M313.5 133.9V140.3M314.7 132.3V136.2M315.9 133.4V141.8M317.3 131.3V137.3M318.6 122.4V131.1M319.9 117.3V123.9M321.9 108.0V115.2M324.1 114.6V117.8M326.0 104.5V109.1M327.6 96.5V105.4M329.0 98.7V102.2M331.1 94.8V103.4M332.1 94.3V98.4M333.6 93.8V97.9M335.1 92.1V96.4M336.2 89.4V96.9M337.8 99.9V106.5M338.9 109.3V113.8M340.5 102.9V111.9M342.5 96.6V100.3M344.2 92.0V99.1M345.6 90.5V98.7M347.7 86.8V92.7M349.6 93.2V97.4M351.0 101.1V107.4M352.9 104.1V108.7M354.1 106.2V110.4M355.6 96.5V102.7M356.7 99.1V104.9M357.9 104.2V109.7M359.1 103.2V109.0M360.9 100.8V109.5M362.7 93.4V101.6M364.2 85.6V94.4M366.3 74.6V83.2M367.7 80.0V87.7M368.8 88.0V91.8M370.2 89.5V96.2M371.3 95.1V103.3M372.3 104.4V108.0M373.7 99.7V109.8M375.5 96.0V101.5M376.9 101.3V105.6M378.6 111.7V120.8M379.7 117.7V123.3M381.5 114.4V122.8M383.5 110.2V114.8M385.5 100.9V107.3M387.0 107.0V116.7M388.7 114.3V123.5M389.8 120.7V128.5M390.9 121.6V128.6M392.6 118.5V126.8M394.0 118.0V122.9M395.3 116.6V123.2M397.2 121.2V126.4M398.5 119.2V129.3M400.5 116.7V123.6M401.6 113.8V121.9M402.7 114.6V118.6M404.6 115.9V123.1M406.5 118.9V125.8M408.5 113.7V122.2M409.9 118.0V123.0M411.6 120.9V126.0M413.0 124.8V129.0M414.5 126.5V134.1M415.9 128.2V138.3M418.0 136.0V144.4M419.6 146.5V154.0M421.3 145.3V153.0M422.7 141.7V145.3M424.1 140.8V149.0M425.9 146.8V154.7M427.3 139.4V145.4M429.1 137.5V146.8M431.2 139.9V148.9M433.0 129.1V135.2M434.6 121.1V128.5M436.7 112.6V119.2M437.8 107.7V112.8M439.5 102.0V112.1M441.3 95.2V100.0M443.1 80.0V88.0M444.5 82.1V89.4M445.9 88.8V95.2M447.9 98.7V104.8M449.8 104.7V108.8" fill="none" stroke="#4cf03c" stroke-width="1.5"/><rect x="73.8" y="225.4" width="375.7" height="63.0" fill="#000"/><rect shape-rendering="crispEdges" x="75.25" y="225.1" width="1.43" height="63.6" fill="#fff"/><rect shape-rendering="crispEdges" x="78.68" y="225.1" width="1.43" height="63.6" fill="#fff"/><rect shape-rendering="crispEdges" x="81.55" y="225.1" width="1.15" height="63.6" fill="#fff"/><rect shape-rendering="crispEdges" x="83.84" y="225.1" width="1.43" height="63.6" fill="#fff"/><rect shape-rendering="crispEdges" x="87.27" y="225.1" width="4.58" height="63.6" fill="#fff"/><rect shape-rendering="crispEdges" x="93.00" y="225.1" width="1.15" height="63.6" fill="#fff"/><rect shape-rendering="crispEdges" x="96.73" y="225.1" width="0.57" height="63.6" fill="#fff"/><rect shape-rendering="crispEdges" x="107.32" y="225.1" width="2.00" height="63.6" fill="#fff"/><rect shape-rendering="crispEdges" x="110.18" y="225.1" width="0.57" height="63.6" fill="#fff"/><rect shape-rendering="crispEdges" x="112.48" y="225.1" width="1.15" height="63.6" fill="#fff"/><rect shape-rendering="crispEdges" x="116.77" y="225.1" width="1.15" height="63.6" fill="#fff"/><rect shape-rendering="crispEdges" x="120.21" y="225.1" width="0.86" height="63.6" fill="#fff"/><rect shape-rendering="crispEdges" x="123.07" y="225.1" width="0.86" height="63.6" fill="#fff"/><rect shape-rendering="crispEdges" x="125.36" y="225.1" width="0.86" height="63.6" fill="#fff"/><rect shape-rendering="crispEdges" x="129.08" y="225.1" width="1.72" height="63.6" fill="#fff"/><rect shape-rendering="crispEdges" x="132.52" y="225.1" width="1.15" height="63.6" fill="#fff"/><rect shape-rendering="crispEdges" x="135.38" y="225.1" width="0.86" height="63.6" fill="#fff"/><rect shape-rendering="crispEdges" x="138.82" y="225.1" width="1.15" height="63.6" fill="#fff"/><rect shape-rendering="crispEdges" x="141.11" y="225.1" width="1.15" height="63.6" fill="#fff"/><rect shape-rendering="crispEdges" x="147.13" y="225.1" width="0.86" height="63.6" fill="#fff"/><rect shape-rendering="crispEdges" x="156.00" y="225.1" width="1.15" height="63.6" fill="#fff"/><rect shape-rendering="crispEdges" x="160.01" y="225.1" width="0.86" height="63.6" fill="#fff"/><rect shape-rendering="crispEdges" x="164.59" y="225.1" width="0.86" height="63.6" fill="#fff"/><rect shape-rendering="crispEdges" x="171.18" y="225.1" width="2.58" height="63.6" fill="#fff"/><rect shape-rendering="crispEdges" x="174.90" y="225.1" width="0.86" height="63.6" fill="#fff"/><rect shape-rendering="crispEdges" x="176.91" y="225.1" width="0.86" height="63.6" fill="#fff"/><rect shape-rendering="crispEdges" x="178.91" y="225.1" width="0.86" height="63.6" fill="#fff"/><rect shape-rendering="crispEdges" x="181.20" y="225.1" width="0.86" height="63.6" fill="#fff"/><rect shape-rendering="crispEdges" x="183.78" y="225.1" width="0.86" height="63.6" fill="#fff"/><rect shape-rendering="crispEdges" x="186.07" y="225.1" width="0.86" height="63.6" fill="#fff"/><rect shape-rendering="crispEdges" x="188.94" y="225.1" width="0.86" height="63.6" fill="#fff"/><rect shape-rendering="crispEdges" x="196.95" y="225.1" width="2.00" height="63.6" fill="#fff"/><rect shape-rendering="crispEdges" x="202.68" y="225.1" width="0.86" height="63.6" fill="#fff"/><rect shape-rendering="crispEdges" x="206.98" y="225.1" width="3.15" height="63.6" fill="#fff"/><rect shape-rendering="crispEdges" x="211.27" y="225.1" width="1.15" height="63.6" fill="#fff"/><rect shape-rendering="crispEdges" x="213.28" y="225.1" width="0.86" height="63.6" fill="#fff"/><rect shape-rendering="crispEdges" x="219.86" y="225.1" width="1.15" height="63.6" fill="#fff"/><rect shape-rendering="crispEdges" x="227.02" y="225.1" width="1.15" height="63.6" fill="#fff"/><rect shape-rendering="crispEdges" x="233.90" y="225.1" width="1.15" height="63.6" fill="#fff"/><rect shape-rendering="crispEdges" x="238.48" y="225.1" width="1.43" height="63.6" fill="#fff"/><rect shape-rendering="crispEdges" x="246.21" y="225.1" width="1.15" height="63.6" fill="#fff"/><rect shape-rendering="crispEdges" x="249.07" y="225.1" width="1.15" height="63.6" fill="#fff"/><rect shape-rendering="crispEdges" x="259.38" y="225.1" width="1.72" height="63.6" fill="#fff"/><rect shape-rendering="crispEdges" x="263.39" y="225.1" width="0.86" height="63.6" fill="#fff"/><rect shape-rendering="crispEdges" x="265.40" y="225.1" width="0.86" height="63.6" fill="#fff"/><rect shape-rendering="crispEdges" x="267.69" y="225.1" width="0.86" height="63.6" fill="#fff"/><rect shape-rendering="crispEdges" x="269.98" y="225.1" width="0.86" height="63.6" fill="#fff"/><rect shape-rendering="crispEdges" x="272.84" y="225.1" width="0.86" height="63.6" fill="#fff"/><rect shape-rendering="crispEdges" x="275.71" y="225.1" width="0.86" height="63.6" fill="#fff"/><rect shape-rendering="crispEdges" x="278.57" y="225.1" width="0.86" height="63.6" fill="#fff"/><rect shape-rendering="crispEdges" x="281.43" y="225.1" width="0.86" height="63.6" fill="#fff"/><rect shape-rendering="crispEdges" x="284.87" y="225.1" width="0.86" height="63.6" fill="#fff"/><rect shape-rendering="crispEdges" x="288.59" y="225.1" width="0.86" height="63.6" fill="#fff"/><rect shape-rendering="crispEdges" x="292.89" y="225.1" width="1.43" height="63.6" fill="#fff"/><rect shape-rendering="crispEdges" x="299.19" y="225.1" width="1.72" height="63.6" fill="#fff"/><rect shape-rendering="crispEdges" x="302.62" y="225.1" width="0.86" height="63.6" fill="#fff"/><rect shape-rendering="crispEdges" x="307.78" y="225.1" width="0.86" height="63.6" fill="#fff"/><rect shape-rendering="crispEdges" x="315.80" y="225.1" width="0.86" height="63.6" fill="#fff"/><rect shape-rendering="crispEdges" x="319.81" y="225.1" width="0.86" height="63.6" fill="#fff"/><rect shape-rendering="crispEdges" x="322.67" y="225.1" width="0.86" height="63.6" fill="#fff"/><rect shape-rendering="crispEdges" x="328.40" y="225.1" width="1.15" height="63.6" fill="#fff"/><rect shape-rendering="crispEdges" x="330.69" y="225.1" width="0.86" height="63.6" fill="#fff"/><rect shape-rendering="crispEdges" x="336.99" y="225.1" width="2.86" height="63.6" fill="#fff"/><rect shape-rendering="crispEdges" x="344.43" y="225.1" width="1.15" height="63.6" fill="#fff"/><rect shape-rendering="crispEdges" x="349.30" y="225.1" width="1.43" height="63.6" fill="#fff"/><rect shape-rendering="crispEdges" x="352.17" y="225.1" width="0.86" height="63.6" fill="#fff"/><rect shape-rendering="crispEdges" x="354.17" y="225.1" width="0.86" height="63.6" fill="#fff"/><rect shape-rendering="crispEdges" x="356.46" y="225.1" width="0.86" height="63.6" fill="#fff"/><rect shape-rendering="crispEdges" x="358.75" y="225.1" width="0.86" height="63.6" fill="#fff"/><rect shape-rendering="crispEdges" x="367.06" y="225.1" width="2.00" height="63.6" fill="#fff"/><rect shape-rendering="crispEdges" x="370.21" y="225.1" width="1.15" height="63.6" fill="#fff"/><rect shape-rendering="crispEdges" x="373.07" y="225.1" width="1.15" height="63.6" fill="#fff"/><rect shape-rendering="crispEdges" x="376.51" y="225.1" width="2.86" height="63.6" fill="#fff"/><rect shape-rendering="crispEdges" x="385.96" y="225.1" width="1.43" height="63.6" fill="#fff"/><rect shape-rendering="crispEdges" x="390.25" y="225.1" width="1.15" height="63.6" fill="#fff"/><rect shape-rendering="crispEdges" x="397.13" y="225.1" width="1.15" height="63.6" fill="#fff"/><rect shape-rendering="crispEdges" x="399.99" y="225.1" width="0.86" height="63.6" fill="#fff"/><rect shape-rendering="crispEdges" x="402.85" y="225.1" width="0.86" height="63.6" fill="#fff"/><rect shape-rendering="crispEdges" x="405.14" y="225.1" width="0.86" height="63.6" fill="#fff"/><rect shape-rendering="crispEdges" x="410.87" y="225.1" width="0.86" height="63.6" fill="#fff"/><rect shape-rendering="crispEdges" x="413.16" y="225.1" width="0.86" height="63.6" fill="#fff"/><rect shape-rendering="crispEdges" x="415.45" y="225.1" width="0.86" height="63.6" fill="#fff"/><rect shape-rendering="crispEdges" x="417.17" y="225.1" width="2.86" height="63.6" fill="#fff"/><rect shape-rendering="crispEdges" x="425.19" y="225.1" width="1.15" height="63.6" fill="#fff"/><rect shape-rendering="crispEdges" x="428.91" y="225.1" width="2.00" height="63.6" fill="#fff"/><rect shape-rendering="crispEdges" x="444.09" y="225.1" width="0.57" height="63.6" fill="#fff"/><rect shape-rendering="crispEdges" x="445.81" y="225.1" width="0.86" height="63.6" fill="#fff"/><rect shape-rendering="crispEdges" x="447.53" y="225.1" width="3.44" height="63.6" fill="#fff"/><rect x="68.7" y="288.4" width="380.8" height="16.6" fill="#f5b8e2"/><rect x="68.66" y="288.4" width="1.48" height="16.6" fill="rgba(120,90,110,0.16)"/><rect x="71.73" y="288.4" width="1.51" height="16.6" fill="rgba(120,90,110,0.15)"/><rect x="74.24" y="288.4" width="0.94" height="16.6" fill="rgba(120,90,110,0.15)"/><rect x="76.27" y="288.4" width="2.16" height="16.6" fill="rgba(120,90,110,0.05)"/><rect x="78.95" y="288.4" width="0.75" height="16.6" fill="rgba(120,90,110,0.22)"/><rect x="80.90" y="288.4" width="0.66" height="16.6" fill="rgba(120,90,110,0.26)"/><rect x="83.21" y="288.4" width="1.88" height="16.6" fill="rgba(120,90,110,0.17)"/><rect x="85.37" y="288.4" width="0.60" height="16.6" fill="rgba(120,90,110,0.15)"/><rect x="86.07" y="288.4" width="0.95" height="16.6" fill="rgba(120,90,110,0.09)"/><rect x="87.08" y="288.4" width="1.50" height="16.6" fill="rgba(120,90,110,0.13)"/><rect x="90.03" y="288.4" width="1.61" height="16.6" fill="rgba(120,90,110,0.18)"/><rect x="92.50" y="288.4" width="1.90" height="16.6" fill="rgba(120,90,110,0.14)"/><rect x="94.88" y="288.4" width="2.57" height="16.6" fill="rgba(120,90,110,0.26)"/><rect x="98.90" y="288.4" width="1.99" height="16.6" fill="rgba(120,90,110,0.10)"/><rect x="101.28" y="288.4" width="1.15" height="16.6" fill="rgba(120,90,110,0.05)"/><rect x="103.75" y="288.4" width="1.38" height="16.6" fill="rgba(120,90,110,0.22)"/><rect x="105.79" y="288.4" width="2.49" height="16.6" fill="rgba(120,90,110,0.22)"/><rect x="108.28" y="288.4" width="0.99" height="16.6" fill="rgba(120,90,110,0.24)"/><rect x="110.08" y="288.4" width="2.54" height="16.6" fill="rgba(120,90,110,0.12)"/><rect x="112.75" y="288.4" width="1.83" height="16.6" fill="rgba(120,90,110,0.21)"/><rect x="115.05" y="288.4" width="0.75" height="16.6" fill="rgba(120,90,110,0.11)"/><rect x="117.45" y="288.4" width="2.09" height="16.6" fill="rgba(120,90,110,0.06)"/><rect x="119.97" y="288.4" width="0.78" height="16.6" fill="rgba(120,90,110,0.04)"/><rect x="122.11" y="288.4" width="0.93" height="16.6" fill="rgba(120,90,110,0.16)"/><rect x="123.81" y="288.4" width="0.95" height="16.6" fill="rgba(120,90,110,0.20)"/><rect x="124.99" y="288.4" width="1.86" height="16.6" fill="rgba(120,90,110,0.06)"/><rect x="127.57" y="288.4" width="1.00" height="16.6" fill="rgba(120,90,110,0.09)"/><rect x="130.24" y="288.4" width="2.18" height="16.6" fill="rgba(120,90,110,0.10)"/><rect x="133.95" y="288.4" width="1.00" height="16.6" fill="rgba(120,90,110,0.12)"/><rect x="136.41" y="288.4" width="1.86" height="16.6" fill="rgba(120,90,110,0.05)"/><rect x="139.97" y="288.4" width="1.00" height="16.6" fill="rgba(120,90,110,0.09)"/><rect x="142.30" y="288.4" width="1.23" height="16.6" fill="rgba(120,90,110,0.10)"/><rect x="143.65" y="288.4" width="0.75" height="16.6" fill="rgba(120,90,110,0.16)"/><rect x="144.82" y="288.4" width="1.78" height="16.6" fill="rgba(120,90,110,0.12)"/><rect x="147.38" y="288.4" width="2.50" height="16.6" fill="rgba(120,90,110,0.14)"/><rect x="150.86" y="288.4" width="2.31" height="16.6" fill="rgba(120,90,110,0.07)"/><rect x="153.44" y="288.4" width="2.39" height="16.6" fill="rgba(120,90,110,0.22)"/><rect x="156.26" y="288.4" width="0.95" height="16.6" fill="rgba(120,90,110,0.20)"/><rect x="158.83" y="288.4" width="0.97" height="16.6" fill="rgba(120,90,110,0.25)"/><rect x="161.31" y="288.4" width="1.78" height="16.6" fill="rgba(120,90,110,0.13)"/><rect x="163.27" y="288.4" width="0.65" height="16.6" fill="rgba(120,90,110,0.25)"/><rect x="164.33" y="288.4" width="1.99" height="16.6" fill="rgba(120,90,110,0.09)"/><rect x="167.73" y="288.4" width="1.77" height="16.6" fill="rgba(120,90,110,0.10)"/><rect x="169.80" y="288.4" width="2.02" height="16.6" fill="rgba(120,90,110,0.05)"/><rect x="172.21" y="288.4" width="1.69" height="16.6" fill="rgba(120,90,110,0.23)"/><rect x="174.96" y="288.4" width="1.13" height="16.6" fill="rgba(120,90,110,0.24)"/><rect x="176.45" y="288.4" width="0.61" height="16.6" fill="rgba(120,90,110,0.09)"/><rect x="177.82" y="288.4" width="0.69" height="16.6" fill="rgba(120,90,110,0.07)"/><rect x="179.15" y="288.4" width="1.72" height="16.6" fill="rgba(120,90,110,0.06)"/><rect x="181.49" y="288.4" width="2.36" height="16.6" fill="rgba(120,90,110,0.26)"/><rect x="184.98" y="288.4" width="1.96" height="16.6" fill="rgba(120,90,110,0.16)"/><rect x="187.18" y="288.4" width="0.64" height="16.6" fill="rgba(120,90,110,0.03)"/><rect x="189.38" y="288.4" width="1.98" height="16.6" fill="rgba(120,90,110,0.25)"/><rect x="191.40" y="288.4" width="1.85" height="16.6" fill="rgba(120,90,110,0.14)"/><rect x="194.50" y="288.4" width="1.21" height="16.6" fill="rgba(120,90,110,0.26)"/><rect x="195.84" y="288.4" width="1.67" height="16.6" fill="rgba(120,90,110,0.20)"/><rect x="199.06" y="288.4" width="2.05" height="16.6" fill="rgba(120,90,110,0.19)"/><rect x="202.47" y="288.4" width="2.41" height="16.6" fill="rgba(120,90,110,0.11)"/><rect x="206.05" y="288.4" width="2.38" height="16.6" fill="rgba(120,90,110,0.23)"/><rect x="209.15" y="288.4" width="2.16" height="16.6" fill="rgba(120,90,110,0.23)"/><rect x="212.29" y="288.4" width="1.83" height="16.6" fill="rgba(120,90,110,0.12)"/><rect x="215.12" y="288.4" width="1.79" height="16.6" fill="rgba(120,90,110,0.05)"/><rect x="218.01" y="288.4" width="2.56" height="16.6" fill="rgba(120,90,110,0.23)"/><rect x="221.82" y="288.4" width="1.35" height="16.6" fill="rgba(120,90,110,0.20)"/><rect x="224.17" y="288.4" width="1.46" height="16.6" fill="rgba(120,90,110,0.22)"/><rect x="225.77" y="288.4" width="2.08" height="16.6" fill="rgba(120,90,110,0.04)"/><rect x="228.88" y="288.4" width="1.54" height="16.6" fill="rgba(120,90,110,0.08)"/><rect x="231.62" y="288.4" width="1.57" height="16.6" fill="rgba(120,90,110,0.17)"/><rect x="234.77" y="288.4" width="1.09" height="16.6" fill="rgba(120,90,110,0.03)"/><rect x="236.37" y="288.4" width="1.93" height="16.6" fill="rgba(120,90,110,0.08)"/><rect x="238.60" y="288.4" width="2.39" height="16.6" fill="rgba(120,90,110,0.18)"/><rect x="241.75" y="288.4" width="2.36" height="16.6" fill="rgba(120,90,110,0.11)"/><rect x="245.25" y="288.4" width="0.97" height="16.6" fill="rgba(120,90,110,0.13)"/><rect x="247.61" y="288.4" width="2.41" height="16.6" fill="rgba(120,90,110,0.23)"/><rect x="250.67" y="288.4" width="1.74" height="16.6" fill="rgba(120,90,110,0.10)"/><rect x="252.65" y="288.4" width="1.57" height="16.6" fill="rgba(120,90,110,0.22)"/><rect x="255.67" y="288.4" width="2.00" height="16.6" fill="rgba(120,90,110,0.25)"/><rect x="258.15" y="288.4" width="0.91" height="16.6" fill="rgba(120,90,110,0.13)"/><rect x="259.53" y="288.4" width="1.00" height="16.6" fill="rgba(120,90,110,0.13)"/><rect x="261.61" y="288.4" width="1.56" height="16.6" fill="rgba(120,90,110,0.10)"/><rect x="264.61" y="288.4" width="2.54" height="16.6" fill="rgba(120,90,110,0.13)"/><rect x="267.28" y="288.4" width="0.64" height="16.6" fill="rgba(120,90,110,0.23)"/><rect x="267.99" y="288.4" width="1.99" height="16.6" fill="rgba(120,90,110,0.16)"/><rect x="270.51" y="288.4" width="2.16" height="16.6" fill="rgba(120,90,110,0.03)"/><rect x="272.91" y="288.4" width="1.48" height="16.6" fill="rgba(120,90,110,0.04)"/><rect x="275.82" y="288.4" width="1.05" height="16.6" fill="rgba(120,90,110,0.06)"/><rect x="276.95" y="288.4" width="1.83" height="16.6" fill="rgba(120,90,110,0.13)"/><rect x="279.86" y="288.4" width="1.89" height="16.6" fill="rgba(120,90,110,0.22)"/><rect x="283.40" y="288.4" width="1.94" height="16.6" fill="rgba(120,90,110,0.08)"/><rect x="286.16" y="288.4" width="0.93" height="16.6" fill="rgba(120,90,110,0.03)"/><rect x="287.90" y="288.4" width="2.00" height="16.6" fill="rgba(120,90,110,0.07)"/><rect x="290.37" y="288.4" width="1.27" height="16.6" fill="rgba(120,90,110,0.19)"/><rect x="292.53" y="288.4" width="1.80" height="16.6" fill="rgba(120,90,110,0.20)"/><rect x="295.01" y="288.4" width="2.16" height="16.6" fill="rgba(120,90,110,0.24)"/><rect x="297.32" y="288.4" width="2.44" height="16.6" fill="rgba(120,90,110,0.20)"/><rect x="299.99" y="288.4" width="1.48" height="16.6" fill="rgba(120,90,110,0.17)"/><rect x="303.03" y="288.4" width="1.33" height="16.6" fill="rgba(120,90,110,0.16)"/><rect x="305.87" y="288.4" width="2.17" height="16.6" fill="rgba(120,90,110,0.25)"/><rect x="308.84" y="288.4" width="1.88" height="16.6" fill="rgba(120,90,110,0.08)"/><rect x="311.96" y="288.4" width="2.21" height="16.6" fill="rgba(120,90,110,0.18)"/><rect x="315.40" y="288.4" width="1.00" height="16.6" fill="rgba(120,90,110,0.24)"/><rect x="318.09" y="288.4" width="2.53" height="16.6" fill="rgba(120,90,110,0.15)"/><rect x="321.98" y="288.4" width="1.21" height="16.6" fill="rgba(120,90,110,0.24)"/><rect x="324.66" y="288.4" width="1.27" height="16.6" fill="rgba(120,90,110,0.05)"/><rect x="326.69" y="288.4" width="1.68" height="16.6" fill="rgba(120,90,110,0.21)"/><rect x="329.21" y="288.4" width="0.63" height="16.6" fill="rgba(120,90,110,0.22)"/><rect x="329.95" y="288.4" width="2.18" height="16.6" fill="rgba(120,90,110,0.07)"/><rect x="332.70" y="288.4" width="2.15" height="16.6" fill="rgba(120,90,110,0.06)"/><rect x="335.11" y="288.4" width="1.61" height="16.6" fill="rgba(120,90,110,0.20)"/><rect x="338.16" y="288.4" width="1.95" height="16.6" fill="rgba(120,90,110,0.25)"/><rect x="340.96" y="288.4" width="2.48" height="16.6" fill="rgba(120,90,110,0.05)"/><rect x="343.81" y="288.4" width="1.63" height="16.6" fill="rgba(120,90,110,0.10)"/><rect x="346.69" y="288.4" width="1.85" height="16.6" fill="rgba(120,90,110,0.15)"/><rect x="350.00" y="288.4" width="1.70" height="16.6" fill="rgba(120,90,110,0.10)"/><rect x="352.35" y="288.4" width="2.27" height="16.6" fill="rgba(120,90,110,0.24)"/><rect x="354.97" y="288.4" width="2.28" height="16.6" fill="rgba(120,90,110,0.25)"/><rect x="358.15" y="288.4" width="1.72" height="16.6" fill="rgba(120,90,110,0.08)"/><rect x="360.79" y="288.4" width="1.58" height="16.6" fill="rgba(120,90,110,0.17)"/><rect x="362.42" y="288.4" width="2.52" height="16.6" fill="rgba(120,90,110,0.15)"/><rect x="365.63" y="288.4" width="2.18" height="16.6" fill="rgba(120,90,110,0.16)"/><rect x="368.65" y="288.4" width="1.96" height="16.6" fill="rgba(120,90,110,0.05)"/><rect x="371.53" y="288.4" width="1.40" height="16.6" fill="rgba(120,90,110,0.25)"/><rect x="374.52" y="288.4" width="1.11" height="16.6" fill="rgba(120,90,110,0.14)"/><rect x="375.85" y="288.4" width="1.44" height="16.6" fill="rgba(120,90,110,0.22)"/><rect x="378.84" y="288.4" width="1.53" height="16.6" fill="rgba(120,90,110,0.10)"/><rect x="380.70" y="288.4" width="1.81" height="16.6" fill="rgba(120,90,110,0.24)"/><rect x="382.73" y="288.4" width="2.13" height="16.6" fill="rgba(120,90,110,0.04)"/><rect x="385.20" y="288.4" width="1.03" height="16.6" fill="rgba(120,90,110,0.19)"/><rect x="386.78" y="288.4" width="1.29" height="16.6" fill="rgba(120,90,110,0.17)"/><rect x="388.25" y="288.4" width="2.04" height="16.6" fill="rgba(120,90,110,0.06)"/><rect x="391.16" y="288.4" width="1.07" height="16.6" fill="rgba(120,90,110,0.08)"/><rect x="393.15" y="288.4" width="1.45" height="16.6" fill="rgba(120,90,110,0.12)"/><rect x="395.31" y="288.4" width="1.63" height="16.6" fill="rgba(120,90,110,0.07)"/><rect x="397.29" y="288.4" width="1.84" height="16.6" fill="rgba(120,90,110,0.18)"/><rect x="400.04" y="288.4" width="2.28" height="16.6" fill="rgba(120,90,110,0.17)"/><rect x="403.79" y="288.4" width="1.04" height="16.6" fill="rgba(120,90,110,0.20)"/><rect x="406.22" y="288.4" width="2.38" height="16.6" fill="rgba(120,90,110,0.10)"/><rect x="409.15" y="288.4" width="2.42" height="16.6" fill="rgba(120,90,110,0.08)"/><rect x="413.29" y="288.4" width="2.35" height="16.6" fill="rgba(120,90,110,0.06)"/><rect x="416.05" y="288.4" width="2.03" height="16.6" fill="rgba(120,90,110,0.09)"/><rect x="418.24" y="288.4" width="2.24" height="16.6" fill="rgba(120,90,110,0.13)"/><rect x="421.84" y="288.4" width="0.83" height="16.6" fill="rgba(120,90,110,0.12)"/><rect x="423.85" y="288.4" width="0.61" height="16.6" fill="rgba(120,90,110,0.08)"/><rect x="425.63" y="288.4" width="2.40" height="16.6" fill="rgba(120,90,110,0.25)"/><rect x="428.22" y="288.4" width="1.59" height="16.6" fill="rgba(120,90,110,0.20)"/><rect x="430.67" y="288.4" width="1.95" height="16.6" fill="rgba(120,90,110,0.07)"/><rect x="432.74" y="288.4" width="0.79" height="16.6" fill="rgba(120,90,110,0.04)"/><rect x="434.48" y="288.4" width="1.60" height="16.6" fill="rgba(120,90,110,0.16)"/><rect x="436.33" y="288.4" width="0.94" height="16.6" fill="rgba(120,90,110,0.08)"/><rect x="438.72" y="288.4" width="2.56" height="16.6" fill="rgba(120,90,110,0.24)"/><rect x="441.44" y="288.4" width="0.70" height="16.6" fill="rgba(120,90,110,0.25)"/><rect x="442.93" y="288.4" width="2.11" height="16.6" fill="rgba(120,90,110,0.11)"/><rect x="445.84" y="288.4" width="1.61" height="16.6" fill="rgba(120,90,110,0.13)"/><rect x="448.48" y="288.4" width="0.60" height="16.6" fill="rgba(120,90,110,0.19)"/><rect x="450.53" y="288.4" width="0.94" height="16.6" fill="rgba(120,90,110,0.13)"/><path d="M68.7 305.0H449.5" stroke="#d79cc4" stroke-width="1"/><text x="72.4" y="314.1" font-size="10" fill="#f02020" textLength="147" lengthAdjust="spacingAndGlyphs">'na_pos' (positively correlated)</text><path d="M153.1 317.0V435.9" stroke="#9a9a9a" stroke-width="0.9" stroke-dasharray="3 2"/><text x="111.6" y="372.5" font-size="9" fill="#000" textLength="84" lengthAdjust="spacing">Zero cross at 205</text><path d="M68.7 328.5L69.8 328.5L70.7 420.1L72.1 428.7L72.1 435.9L68.7 435.9z" fill="#a8a8a8"/><text x="63.5" y="328.2" text-anchor="end" font-size="10.5" fill="#000" textLength="33" lengthAdjust="spacingAndGlyphs">0.0005</text><path d="M68.7 325.1h-2" stroke="#8c8c8c" stroke-width="1"/><text x="63.5" y="350.2" text-anchor="end" font-size="10.5" fill="#000" textLength="33" lengthAdjust="spacingAndGlyphs">0.0004</text><path d="M68.7 347.1h-2" stroke="#8c8c8c" stroke-width="1"/><text x="63.5" y="372.3" text-anchor="end" font-size="10.5" fill="#000" textLength="33" lengthAdjust="spacingAndGlyphs">0.0003</text><path d="M68.7 369.2h-2" stroke="#8c8c8c" stroke-width="1"/><text x="63.5" y="394.9" text-anchor="end" font-size="10.5" fill="#000" textLength="33" lengthAdjust="spacingAndGlyphs">0.0002</text><path d="M68.7 391.8h-2" stroke="#8c8c8c" stroke-width="1"/><text x="63.5" y="416.9" text-anchor="end" font-size="10.5" fill="#000" textLength="33" lengthAdjust="spacingAndGlyphs">0.0001</text><path d="M68.7 413.8h-2" stroke="#8c8c8c" stroke-width="1"/><text x="63.5" y="439.0" text-anchor="end" font-size="10.5" fill="#000" textLength="33" lengthAdjust="spacingAndGlyphs">0.0000</text><path d="M68.7 435.9h-2" stroke="#8c8c8c" stroke-width="1"/><text transform="translate(22.3,370.6) rotate(-90)" text-anchor="middle" font-size="13" fill="#000" textLength="193" lengthAdjust="spacingAndGlyphs">Ranked list metric (PreRanked)</text><text x="69.2" y="449.4" text-anchor="middle" font-size="10.5" fill="#000" textLength="6.5" lengthAdjust="spacingAndGlyphs">0</text><path d="M69.2 435.9v2" stroke="#8c8c8c" stroke-width="1"/><text x="110.2" y="449.4" text-anchor="middle" font-size="10.5" fill="#000" textLength="19" lengthAdjust="spacingAndGlyphs">100</text><path d="M110.2 435.9v2" stroke="#8c8c8c" stroke-width="1"/><text x="151.4" y="449.4" text-anchor="middle" font-size="10.5" fill="#000" textLength="19" lengthAdjust="spacingAndGlyphs">200</text><path d="M151.4 435.9v2" stroke="#8c8c8c" stroke-width="1"/><text x="192.4" y="449.4" text-anchor="middle" font-size="10.5" fill="#000" textLength="19" lengthAdjust="spacingAndGlyphs">300</text><path d="M192.4 435.9v2" stroke="#8c8c8c" stroke-width="1"/><text x="233.3" y="449.4" text-anchor="middle" font-size="10.5" fill="#000" textLength="19" lengthAdjust="spacingAndGlyphs">400</text><path d="M233.3 435.9v2" stroke="#8c8c8c" stroke-width="1"/><text x="275.4" y="449.4" text-anchor="middle" font-size="10.5" fill="#000" textLength="19" lengthAdjust="spacingAndGlyphs">500</text><path d="M275.4 435.9v2" stroke="#8c8c8c" stroke-width="1"/><text x="316.4" y="449.4" text-anchor="middle" font-size="10.5" fill="#000" textLength="19" lengthAdjust="spacingAndGlyphs">600</text><path d="M316.4 435.9v2" stroke="#8c8c8c" stroke-width="1"/><text x="357.3" y="449.4" text-anchor="middle" font-size="10.5" fill="#000" textLength="19" lengthAdjust="spacingAndGlyphs">700</text><path d="M357.3 435.9v2" stroke="#8c8c8c" stroke-width="1"/><text x="398.3" y="449.4" text-anchor="middle" font-size="10.5" fill="#000" textLength="19" lengthAdjust="spacingAndGlyphs">800</text><path d="M398.3 435.9v2" stroke="#8c8c8c" stroke-width="1"/><text x="440.1" y="449.4" text-anchor="middle" font-size="10.5" fill="#000" textLength="19" lengthAdjust="spacingAndGlyphs">900</text><path d="M440.1 435.9v2" stroke="#8c8c8c" stroke-width="1"/><text x="280.0" y="464.7" text-anchor="middle" font-size="13" fill="#000" textLength="154" lengthAdjust="spacingAndGlyphs">Rank in Ordered Dataset</text><rect x="62.4" y="476.6" width="375.1" height="30" fill="#fff" stroke="#000" stroke-width="1"/></svg>
</div>
</div></body></html>
